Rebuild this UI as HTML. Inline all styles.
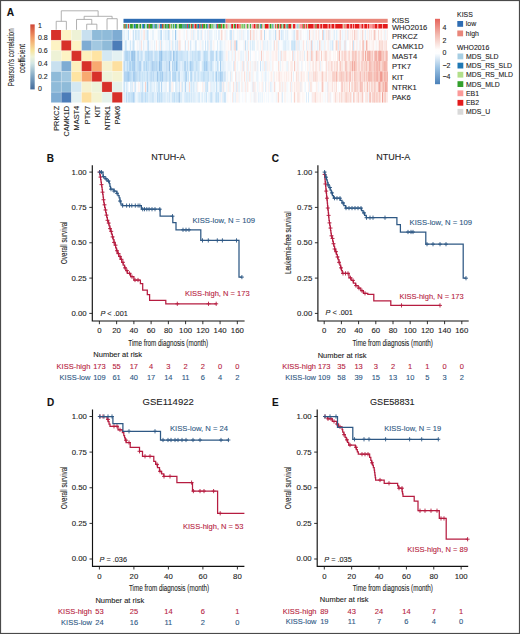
<!DOCTYPE html><html><head><meta charset="utf-8"><style>html,body{margin:0;padding:0;background:#fff}svg{display:block}text{font-family:"Liberation Sans",sans-serif;stroke-width:0.1px}</style></head><body>
<svg width="520" height="634" viewBox="0 0 520 634">
<rect x="0" y="0" width="520" height="634" fill="#fff"/>
<text x="6.80" y="15.80" font-size="10.2" fill="#111" stroke="#111" font-weight="bold">A</text>
<defs><linearGradient id="g1" x1="0" y1="1" x2="0" y2="0"><stop offset="0" stop-color="#41699a"/><stop offset="0.2" stop-color="#7fa6c4"/><stop offset="0.4" stop-color="#d2e6e4"/><stop offset="0.5" stop-color="#eef3d8"/><stop offset="0.6" stop-color="#f6e49c"/><stop offset="0.8" stop-color="#f29a64"/><stop offset="1" stop-color="#cf4535"/></linearGradient><linearGradient id="g2" x1="0" y1="1" x2="0" y2="0"><stop offset="0" stop-color="#4a80b8"/><stop offset="0.25" stop-color="#9cc3e4"/><stop offset="0.47" stop-color="#fdfeff"/><stop offset="0.53" stop-color="#fffdfc"/><stop offset="0.75" stop-color="#f3bcb2"/><stop offset="1" stop-color="#e6625a"/></linearGradient></defs>
<rect x="30.3" y="24.4" width="4.4" height="65" fill="url(#g1)"/>
<text x="37.90" y="27.52" font-size="7.0" fill="#1c1c1c" stroke="#1c1c1c">1</text>
<text x="37.90" y="40.22" font-size="7.0" fill="#1c1c1c" stroke="#1c1c1c">0.8</text>
<text x="37.90" y="52.82" font-size="7.0" fill="#1c1c1c" stroke="#1c1c1c">0.6</text>
<text x="37.90" y="66.12" font-size="7.0" fill="#1c1c1c" stroke="#1c1c1c">0.4</text>
<text x="37.90" y="78.72" font-size="7.0" fill="#1c1c1c" stroke="#1c1c1c">0.2</text>
<text x="37.90" y="91.32" font-size="7.0" fill="#1c1c1c" stroke="#1c1c1c">0</text>
<text transform="translate(13.90,57.25) rotate(-90)" x="0" y="0" font-size="8.2" fill="#1c1c1c" stroke="#1c1c1c" text-anchor="middle" textLength="58" lengthAdjust="spacingAndGlyphs">Pearson's correlation</text>
<text transform="translate(25.30,58.50) rotate(-90)" x="0" y="0" font-size="8.2" fill="#1c1c1c" stroke="#1c1c1c" text-anchor="middle" textLength="29" lengthAdjust="spacingAndGlyphs">coefficient</text>
<rect x="51.10" y="30.00" width="10.17" height="10.36" fill="#d7302a"/>
<rect x="61.27" y="30.00" width="10.17" height="10.36" fill="#fdf3c4"/>
<rect x="71.44" y="30.00" width="10.17" height="10.36" fill="#eef2d6"/>
<rect x="81.61" y="30.00" width="10.17" height="10.36" fill="#c8e0ef"/>
<rect x="91.78" y="30.00" width="10.17" height="10.36" fill="#8fbbd9"/>
<rect x="101.95" y="30.00" width="10.17" height="10.36" fill="#8fbbd9"/>
<rect x="112.12" y="30.00" width="10.17" height="10.36" fill="#7eacd3"/>
<rect x="51.10" y="40.36" width="10.17" height="10.36" fill="#fdf3c4"/>
<rect x="61.27" y="40.36" width="10.17" height="10.36" fill="#d7302a"/>
<rect x="71.44" y="40.36" width="10.17" height="10.36" fill="#fdf3c4"/>
<rect x="81.61" y="40.36" width="10.17" height="10.36" fill="#7eacd3"/>
<rect x="91.78" y="40.36" width="10.17" height="10.36" fill="#a2c8e1"/>
<rect x="101.95" y="40.36" width="10.17" height="10.36" fill="#8fbbd9"/>
<rect x="112.12" y="40.36" width="10.17" height="10.36" fill="#4c7cb8"/>
<rect x="51.10" y="50.72" width="10.17" height="10.36" fill="#eef2d6"/>
<rect x="61.27" y="50.72" width="10.17" height="10.36" fill="#fdf3c4"/>
<rect x="71.44" y="50.72" width="10.17" height="10.36" fill="#d7302a"/>
<rect x="81.61" y="50.72" width="10.17" height="10.36" fill="#fdf0bc"/>
<rect x="91.78" y="50.72" width="10.17" height="10.36" fill="#fee4a2"/>
<rect x="101.95" y="50.72" width="10.17" height="10.36" fill="#d4e8f2"/>
<rect x="112.12" y="50.72" width="10.17" height="10.36" fill="#e4f1f2"/>
<rect x="51.10" y="61.08" width="10.17" height="10.36" fill="#c8e0ef"/>
<rect x="61.27" y="61.08" width="10.17" height="10.36" fill="#7eacd3"/>
<rect x="71.44" y="61.08" width="10.17" height="10.36" fill="#fdf0bc"/>
<rect x="81.61" y="61.08" width="10.17" height="10.36" fill="#d7302a"/>
<rect x="91.78" y="61.08" width="10.17" height="10.36" fill="#f8a970"/>
<rect x="101.95" y="61.08" width="10.17" height="10.36" fill="#f6f2cf"/>
<rect x="112.12" y="61.08" width="10.17" height="10.36" fill="#fde0a0"/>
<rect x="51.10" y="71.44" width="10.17" height="10.36" fill="#8fbbd9"/>
<rect x="61.27" y="71.44" width="10.17" height="10.36" fill="#a2c8e1"/>
<rect x="71.44" y="71.44" width="10.17" height="10.36" fill="#fee4a2"/>
<rect x="81.61" y="71.44" width="10.17" height="10.36" fill="#f8a970"/>
<rect x="91.78" y="71.44" width="10.17" height="10.36" fill="#d7302a"/>
<rect x="101.95" y="71.44" width="10.17" height="10.36" fill="#eef3da"/>
<rect x="112.12" y="71.44" width="10.17" height="10.36" fill="#f4f3d2"/>
<rect x="51.10" y="81.80" width="10.17" height="10.36" fill="#8fbbd9"/>
<rect x="61.27" y="81.80" width="10.17" height="10.36" fill="#8fbbd9"/>
<rect x="71.44" y="81.80" width="10.17" height="10.36" fill="#d4e8f2"/>
<rect x="81.61" y="81.80" width="10.17" height="10.36" fill="#f6f2cf"/>
<rect x="91.78" y="81.80" width="10.17" height="10.36" fill="#eef3da"/>
<rect x="101.95" y="81.80" width="10.17" height="10.36" fill="#d7302a"/>
<rect x="112.12" y="81.80" width="10.17" height="10.36" fill="#e6f1ea"/>
<rect x="51.10" y="92.16" width="10.17" height="10.36" fill="#7eacd3"/>
<rect x="61.27" y="92.16" width="10.17" height="10.36" fill="#4c7cb8"/>
<rect x="71.44" y="92.16" width="10.17" height="10.36" fill="#e4f1f2"/>
<rect x="81.61" y="92.16" width="10.17" height="10.36" fill="#fde0a0"/>
<rect x="91.78" y="92.16" width="10.17" height="10.36" fill="#f4f3d2"/>
<rect x="101.95" y="92.16" width="10.17" height="10.36" fill="#e6f1ea"/>
<rect x="112.12" y="92.16" width="10.17" height="10.36" fill="#d7302a"/>
<path d="M61.27 30.0V102.52M51.1 40.36H122.29M71.44 30.0V102.52M51.1 50.72H122.29M81.61 30.0V102.52M51.1 61.08H122.29M91.78 30.0V102.52M51.1 71.44H122.29M101.95 30.0V102.52M51.1 81.80H122.29M112.12 30.0V102.52M51.1 92.16H122.29" stroke="#ffffff" stroke-opacity="0.35" stroke-width="0.6" fill="none"/>
<path d="M56.19 29.80V21.30H66.36V29.80M86.69 29.80V24.20H96.87V29.80M76.53 29.80V19.40H91.78V24.20M107.03 29.80V18.70H117.21V29.80M84.15 19.40V16.30H112.12V18.70M61.27 21.30V10.80H98.14V16.30" stroke="#a3a3a3" stroke-width="0.85" fill="none"/>
<text transform="translate(59.09,105.8) rotate(-90)" x="0" y="0" font-size="7.4" fill="#1c1c1c" stroke="#1c1c1c" text-anchor="end">PRKCZ</text>
<text transform="translate(69.26,105.8) rotate(-90)" x="0" y="0" font-size="7.4" fill="#1c1c1c" stroke="#1c1c1c" text-anchor="end">CAMK1D</text>
<text transform="translate(79.43,105.8) rotate(-90)" x="0" y="0" font-size="7.4" fill="#1c1c1c" stroke="#1c1c1c" text-anchor="end">MAST4</text>
<text transform="translate(89.59,105.8) rotate(-90)" x="0" y="0" font-size="7.4" fill="#1c1c1c" stroke="#1c1c1c" text-anchor="end">PTK7</text>
<text transform="translate(99.77,105.8) rotate(-90)" x="0" y="0" font-size="7.4" fill="#1c1c1c" stroke="#1c1c1c" text-anchor="end">KIT</text>
<text transform="translate(109.94,105.8) rotate(-90)" x="0" y="0" font-size="7.4" fill="#1c1c1c" stroke="#1c1c1c" text-anchor="end">NTRK1</text>
<text transform="translate(120.11,105.8) rotate(-90)" x="0" y="0" font-size="7.4" fill="#1c1c1c" stroke="#1c1c1c" text-anchor="end">PAK6</text>
<rect x="123.5" y="18.8" width="102.12" height="4" fill="#2f6db3"/>
<rect x="225.62" y="18.8" width="162.08" height="4" fill="#e9867a"/>
<defs><filter id="bx" x="-1%" y="-20%" width="102%" height="140%"><feGaussianBlur stdDeviation="0.55 0.15"/></filter></defs><g filter="url(#bx)">
<rect x="123.50" y="24" width="0.96" height="4.5" fill="#33a02c"/>
<rect x="124.44" y="24" width="0.96" height="4.5" fill="#e31a1c"/>
<rect x="125.37" y="24" width="0.96" height="4.5" fill="#33a02c"/>
<rect x="126.31" y="24" width="0.96" height="4.5" fill="#1f78b4"/>
<rect x="127.25" y="24" width="0.96" height="4.5" fill="#b2df8a"/>
<rect x="128.18" y="24" width="0.96" height="4.5" fill="#e31a1c"/>
<rect x="129.12" y="24" width="0.96" height="4.5" fill="#a6cee3"/>
<rect x="130.06" y="24" width="2.83" height="4.5" fill="#33a02c"/>
<rect x="132.87" y="24" width="0.96" height="4.5" fill="#b2df8a"/>
<rect x="133.81" y="24" width="1.89" height="4.5" fill="#1f78b4"/>
<rect x="135.68" y="24" width="2.83" height="4.5" fill="#33a02c"/>
<rect x="138.49" y="24" width="0.96" height="4.5" fill="#d9d9d9"/>
<rect x="139.43" y="24" width="1.89" height="4.5" fill="#33a02c"/>
<rect x="141.30" y="24" width="0.96" height="4.5" fill="#d9d9d9"/>
<rect x="142.24" y="24" width="1.89" height="4.5" fill="#1f78b4"/>
<rect x="144.11" y="24" width="0.96" height="4.5" fill="#33a02c"/>
<rect x="145.05" y="24" width="1.89" height="4.5" fill="#a6cee3"/>
<rect x="146.92" y="24" width="1.89" height="4.5" fill="#33a02c"/>
<rect x="148.80" y="24" width="0.96" height="4.5" fill="#e31a1c"/>
<rect x="149.73" y="24" width="2.83" height="4.5" fill="#33a02c"/>
<rect x="152.54" y="24" width="0.96" height="4.5" fill="#1f78b4"/>
<rect x="153.48" y="24" width="0.96" height="4.5" fill="#a6cee3"/>
<rect x="154.42" y="24" width="0.96" height="4.5" fill="#1f78b4"/>
<rect x="155.35" y="24" width="0.96" height="4.5" fill="#33a02c"/>
<rect x="156.29" y="24" width="0.96" height="4.5" fill="#1f78b4"/>
<rect x="157.23" y="24" width="0.96" height="4.5" fill="#b2df8a"/>
<rect x="158.16" y="24" width="0.96" height="4.5" fill="#a6cee3"/>
<rect x="159.10" y="24" width="0.96" height="4.5" fill="#fb9a99"/>
<rect x="160.04" y="24" width="1.89" height="4.5" fill="#1f78b4"/>
<rect x="161.91" y="24" width="0.96" height="4.5" fill="#e31a1c"/>
<rect x="162.85" y="24" width="0.96" height="4.5" fill="#33a02c"/>
<rect x="163.79" y="24" width="0.96" height="4.5" fill="#fb9a99"/>
<rect x="164.72" y="24" width="1.89" height="4.5" fill="#33a02c"/>
<rect x="166.60" y="24" width="0.96" height="4.5" fill="#1f78b4"/>
<rect x="167.53" y="24" width="1.89" height="4.5" fill="#33a02c"/>
<rect x="169.41" y="24" width="0.96" height="4.5" fill="#e31a1c"/>
<rect x="170.34" y="24" width="0.96" height="4.5" fill="#b2df8a"/>
<rect x="171.28" y="24" width="0.96" height="4.5" fill="#33a02c"/>
<rect x="172.22" y="24" width="0.96" height="4.5" fill="#a6cee3"/>
<rect x="173.15" y="24" width="0.96" height="4.5" fill="#33a02c"/>
<rect x="174.09" y="24" width="0.96" height="4.5" fill="#b2df8a"/>
<rect x="175.03" y="24" width="0.96" height="4.5" fill="#1f78b4"/>
<rect x="175.97" y="24" width="0.96" height="4.5" fill="#33a02c"/>
<rect x="176.90" y="24" width="0.96" height="4.5" fill="#b2df8a"/>
<rect x="177.84" y="24" width="0.96" height="4.5" fill="#d9d9d9"/>
<rect x="178.78" y="24" width="3.77" height="4.5" fill="#33a02c"/>
<rect x="182.52" y="24" width="0.96" height="4.5" fill="#1f78b4"/>
<rect x="183.46" y="24" width="0.96" height="4.5" fill="#33a02c"/>
<rect x="184.40" y="24" width="0.96" height="4.5" fill="#1f78b4"/>
<rect x="185.33" y="24" width="0.96" height="4.5" fill="#33a02c"/>
<rect x="186.27" y="24" width="0.96" height="4.5" fill="#1f78b4"/>
<rect x="187.21" y="24" width="0.96" height="4.5" fill="#e31a1c"/>
<rect x="188.14" y="24" width="0.96" height="4.5" fill="#1f78b4"/>
<rect x="189.08" y="24" width="0.96" height="4.5" fill="#33a02c"/>
<rect x="190.02" y="24" width="0.96" height="4.5" fill="#b2df8a"/>
<rect x="190.96" y="24" width="0.96" height="4.5" fill="#e31a1c"/>
<rect x="191.89" y="24" width="0.96" height="4.5" fill="#33a02c"/>
<rect x="192.83" y="24" width="0.96" height="4.5" fill="#1f78b4"/>
<rect x="193.77" y="24" width="0.96" height="4.5" fill="#fb9a99"/>
<rect x="194.70" y="24" width="1.89" height="4.5" fill="#e31a1c"/>
<rect x="196.58" y="24" width="0.96" height="4.5" fill="#33a02c"/>
<rect x="197.51" y="24" width="1.89" height="4.5" fill="#1f78b4"/>
<rect x="199.39" y="24" width="0.96" height="4.5" fill="#e31a1c"/>
<rect x="200.32" y="24" width="0.96" height="4.5" fill="#33a02c"/>
<rect x="201.26" y="24" width="0.96" height="4.5" fill="#1f78b4"/>
<rect x="202.20" y="24" width="0.96" height="4.5" fill="#e31a1c"/>
<rect x="203.13" y="24" width="1.89" height="4.5" fill="#33a02c"/>
<rect x="205.01" y="24" width="0.96" height="4.5" fill="#b2df8a"/>
<rect x="205.95" y="24" width="0.96" height="4.5" fill="#33a02c"/>
<rect x="206.88" y="24" width="0.96" height="4.5" fill="#1f78b4"/>
<rect x="207.82" y="24" width="0.96" height="4.5" fill="#a6cee3"/>
<rect x="208.76" y="24" width="0.96" height="4.5" fill="#e31a1c"/>
<rect x="209.69" y="24" width="1.89" height="4.5" fill="#33a02c"/>
<rect x="211.57" y="24" width="0.96" height="4.5" fill="#b2df8a"/>
<rect x="212.50" y="24" width="0.96" height="4.5" fill="#33a02c"/>
<rect x="213.44" y="24" width="0.96" height="4.5" fill="#a6cee3"/>
<rect x="214.38" y="24" width="0.96" height="4.5" fill="#b2df8a"/>
<rect x="215.31" y="24" width="0.96" height="4.5" fill="#a6cee3"/>
<rect x="216.25" y="24" width="0.96" height="4.5" fill="#1f78b4"/>
<rect x="217.19" y="24" width="0.96" height="4.5" fill="#e31a1c"/>
<rect x="218.12" y="24" width="2.83" height="4.5" fill="#33a02c"/>
<rect x="220.94" y="24" width="0.96" height="4.5" fill="#e31a1c"/>
<rect x="221.87" y="24" width="0.96" height="4.5" fill="#b2df8a"/>
<rect x="222.81" y="24" width="1.89" height="4.5" fill="#33a02c"/>
<rect x="224.68" y="24" width="0.96" height="4.5" fill="#b2df8a"/>
<rect x="225.62" y="24" width="0.96" height="4.5" fill="#fb9a99"/>
<rect x="226.56" y="24" width="0.96" height="4.5" fill="#e31a1c"/>
<rect x="227.49" y="24" width="0.96" height="4.5" fill="#d9d9d9"/>
<rect x="228.43" y="24" width="0.96" height="4.5" fill="#b2df8a"/>
<rect x="229.37" y="24" width="0.96" height="4.5" fill="#d9d9d9"/>
<rect x="230.30" y="24" width="0.96" height="4.5" fill="#a6cee3"/>
<rect x="231.24" y="24" width="1.89" height="4.5" fill="#e31a1c"/>
<rect x="233.11" y="24" width="0.96" height="4.5" fill="#b2df8a"/>
<rect x="234.05" y="24" width="0.96" height="4.5" fill="#33a02c"/>
<rect x="234.99" y="24" width="0.96" height="4.5" fill="#e31a1c"/>
<rect x="235.93" y="24" width="0.96" height="4.5" fill="#a6cee3"/>
<rect x="236.86" y="24" width="1.89" height="4.5" fill="#e31a1c"/>
<rect x="238.74" y="24" width="0.96" height="4.5" fill="#fb9a99"/>
<rect x="239.67" y="24" width="0.96" height="4.5" fill="#e31a1c"/>
<rect x="240.61" y="24" width="1.89" height="4.5" fill="#b2df8a"/>
<rect x="242.48" y="24" width="0.96" height="4.5" fill="#33a02c"/>
<rect x="243.42" y="24" width="0.96" height="4.5" fill="#b2df8a"/>
<rect x="244.36" y="24" width="0.96" height="4.5" fill="#33a02c"/>
<rect x="245.29" y="24" width="0.96" height="4.5" fill="#d9d9d9"/>
<rect x="246.23" y="24" width="0.96" height="4.5" fill="#fb9a99"/>
<rect x="247.17" y="24" width="0.96" height="4.5" fill="#33a02c"/>
<rect x="248.10" y="24" width="0.96" height="4.5" fill="#b2df8a"/>
<rect x="249.04" y="24" width="0.96" height="4.5" fill="#d9d9d9"/>
<rect x="249.98" y="24" width="0.96" height="4.5" fill="#33a02c"/>
<rect x="250.92" y="24" width="0.96" height="4.5" fill="#d9d9d9"/>
<rect x="251.85" y="24" width="1.89" height="4.5" fill="#fb9a99"/>
<rect x="253.73" y="24" width="1.89" height="4.5" fill="#e31a1c"/>
<rect x="255.60" y="24" width="0.96" height="4.5" fill="#fb9a99"/>
<rect x="256.54" y="24" width="0.96" height="4.5" fill="#33a02c"/>
<rect x="257.47" y="24" width="0.96" height="4.5" fill="#e31a1c"/>
<rect x="258.41" y="24" width="0.96" height="4.5" fill="#33a02c"/>
<rect x="259.35" y="24" width="0.96" height="4.5" fill="#d9d9d9"/>
<rect x="260.28" y="24" width="0.96" height="4.5" fill="#1f78b4"/>
<rect x="261.22" y="24" width="0.96" height="4.5" fill="#33a02c"/>
<rect x="262.16" y="24" width="0.96" height="4.5" fill="#fb9a99"/>
<rect x="263.10" y="24" width="0.96" height="4.5" fill="#d9d9d9"/>
<rect x="264.03" y="24" width="0.96" height="4.5" fill="#b2df8a"/>
<rect x="264.97" y="24" width="3.77" height="4.5" fill="#e31a1c"/>
<rect x="268.72" y="24" width="0.96" height="4.5" fill="#d9d9d9"/>
<rect x="269.65" y="24" width="1.89" height="4.5" fill="#33a02c"/>
<rect x="271.53" y="24" width="0.96" height="4.5" fill="#b2df8a"/>
<rect x="272.46" y="24" width="0.96" height="4.5" fill="#1f78b4"/>
<rect x="273.40" y="24" width="0.96" height="4.5" fill="#b2df8a"/>
<rect x="274.34" y="24" width="0.96" height="4.5" fill="#d9d9d9"/>
<rect x="275.27" y="24" width="0.96" height="4.5" fill="#e31a1c"/>
<rect x="276.21" y="24" width="0.96" height="4.5" fill="#b2df8a"/>
<rect x="277.15" y="24" width="0.96" height="4.5" fill="#e31a1c"/>
<rect x="278.09" y="24" width="0.96" height="4.5" fill="#33a02c"/>
<rect x="279.02" y="24" width="0.96" height="4.5" fill="#fb9a99"/>
<rect x="279.96" y="24" width="0.96" height="4.5" fill="#e31a1c"/>
<rect x="280.90" y="24" width="0.96" height="4.5" fill="#33a02c"/>
<rect x="281.83" y="24" width="0.96" height="4.5" fill="#d9d9d9"/>
<rect x="282.77" y="24" width="0.96" height="4.5" fill="#33a02c"/>
<rect x="283.71" y="24" width="1.89" height="4.5" fill="#e31a1c"/>
<rect x="285.58" y="24" width="0.96" height="4.5" fill="#b2df8a"/>
<rect x="286.52" y="24" width="0.96" height="4.5" fill="#1f78b4"/>
<rect x="287.45" y="24" width="0.96" height="4.5" fill="#33a02c"/>
<rect x="288.39" y="24" width="2.83" height="4.5" fill="#e31a1c"/>
<rect x="291.20" y="24" width="0.96" height="4.5" fill="#b2df8a"/>
<rect x="292.14" y="24" width="0.96" height="4.5" fill="#d9d9d9"/>
<rect x="293.08" y="24" width="1.89" height="4.5" fill="#e31a1c"/>
<rect x="294.95" y="24" width="0.96" height="4.5" fill="#fb9a99"/>
<rect x="295.89" y="24" width="0.96" height="4.5" fill="#d9d9d9"/>
<rect x="296.82" y="24" width="1.89" height="4.5" fill="#a6cee3"/>
<rect x="298.70" y="24" width="0.96" height="4.5" fill="#b2df8a"/>
<rect x="299.63" y="24" width="2.83" height="4.5" fill="#fb9a99"/>
<rect x="302.44" y="24" width="0.96" height="4.5" fill="#e31a1c"/>
<rect x="303.38" y="24" width="0.96" height="4.5" fill="#33a02c"/>
<rect x="304.32" y="24" width="0.96" height="4.5" fill="#e31a1c"/>
<rect x="305.25" y="24" width="0.96" height="4.5" fill="#fb9a99"/>
<rect x="306.19" y="24" width="0.96" height="4.5" fill="#e31a1c"/>
<rect x="307.13" y="24" width="0.96" height="4.5" fill="#b2df8a"/>
<rect x="308.07" y="24" width="5.64" height="4.5" fill="#e31a1c"/>
<rect x="313.69" y="24" width="0.96" height="4.5" fill="#fb9a99"/>
<rect x="314.62" y="24" width="0.96" height="4.5" fill="#e31a1c"/>
<rect x="315.56" y="24" width="0.96" height="4.5" fill="#33a02c"/>
<rect x="316.50" y="24" width="2.83" height="4.5" fill="#e31a1c"/>
<rect x="319.31" y="24" width="0.96" height="4.5" fill="#fb9a99"/>
<rect x="320.24" y="24" width="1.89" height="4.5" fill="#e31a1c"/>
<rect x="322.12" y="24" width="0.96" height="4.5" fill="#fb9a99"/>
<rect x="323.06" y="24" width="4.70" height="4.5" fill="#e31a1c"/>
<rect x="327.74" y="24" width="0.96" height="4.5" fill="#fb9a99"/>
<rect x="328.68" y="24" width="1.89" height="4.5" fill="#e31a1c"/>
<rect x="330.55" y="24" width="0.96" height="4.5" fill="#fb9a99"/>
<rect x="331.49" y="24" width="2.83" height="4.5" fill="#e31a1c"/>
<rect x="334.30" y="24" width="0.96" height="4.5" fill="#fb9a99"/>
<rect x="335.23" y="24" width="7.52" height="4.5" fill="#e31a1c"/>
<rect x="342.73" y="24" width="0.96" height="4.5" fill="#fb9a99"/>
<rect x="343.67" y="24" width="0.96" height="4.5" fill="#b2df8a"/>
<rect x="344.60" y="24" width="0.96" height="4.5" fill="#e31a1c"/>
<rect x="345.54" y="24" width="0.96" height="4.5" fill="#fb9a99"/>
<rect x="346.48" y="24" width="2.83" height="4.5" fill="#e31a1c"/>
<rect x="349.29" y="24" width="0.96" height="4.5" fill="#fb9a99"/>
<rect x="350.22" y="24" width="1.89" height="4.5" fill="#e31a1c"/>
<rect x="352.10" y="24" width="0.96" height="4.5" fill="#fb9a99"/>
<rect x="353.04" y="24" width="0.96" height="4.5" fill="#e31a1c"/>
<rect x="353.97" y="24" width="0.96" height="4.5" fill="#fb9a99"/>
<rect x="354.91" y="24" width="4.70" height="4.5" fill="#e31a1c"/>
<rect x="359.59" y="24" width="1.89" height="4.5" fill="#fb9a99"/>
<rect x="361.47" y="24" width="1.89" height="4.5" fill="#e31a1c"/>
<rect x="363.34" y="24" width="0.96" height="4.5" fill="#fb9a99"/>
<rect x="364.28" y="24" width="2.83" height="4.5" fill="#e31a1c"/>
<rect x="367.09" y="24" width="0.96" height="4.5" fill="#fb9a99"/>
<rect x="368.03" y="24" width="0.96" height="4.5" fill="#e31a1c"/>
<rect x="368.96" y="24" width="3.77" height="4.5" fill="#fb9a99"/>
<rect x="372.71" y="24" width="0.96" height="4.5" fill="#e31a1c"/>
<rect x="373.65" y="24" width="0.96" height="4.5" fill="#fb9a99"/>
<rect x="374.58" y="24" width="2.83" height="4.5" fill="#e31a1c"/>
<rect x="377.39" y="24" width="0.96" height="4.5" fill="#fb9a99"/>
<rect x="378.33" y="24" width="3.77" height="4.5" fill="#e31a1c"/>
<rect x="382.08" y="24" width="0.96" height="4.5" fill="#fb9a99"/>
<rect x="383.02" y="24" width="4.70" height="4.5" fill="#e31a1c"/>
</g>
<g class="hr" transform="translate(0,30.00)"><rect x="123.50" width="0.97" height="10.4" fill="#d6eaf9"/><rect x="124.44" width="0.97" height="10.4" fill="#dfeffb"/><rect x="125.37" width="0.97" height="10.4" fill="#f7fbfe"/><rect x="126.31" width="0.97" height="10.4" fill="#eaf4fc"/><rect x="127.25" width="0.97" height="10.4" fill="#eaf4fc"/><rect x="128.18" width="0.97" height="10.4" fill="#badbf4"/><rect x="129.12" width="0.97" height="10.4" fill="#fdfeff"/><rect x="130.06" width="0.97" height="10.4" fill="#fef8f7"/><rect x="131.00" width="0.97" height="10.4" fill="#fffefe"/><rect x="131.93" width="0.97" height="10.4" fill="#f8fbfe"/><rect x="132.87" width="0.97" height="10.4" fill="#b6d8f3"/><rect x="133.81" width="0.97" height="10.4" fill="#fcfeff"/><rect x="134.74" width="0.97" height="10.4" fill="#d6eaf9"/><rect x="135.68" width="0.97" height="10.4" fill="#a9d0f0"/><rect x="136.62" width="0.97" height="10.4" fill="#f8fcfe"/><rect x="137.55" width="0.97" height="10.4" fill="#c6e2f7"/><rect x="138.49" width="0.97" height="10.4" fill="#cae4f7"/><rect x="139.43" width="0.97" height="10.4" fill="#d8ebfa"/><rect x="140.36" width="0.97" height="10.4" fill="#fef5f3"/><rect x="141.30" width="0.97" height="10.4" fill="#ddeefa"/><rect x="142.24" width="0.97" height="10.4" fill="#eef6fd"/><rect x="143.17" width="0.97" height="10.4" fill="#fceae6"/><rect x="144.11" width="0.97" height="10.4" fill="#fbe4df"/><rect x="145.05" width="0.97" height="10.4" fill="#ebf5fc"/><rect x="145.99" width="0.97" height="10.4" fill="#e3f1fb"/><rect x="146.92" width="0.97" height="10.4" fill="#c2e0f6"/><rect x="147.86" width="0.97" height="10.4" fill="#d2e8f9"/><rect x="148.80" width="0.97" height="10.4" fill="#fffffe"/><rect x="149.73" width="0.97" height="10.4" fill="#f7fbfe"/><rect x="150.67" width="0.97" height="10.4" fill="#edf6fd"/><rect x="151.61" width="0.97" height="10.4" fill="#fffefd"/><rect x="152.54" width="0.97" height="10.4" fill="#cce5f8"/><rect x="153.48" width="0.97" height="10.4" fill="#e9f3fc"/><rect x="154.42" width="0.97" height="10.4" fill="#fefbfb"/><rect x="155.35" width="0.97" height="10.4" fill="#f6fbfe"/><rect x="156.29" width="0.97" height="10.4" fill="#fefbfa"/><rect x="157.23" width="0.97" height="10.4" fill="#f3f9fd"/><rect x="158.16" width="0.97" height="10.4" fill="#e4f1fb"/><rect x="159.10" width="0.97" height="10.4" fill="#e9f4fc"/><rect x="160.04" width="0.97" height="10.4" fill="#cee6f8"/><rect x="160.98" width="0.97" height="10.4" fill="#b5d8f3"/><rect x="161.91" width="0.97" height="10.4" fill="#fffefe"/><rect x="162.85" width="0.97" height="10.4" fill="#e5f1fb"/><rect x="163.79" width="0.97" height="10.4" fill="#f7fbfe"/><rect x="164.72" width="0.97" height="10.4" fill="#c9e3f7"/><rect x="165.66" width="0.97" height="10.4" fill="#e1effb"/><rect x="166.60" width="0.97" height="10.4" fill="#d8ebf9"/><rect x="167.53" width="0.97" height="10.4" fill="#d6eaf9"/><rect x="168.47" width="0.97" height="10.4" fill="#a9d0f0"/><rect x="169.41" width="0.97" height="10.4" fill="#dcedfa"/><rect x="170.34" width="0.97" height="10.4" fill="#fef8f7"/><rect x="171.28" width="0.97" height="10.4" fill="#fefaf9"/><rect x="172.22" width="0.97" height="10.4" fill="#dbedfa"/><rect x="173.15" width="0.97" height="10.4" fill="#ebf5fc"/><rect x="174.09" width="0.97" height="10.4" fill="#f8fcfe"/><rect x="175.03" width="0.97" height="10.4" fill="#9cc8ed"/><rect x="175.97" width="0.97" height="10.4" fill="#e1f0fb"/><rect x="176.90" width="0.97" height="10.4" fill="#f3f9fd"/><rect x="177.84" width="0.97" height="10.4" fill="#fef7f6"/><rect x="178.78" width="0.97" height="10.4" fill="#fdeeeb"/><rect x="179.71" width="0.97" height="10.4" fill="#fdeeeb"/><rect x="180.65" width="0.97" height="10.4" fill="#fffefe"/><rect x="181.59" width="0.97" height="10.4" fill="#f7fbfe"/><rect x="182.52" width="0.97" height="10.4" fill="#fef9f8"/><rect x="183.46" width="0.97" height="10.4" fill="#eef6fd"/><rect x="184.40" width="0.97" height="10.4" fill="#ecf5fc"/><rect x="185.33" width="0.97" height="10.4" fill="#fffefe"/><rect x="186.27" width="0.97" height="10.4" fill="#fceae6"/><rect x="187.21" width="0.97" height="10.4" fill="#ebf4fc"/><rect x="188.14" width="0.97" height="10.4" fill="#f7fbfe"/><rect x="189.08" width="0.97" height="10.4" fill="#fafcfe"/><rect x="190.02" width="0.97" height="10.4" fill="#fef5f4"/><rect x="190.96" width="0.97" height="10.4" fill="#e8f3fc"/><rect x="191.89" width="0.97" height="10.4" fill="#fdefec"/><rect x="192.83" width="0.97" height="10.4" fill="#d7ebf9"/><rect x="193.77" width="0.97" height="10.4" fill="#e9f3fc"/><rect x="194.70" width="0.97" height="10.4" fill="#ebf5fc"/><rect x="195.64" width="0.97" height="10.4" fill="#fefaf9"/><rect x="196.58" width="0.97" height="10.4" fill="#fef8f6"/><rect x="197.51" width="0.97" height="10.4" fill="#c5e2f7"/><rect x="198.45" width="0.97" height="10.4" fill="#d9ebfa"/><rect x="199.39" width="0.97" height="10.4" fill="#f7fbfe"/><rect x="200.32" width="0.97" height="10.4" fill="#e3f0fb"/><rect x="201.26" width="0.97" height="10.4" fill="#d5e9f9"/><rect x="202.20" width="0.97" height="10.4" fill="#fdf1ef"/><rect x="203.13" width="0.97" height="10.4" fill="#fcfdff"/><rect x="204.07" width="0.97" height="10.4" fill="#f0f7fd"/><rect x="205.01" width="0.97" height="10.4" fill="#e7f2fc"/><rect x="205.95" width="0.97" height="10.4" fill="#fbfdff"/><rect x="206.88" width="0.97" height="10.4" fill="#e0effb"/><rect x="207.82" width="0.97" height="10.4" fill="#fdeeeb"/><rect x="208.76" width="0.97" height="10.4" fill="#deeefa"/><rect x="209.69" width="0.97" height="10.4" fill="#d8ebfa"/><rect x="210.63" width="0.97" height="10.4" fill="#e9f4fc"/><rect x="211.57" width="0.97" height="10.4" fill="#dbedfa"/><rect x="212.50" width="0.97" height="10.4" fill="#fcfdff"/><rect x="213.44" width="0.97" height="10.4" fill="#fbfdfe"/><rect x="214.38" width="0.97" height="10.4" fill="#e9f4fc"/><rect x="215.31" width="0.97" height="10.4" fill="#f3f9fd"/><rect x="216.25" width="0.97" height="10.4" fill="#e2f0fb"/><rect x="217.19" width="0.97" height="10.4" fill="#ffffff"/><rect x="218.12" width="0.97" height="10.4" fill="#e0effb"/><rect x="219.06" width="0.97" height="10.4" fill="#e4f1fb"/><rect x="220.00" width="0.97" height="10.4" fill="#fef8f7"/><rect x="220.94" width="0.97" height="10.4" fill="#f9d5ce"/><rect x="221.87" width="0.97" height="10.4" fill="#fbe5e1"/><rect x="222.81" width="0.97" height="10.4" fill="#fafcfe"/><rect x="223.75" width="0.97" height="10.4" fill="#fdfeff"/><rect x="224.68" width="0.97" height="10.4" fill="#fbe1dc"/><rect x="225.62" width="0.97" height="10.4" fill="#f0f7fd"/><rect x="226.56" width="0.97" height="10.4" fill="#e0effb"/><rect x="227.49" width="0.97" height="10.4" fill="#f8fcfe"/><rect x="228.43" width="0.97" height="10.4" fill="#ffffff"/><rect x="229.37" width="0.97" height="10.4" fill="#deeefa"/><rect x="230.30" width="0.97" height="10.4" fill="#bcddf5"/><rect x="231.24" width="0.97" height="10.4" fill="#c2e0f6"/><rect x="232.18" width="0.97" height="10.4" fill="#fdf1ef"/><rect x="233.11" width="0.97" height="10.4" fill="#e1f0fb"/><rect x="234.05" width="0.97" height="10.4" fill="#f4f9fe"/><rect x="234.99" width="0.97" height="10.4" fill="#fefbfb"/><rect x="235.93" width="0.97" height="10.4" fill="#fbfdfe"/><rect x="236.86" width="0.97" height="10.4" fill="#e8f3fc"/><rect x="237.80" width="0.97" height="10.4" fill="#fef9f8"/><rect x="238.74" width="0.97" height="10.4" fill="#e2f0fb"/><rect x="239.67" width="0.97" height="10.4" fill="#ebf4fc"/><rect x="240.61" width="0.97" height="10.4" fill="#e3f1fb"/><rect x="241.55" width="0.97" height="10.4" fill="#fce9e5"/><rect x="242.48" width="0.97" height="10.4" fill="#eef6fd"/><rect x="243.42" width="0.97" height="10.4" fill="#dcedfa"/><rect x="244.36" width="0.97" height="10.4" fill="#f3f9fd"/><rect x="245.29" width="0.97" height="10.4" fill="#f4f9fe"/><rect x="246.23" width="0.97" height="10.4" fill="#fcfdff"/><rect x="247.17" width="0.97" height="10.4" fill="#d5e9f9"/><rect x="248.10" width="0.97" height="10.4" fill="#e0effb"/><rect x="249.04" width="0.97" height="10.4" fill="#f7fbfe"/><rect x="249.98" width="0.97" height="10.4" fill="#f6c5bb"/><rect x="250.92" width="0.97" height="10.4" fill="#fdf0ee"/><rect x="251.85" width="0.97" height="10.4" fill="#edf5fc"/><rect x="252.79" width="0.97" height="10.4" fill="#fbe3de"/><rect x="253.73" width="0.97" height="10.4" fill="#f8d1c9"/><rect x="254.66" width="0.97" height="10.4" fill="#fcfeff"/><rect x="255.60" width="0.97" height="10.4" fill="#eaf4fc"/><rect x="256.54" width="0.97" height="10.4" fill="#fbe6e2"/><rect x="257.47" width="0.97" height="10.4" fill="#f9fcfe"/><rect x="258.41" width="0.97" height="10.4" fill="#fef8f6"/><rect x="259.35" width="0.97" height="10.4" fill="#f2f8fd"/><rect x="260.28" width="0.97" height="10.4" fill="#faddd7"/><rect x="261.22" width="0.97" height="10.4" fill="#f8d1c9"/><rect x="262.16" width="0.97" height="10.4" fill="#fef5f3"/><rect x="263.10" width="0.97" height="10.4" fill="#fefbfb"/><rect x="264.03" width="0.97" height="10.4" fill="#b9dbf4"/><rect x="264.97" width="0.97" height="10.4" fill="#fef8f7"/><rect x="265.91" width="0.97" height="10.4" fill="#f3f9fd"/><rect x="266.84" width="0.97" height="10.4" fill="#fffefd"/><rect x="267.78" width="0.97" height="10.4" fill="#fef9f8"/><rect x="268.72" width="0.97" height="10.4" fill="#eef6fd"/><rect x="269.65" width="0.97" height="10.4" fill="#c1dff6"/><rect x="270.59" width="0.97" height="10.4" fill="#fafcfe"/><rect x="271.53" width="0.97" height="10.4" fill="#e6f2fc"/><rect x="272.46" width="0.97" height="10.4" fill="#f7fbfe"/><rect x="273.40" width="0.97" height="10.4" fill="#dfeefb"/><rect x="274.34" width="0.97" height="10.4" fill="#f1f8fd"/><rect x="275.27" width="0.97" height="10.4" fill="#afd4f2"/><rect x="276.21" width="0.97" height="10.4" fill="#fcece8"/><rect x="277.15" width="0.97" height="10.4" fill="#fef8f6"/><rect x="278.09" width="0.97" height="10.4" fill="#fcebe8"/><rect x="279.02" width="0.97" height="10.4" fill="#f6c3b9"/><rect x="279.96" width="0.97" height="10.4" fill="#f6fafe"/><rect x="280.90" width="0.97" height="10.4" fill="#cbe4f8"/><rect x="281.83" width="0.97" height="10.4" fill="#e2f0fb"/><rect x="282.77" width="0.97" height="10.4" fill="#d4e9f9"/><rect x="283.71" width="0.97" height="10.4" fill="#f2f8fd"/><rect x="284.64" width="0.97" height="10.4" fill="#fcfeff"/><rect x="285.58" width="0.97" height="10.4" fill="#c8e3f7"/><rect x="286.52" width="0.97" height="10.4" fill="#fefaf9"/><rect x="287.45" width="0.97" height="10.4" fill="#c9e4f7"/><rect x="288.39" width="0.97" height="10.4" fill="#fefbfa"/><rect x="289.33" width="0.97" height="10.4" fill="#fafcfe"/><rect x="290.26" width="0.97" height="10.4" fill="#fbfdfe"/><rect x="291.20" width="0.97" height="10.4" fill="#f4f9fe"/><rect x="292.14" width="0.97" height="10.4" fill="#eef6fd"/><rect x="293.08" width="0.97" height="10.4" fill="#e1effb"/><rect x="294.01" width="0.97" height="10.4" fill="#d3e9f9"/><rect x="294.95" width="0.97" height="10.4" fill="#f5fafe"/><rect x="295.89" width="0.97" height="10.4" fill="#faddd7"/><rect x="296.82" width="0.97" height="10.4" fill="#f7cbc3"/><rect x="297.76" width="0.97" height="10.4" fill="#f9d5ce"/><rect x="298.70" width="0.97" height="10.4" fill="#fef8f7"/><rect x="299.63" width="0.97" height="10.4" fill="#e5f2fb"/><rect x="300.57" width="0.97" height="10.4" fill="#fbe0da"/><rect x="301.51" width="0.97" height="10.4" fill="#f5fafe"/><rect x="302.44" width="0.97" height="10.4" fill="#fffefe"/><rect x="303.38" width="0.97" height="10.4" fill="#f2f8fd"/><rect x="304.32" width="0.97" height="10.4" fill="#fdfeff"/><rect x="305.25" width="0.97" height="10.4" fill="#f8fbfe"/><rect x="306.19" width="0.97" height="10.4" fill="#f8fbfe"/><rect x="307.13" width="0.97" height="10.4" fill="#e7f2fc"/><rect x="308.07" width="0.97" height="10.4" fill="#f0f7fd"/><rect x="309.00" width="0.97" height="10.4" fill="#f7c8bf"/><rect x="309.94" width="0.97" height="10.4" fill="#f2f8fd"/><rect x="310.88" width="0.97" height="10.4" fill="#fef7f5"/><rect x="311.81" width="0.97" height="10.4" fill="#fdf2ef"/><rect x="312.75" width="0.97" height="10.4" fill="#fce9e6"/><rect x="313.69" width="0.97" height="10.4" fill="#e4f1fb"/><rect x="314.62" width="0.97" height="10.4" fill="#fdfeff"/><rect x="315.56" width="0.97" height="10.4" fill="#fbe5e0"/><rect x="316.50" width="0.97" height="10.4" fill="#fce8e4"/><rect x="317.43" width="0.97" height="10.4" fill="#feffff"/><rect x="318.37" width="0.97" height="10.4" fill="#faded8"/><rect x="319.31" width="0.97" height="10.4" fill="#eaf4fc"/><rect x="320.24" width="0.97" height="10.4" fill="#fcfdff"/><rect x="321.18" width="0.97" height="10.4" fill="#fbfdfe"/><rect x="322.12" width="0.97" height="10.4" fill="#f8ccc3"/><rect x="323.06" width="0.97" height="10.4" fill="#c6e2f7"/><rect x="323.99" width="0.97" height="10.4" fill="#e9f4fc"/><rect x="324.93" width="0.97" height="10.4" fill="#f4f9fe"/><rect x="325.87" width="0.97" height="10.4" fill="#fadfd9"/><rect x="326.80" width="0.97" height="10.4" fill="#fffdfd"/><rect x="327.74" width="0.97" height="10.4" fill="#f8cfc7"/><rect x="328.68" width="0.97" height="10.4" fill="#d3e8f9"/><rect x="329.61" width="0.97" height="10.4" fill="#faded8"/><rect x="330.55" width="0.97" height="10.4" fill="#f7fbfe"/><rect x="331.49" width="0.97" height="10.4" fill="#f3f9fd"/><rect x="332.42" width="0.97" height="10.4" fill="#fdf4f2"/><rect x="333.36" width="0.97" height="10.4" fill="#e8f3fc"/><rect x="334.30" width="0.97" height="10.4" fill="#d9ecfa"/><rect x="335.23" width="0.97" height="10.4" fill="#fefbfa"/><rect x="336.17" width="0.97" height="10.4" fill="#ddeefa"/><rect x="337.11" width="0.97" height="10.4" fill="#f1f8fd"/><rect x="338.05" width="0.97" height="10.4" fill="#fef9f8"/><rect x="338.98" width="0.97" height="10.4" fill="#fdf0ee"/><rect x="339.92" width="0.97" height="10.4" fill="#f7cac1"/><rect x="340.86" width="0.97" height="10.4" fill="#fefbfa"/><rect x="341.79" width="0.97" height="10.4" fill="#e1effb"/><rect x="342.73" width="0.97" height="10.4" fill="#eef6fd"/><rect x="343.67" width="0.97" height="10.4" fill="#f2f8fd"/><rect x="344.60" width="0.97" height="10.4" fill="#ebf4fc"/><rect x="345.54" width="0.97" height="10.4" fill="#fadfda"/><rect x="346.48" width="0.97" height="10.4" fill="#fef7f5"/><rect x="347.41" width="0.97" height="10.4" fill="#d5eaf9"/><rect x="348.35" width="0.97" height="10.4" fill="#fbe6e2"/><rect x="349.29" width="0.97" height="10.4" fill="#fef5f4"/><rect x="350.22" width="0.97" height="10.4" fill="#fcedea"/><rect x="351.16" width="0.97" height="10.4" fill="#fdf4f2"/><rect x="352.10" width="0.97" height="10.4" fill="#fbe1dc"/><rect x="353.04" width="0.97" height="10.4" fill="#fef7f6"/><rect x="353.97" width="0.97" height="10.4" fill="#f7c9c1"/><rect x="354.91" width="0.97" height="10.4" fill="#fbe6e2"/><rect x="355.85" width="0.97" height="10.4" fill="#fbe4e0"/><rect x="356.78" width="0.97" height="10.4" fill="#fbe6e2"/><rect x="357.72" width="0.97" height="10.4" fill="#e4f1fb"/><rect x="358.66" width="0.97" height="10.4" fill="#fef9f8"/><rect x="359.59" width="0.97" height="10.4" fill="#fef7f5"/><rect x="360.53" width="0.97" height="10.4" fill="#fcede9"/><rect x="361.47" width="0.97" height="10.4" fill="#eff7fd"/><rect x="362.40" width="0.97" height="10.4" fill="#f6bfb5"/><rect x="363.34" width="0.97" height="10.4" fill="#fdf4f2"/><rect x="364.28" width="0.97" height="10.4" fill="#f3f9fd"/><rect x="365.21" width="0.97" height="10.4" fill="#dbedfa"/><rect x="366.15" width="0.97" height="10.4" fill="#fef7f6"/><rect x="367.09" width="0.97" height="10.4" fill="#fdf0ed"/><rect x="368.03" width="0.97" height="10.4" fill="#f2f8fd"/><rect x="368.96" width="0.97" height="10.4" fill="#fce8e4"/><rect x="369.90" width="0.97" height="10.4" fill="#fefaf9"/><rect x="370.84" width="0.97" height="10.4" fill="#fadcd6"/><rect x="371.77" width="0.97" height="10.4" fill="#ffffff"/><rect x="372.71" width="0.97" height="10.4" fill="#fcedea"/><rect x="373.65" width="0.97" height="10.4" fill="#f9d5ce"/><rect x="374.58" width="0.97" height="10.4" fill="#f19e93"/><rect x="375.52" width="0.97" height="10.4" fill="#f8fcfe"/><rect x="376.46" width="0.97" height="10.4" fill="#fdf3f1"/><rect x="377.39" width="0.97" height="10.4" fill="#f9fcfe"/><rect x="378.33" width="0.97" height="10.4" fill="#f8cfc7"/><rect x="379.27" width="0.97" height="10.4" fill="#fbfdfe"/><rect x="380.20" width="0.97" height="10.4" fill="#fdf3f1"/><rect x="381.14" width="0.97" height="10.4" fill="#fceae6"/><rect x="382.08" width="0.97" height="10.4" fill="#fefafa"/><rect x="383.02" width="0.97" height="10.4" fill="#f5fafe"/><rect x="383.95" width="0.97" height="10.4" fill="#fdeeea"/><rect x="384.89" width="0.97" height="10.4" fill="#e6f2fb"/><rect x="385.83" width="0.97" height="10.4" fill="#f7fbfe"/><rect x="386.76" width="0.97" height="10.4" fill="#fcebe8"/></g>
<g class="hr" transform="translate(0,40.36)"><rect x="123.50" width="0.97" height="10.4" fill="#ecf5fc"/><rect x="124.44" width="0.97" height="10.4" fill="#e1f0fb"/><rect x="125.37" width="0.97" height="10.4" fill="#b3d6f3"/><rect x="126.31" width="0.97" height="10.4" fill="#d1e8f9"/><rect x="127.25" width="0.97" height="10.4" fill="#f9fcfe"/><rect x="128.18" width="0.97" height="10.4" fill="#f4f9fd"/><rect x="129.12" width="0.97" height="10.4" fill="#eef6fd"/><rect x="130.06" width="0.97" height="10.4" fill="#d1e8f9"/><rect x="131.00" width="0.97" height="10.4" fill="#f7fbfe"/><rect x="131.93" width="0.97" height="10.4" fill="#e4f1fb"/><rect x="132.87" width="0.97" height="10.4" fill="#c2e0f6"/><rect x="133.81" width="0.97" height="10.4" fill="#cee6f8"/><rect x="134.74" width="0.97" height="10.4" fill="#ffffff"/><rect x="135.68" width="0.97" height="10.4" fill="#f8fcfe"/><rect x="136.62" width="0.97" height="10.4" fill="#fdf3f1"/><rect x="137.55" width="0.97" height="10.4" fill="#e3f0fb"/><rect x="138.49" width="0.97" height="10.4" fill="#fefaf9"/><rect x="139.43" width="0.97" height="10.4" fill="#d9ecfa"/><rect x="140.36" width="0.97" height="10.4" fill="#e6f2fc"/><rect x="141.30" width="0.97" height="10.4" fill="#fad9d3"/><rect x="142.24" width="0.97" height="10.4" fill="#fbfdfe"/><rect x="143.17" width="0.97" height="10.4" fill="#dcedfa"/><rect x="144.11" width="0.97" height="10.4" fill="#f2f8fd"/><rect x="145.05" width="0.97" height="10.4" fill="#f5fafe"/><rect x="145.99" width="0.97" height="10.4" fill="#fef7f6"/><rect x="146.92" width="0.97" height="10.4" fill="#d8ebfa"/><rect x="147.86" width="0.97" height="10.4" fill="#b1d6f2"/><rect x="148.80" width="0.97" height="10.4" fill="#eef6fd"/><rect x="149.73" width="0.97" height="10.4" fill="#eef6fd"/><rect x="150.67" width="0.97" height="10.4" fill="#edf6fd"/><rect x="151.61" width="0.97" height="10.4" fill="#fef6f4"/><rect x="152.54" width="0.97" height="10.4" fill="#eaf4fc"/><rect x="153.48" width="0.97" height="10.4" fill="#feffff"/><rect x="154.42" width="0.97" height="10.4" fill="#d3e9f9"/><rect x="155.35" width="0.97" height="10.4" fill="#fdfeff"/><rect x="156.29" width="0.97" height="10.4" fill="#fbe2dd"/><rect x="157.23" width="0.97" height="10.4" fill="#fcfeff"/><rect x="158.16" width="0.97" height="10.4" fill="#f2f8fd"/><rect x="159.10" width="0.97" height="10.4" fill="#e4f1fb"/><rect x="160.04" width="0.97" height="10.4" fill="#fce9e5"/><rect x="160.98" width="0.97" height="10.4" fill="#cbe5f8"/><rect x="161.91" width="0.97" height="10.4" fill="#eff7fd"/><rect x="162.85" width="0.97" height="10.4" fill="#f2f8fd"/><rect x="163.79" width="0.97" height="10.4" fill="#fffcfc"/><rect x="164.72" width="0.97" height="10.4" fill="#ecf5fc"/><rect x="165.66" width="0.97" height="10.4" fill="#f1f8fd"/><rect x="166.60" width="0.97" height="10.4" fill="#e1effb"/><rect x="167.53" width="0.97" height="10.4" fill="#f0f7fd"/><rect x="168.47" width="0.97" height="10.4" fill="#e9f4fc"/><rect x="169.41" width="0.97" height="10.4" fill="#c5e2f7"/><rect x="170.34" width="0.97" height="10.4" fill="#eff7fd"/><rect x="171.28" width="0.97" height="10.4" fill="#fdeeeb"/><rect x="172.22" width="0.97" height="10.4" fill="#d0e7f8"/><rect x="173.15" width="0.97" height="10.4" fill="#e5f2fb"/><rect x="174.09" width="0.97" height="10.4" fill="#f6fafe"/><rect x="175.03" width="0.97" height="10.4" fill="#d3e8f9"/><rect x="175.97" width="0.97" height="10.4" fill="#e9f4fc"/><rect x="176.90" width="0.97" height="10.4" fill="#c7e3f7"/><rect x="177.84" width="0.97" height="10.4" fill="#fcede9"/><rect x="178.78" width="0.97" height="10.4" fill="#faded9"/><rect x="179.71" width="0.97" height="10.4" fill="#f9d7d0"/><rect x="180.65" width="0.97" height="10.4" fill="#f3f9fd"/><rect x="181.59" width="0.97" height="10.4" fill="#fffcfc"/><rect x="182.52" width="0.97" height="10.4" fill="#f5fafe"/><rect x="183.46" width="0.97" height="10.4" fill="#fefeff"/><rect x="184.40" width="0.97" height="10.4" fill="#fcece9"/><rect x="185.33" width="0.97" height="10.4" fill="#c5e2f7"/><rect x="186.27" width="0.97" height="10.4" fill="#ffffff"/><rect x="187.21" width="0.97" height="10.4" fill="#edf6fd"/><rect x="188.14" width="0.97" height="10.4" fill="#fbe4df"/><rect x="189.08" width="0.97" height="10.4" fill="#fafcfe"/><rect x="190.02" width="0.97" height="10.4" fill="#d5eaf9"/><rect x="190.96" width="0.97" height="10.4" fill="#eff7fd"/><rect x="191.89" width="0.97" height="10.4" fill="#fdfeff"/><rect x="192.83" width="0.97" height="10.4" fill="#f2f8fd"/><rect x="193.77" width="0.97" height="10.4" fill="#f9fcfe"/><rect x="194.70" width="0.97" height="10.4" fill="#e3f1fb"/><rect x="195.64" width="0.97" height="10.4" fill="#b4d7f3"/><rect x="196.58" width="0.97" height="10.4" fill="#fefbfa"/><rect x="197.51" width="0.97" height="10.4" fill="#fffefe"/><rect x="198.45" width="0.97" height="10.4" fill="#f4f9fe"/><rect x="199.39" width="0.97" height="10.4" fill="#f0f7fd"/><rect x="200.32" width="0.97" height="10.4" fill="#fdf2f0"/><rect x="201.26" width="0.97" height="10.4" fill="#f1f8fd"/><rect x="202.20" width="0.97" height="10.4" fill="#e2f0fb"/><rect x="203.13" width="0.97" height="10.4" fill="#ebf5fc"/><rect x="204.07" width="0.97" height="10.4" fill="#fffdfd"/><rect x="205.01" width="0.97" height="10.4" fill="#cde5f8"/><rect x="205.95" width="0.97" height="10.4" fill="#fffffe"/><rect x="206.88" width="0.97" height="10.4" fill="#d4e9f9"/><rect x="207.82" width="0.97" height="10.4" fill="#d9ecfa"/><rect x="208.76" width="0.97" height="10.4" fill="#fcebe7"/><rect x="209.69" width="0.97" height="10.4" fill="#ecf5fc"/><rect x="210.63" width="0.97" height="10.4" fill="#bfdef6"/><rect x="211.57" width="0.97" height="10.4" fill="#e5f1fb"/><rect x="212.50" width="0.97" height="10.4" fill="#fffcfb"/><rect x="213.44" width="0.97" height="10.4" fill="#fcede9"/><rect x="214.38" width="0.97" height="10.4" fill="#f5fafe"/><rect x="215.31" width="0.97" height="10.4" fill="#fcfdff"/><rect x="216.25" width="0.97" height="10.4" fill="#fcfeff"/><rect x="217.19" width="0.97" height="10.4" fill="#d7eaf9"/><rect x="218.12" width="0.97" height="10.4" fill="#f9fcfe"/><rect x="219.06" width="0.97" height="10.4" fill="#eef6fd"/><rect x="220.00" width="0.97" height="10.4" fill="#daecfa"/><rect x="220.94" width="0.97" height="10.4" fill="#e5f2fb"/><rect x="221.87" width="0.97" height="10.4" fill="#eaf4fc"/><rect x="222.81" width="0.97" height="10.4" fill="#f9fcfe"/><rect x="223.75" width="0.97" height="10.4" fill="#eaf4fc"/><rect x="224.68" width="0.97" height="10.4" fill="#eef6fd"/><rect x="225.62" width="0.97" height="10.4" fill="#fdf4f2"/><rect x="226.56" width="0.97" height="10.4" fill="#fafcfe"/><rect x="227.49" width="0.97" height="10.4" fill="#fef8f6"/><rect x="228.43" width="0.97" height="10.4" fill="#fdf1ef"/><rect x="229.37" width="0.97" height="10.4" fill="#fefeff"/><rect x="230.30" width="0.97" height="10.4" fill="#fadbd5"/><rect x="231.24" width="0.97" height="10.4" fill="#cee6f8"/><rect x="232.18" width="0.97" height="10.4" fill="#fdf3f1"/><rect x="233.11" width="0.97" height="10.4" fill="#e7f3fc"/><rect x="234.05" width="0.97" height="10.4" fill="#fadcd5"/><rect x="234.99" width="0.97" height="10.4" fill="#fadad4"/><rect x="235.93" width="0.97" height="10.4" fill="#a5ceef"/><rect x="236.86" width="0.97" height="10.4" fill="#cfe7f8"/><rect x="237.80" width="0.97" height="10.4" fill="#fefbfa"/><rect x="238.74" width="0.97" height="10.4" fill="#fef6f5"/><rect x="239.67" width="0.97" height="10.4" fill="#fffdfc"/><rect x="240.61" width="0.97" height="10.4" fill="#f6fafe"/><rect x="241.55" width="0.97" height="10.4" fill="#feffff"/><rect x="242.48" width="0.97" height="10.4" fill="#fafcfe"/><rect x="243.42" width="0.97" height="10.4" fill="#e9f3fc"/><rect x="244.36" width="0.97" height="10.4" fill="#fcedea"/><rect x="245.29" width="0.97" height="10.4" fill="#b0d5f2"/><rect x="246.23" width="0.97" height="10.4" fill="#f5fafe"/><rect x="247.17" width="0.97" height="10.4" fill="#dfeffb"/><rect x="248.10" width="0.97" height="10.4" fill="#fdf0ed"/><rect x="249.04" width="0.97" height="10.4" fill="#f5fafe"/><rect x="249.98" width="0.97" height="10.4" fill="#d6eaf9"/><rect x="250.92" width="0.97" height="10.4" fill="#f9fcfe"/><rect x="251.85" width="0.97" height="10.4" fill="#cfe7f8"/><rect x="252.79" width="0.97" height="10.4" fill="#ecf5fc"/><rect x="253.73" width="0.97" height="10.4" fill="#c3e1f6"/><rect x="254.66" width="0.97" height="10.4" fill="#fcfeff"/><rect x="255.60" width="0.97" height="10.4" fill="#fafdfe"/><rect x="256.54" width="0.97" height="10.4" fill="#fdf1ee"/><rect x="257.47" width="0.97" height="10.4" fill="#e3f0fb"/><rect x="258.41" width="0.97" height="10.4" fill="#fdf3f1"/><rect x="259.35" width="0.97" height="10.4" fill="#fafcfe"/><rect x="260.28" width="0.97" height="10.4" fill="#e7f3fc"/><rect x="261.22" width="0.97" height="10.4" fill="#fef5f4"/><rect x="262.16" width="0.97" height="10.4" fill="#fdeeeb"/><rect x="263.10" width="0.97" height="10.4" fill="#e3f0fb"/><rect x="264.03" width="0.97" height="10.4" fill="#e9f4fc"/><rect x="264.97" width="0.97" height="10.4" fill="#ecf5fc"/><rect x="265.91" width="0.97" height="10.4" fill="#f5fafe"/><rect x="266.84" width="0.97" height="10.4" fill="#d6eaf9"/><rect x="267.78" width="0.97" height="10.4" fill="#fef6f4"/><rect x="268.72" width="0.97" height="10.4" fill="#e7f3fc"/><rect x="269.65" width="0.97" height="10.4" fill="#f9fcfe"/><rect x="270.59" width="0.97" height="10.4" fill="#d3e9f9"/><rect x="271.53" width="0.97" height="10.4" fill="#fdfeff"/><rect x="272.46" width="0.97" height="10.4" fill="#fefaf9"/><rect x="273.40" width="0.97" height="10.4" fill="#deeefa"/><rect x="274.34" width="0.97" height="10.4" fill="#f9d4cd"/><rect x="275.27" width="0.97" height="10.4" fill="#fafcfe"/><rect x="276.21" width="0.97" height="10.4" fill="#fbe3de"/><rect x="277.15" width="0.97" height="10.4" fill="#fcebe7"/><rect x="278.09" width="0.97" height="10.4" fill="#e0effb"/><rect x="279.02" width="0.97" height="10.4" fill="#f6fafe"/><rect x="279.96" width="0.97" height="10.4" fill="#fbfdfe"/><rect x="280.90" width="0.97" height="10.4" fill="#fafcfe"/><rect x="281.83" width="0.97" height="10.4" fill="#f5fafe"/><rect x="282.77" width="0.97" height="10.4" fill="#e9f4fc"/><rect x="283.71" width="0.97" height="10.4" fill="#c7e3f7"/><rect x="284.64" width="0.97" height="10.4" fill="#eff7fd"/><rect x="285.58" width="0.97" height="10.4" fill="#badbf5"/><rect x="286.52" width="0.97" height="10.4" fill="#fffefe"/><rect x="287.45" width="0.97" height="10.4" fill="#dbedfa"/><rect x="288.39" width="0.97" height="10.4" fill="#e4f1fb"/><rect x="289.33" width="0.97" height="10.4" fill="#f2f8fd"/><rect x="290.26" width="0.97" height="10.4" fill="#fef9f8"/><rect x="291.20" width="0.97" height="10.4" fill="#c8e3f7"/><rect x="292.14" width="0.97" height="10.4" fill="#c6e2f7"/><rect x="293.08" width="0.97" height="10.4" fill="#cde6f8"/><rect x="294.01" width="0.97" height="10.4" fill="#c3e0f6"/><rect x="294.95" width="0.97" height="10.4" fill="#d6eaf9"/><rect x="295.89" width="0.97" height="10.4" fill="#fce9e5"/><rect x="296.82" width="0.97" height="10.4" fill="#dcedfa"/><rect x="297.76" width="0.97" height="10.4" fill="#fcedea"/><rect x="298.70" width="0.97" height="10.4" fill="#c7e2f7"/><rect x="299.63" width="0.97" height="10.4" fill="#fafcfe"/><rect x="300.57" width="0.97" height="10.4" fill="#ecf5fc"/><rect x="301.51" width="0.97" height="10.4" fill="#f1f8fd"/><rect x="302.44" width="0.97" height="10.4" fill="#fdf3f0"/><rect x="303.38" width="0.97" height="10.4" fill="#fadbd5"/><rect x="304.32" width="0.97" height="10.4" fill="#fbfdfe"/><rect x="305.25" width="0.97" height="10.4" fill="#fffcfb"/><rect x="306.19" width="0.97" height="10.4" fill="#dcedfa"/><rect x="307.13" width="0.97" height="10.4" fill="#fdf1ee"/><rect x="308.07" width="0.97" height="10.4" fill="#eff7fd"/><rect x="309.00" width="0.97" height="10.4" fill="#fef5f3"/><rect x="309.94" width="0.97" height="10.4" fill="#eef6fd"/><rect x="310.88" width="0.97" height="10.4" fill="#f6c4bb"/><rect x="311.81" width="0.97" height="10.4" fill="#c2e0f6"/><rect x="312.75" width="0.97" height="10.4" fill="#f7fbfe"/><rect x="313.69" width="0.97" height="10.4" fill="#fcebe7"/><rect x="314.62" width="0.97" height="10.4" fill="#f6fafe"/><rect x="315.56" width="0.97" height="10.4" fill="#eaf4fc"/><rect x="316.50" width="0.97" height="10.4" fill="#fefaf9"/><rect x="317.43" width="0.97" height="10.4" fill="#d1e7f8"/><rect x="318.37" width="0.97" height="10.4" fill="#f7fbfe"/><rect x="319.31" width="0.97" height="10.4" fill="#f6c3ba"/><rect x="320.24" width="0.97" height="10.4" fill="#fcebe7"/><rect x="321.18" width="0.97" height="10.4" fill="#e8f3fc"/><rect x="322.12" width="0.97" height="10.4" fill="#eff7fd"/><rect x="323.06" width="0.97" height="10.4" fill="#eff7fd"/><rect x="323.99" width="0.97" height="10.4" fill="#fdeeea"/><rect x="324.93" width="0.97" height="10.4" fill="#e9f4fc"/><rect x="325.87" width="0.97" height="10.4" fill="#f9fcfe"/><rect x="326.80" width="0.97" height="10.4" fill="#fef9f8"/><rect x="327.74" width="0.97" height="10.4" fill="#fbe3de"/><rect x="328.68" width="0.97" height="10.4" fill="#f1f8fd"/><rect x="329.61" width="0.97" height="10.4" fill="#ecf5fc"/><rect x="330.55" width="0.97" height="10.4" fill="#d0e7f8"/><rect x="331.49" width="0.97" height="10.4" fill="#eff7fd"/><rect x="332.42" width="0.97" height="10.4" fill="#b7d9f4"/><rect x="333.36" width="0.97" height="10.4" fill="#fdeeeb"/><rect x="334.30" width="0.97" height="10.4" fill="#fdfeff"/><rect x="335.23" width="0.97" height="10.4" fill="#fce8e4"/><rect x="336.17" width="0.97" height="10.4" fill="#f7c9c0"/><rect x="337.11" width="0.97" height="10.4" fill="#fbe1dc"/><rect x="338.05" width="0.97" height="10.4" fill="#d9ebfa"/><rect x="338.98" width="0.97" height="10.4" fill="#fbe5e1"/><rect x="339.92" width="0.97" height="10.4" fill="#fadad3"/><rect x="340.86" width="0.97" height="10.4" fill="#f2f8fd"/><rect x="341.79" width="0.97" height="10.4" fill="#edf6fd"/><rect x="342.73" width="0.97" height="10.4" fill="#fdfeff"/><rect x="343.67" width="0.97" height="10.4" fill="#ddedfa"/><rect x="344.60" width="0.97" height="10.4" fill="#f8cec6"/><rect x="345.54" width="0.97" height="10.4" fill="#d0e7f8"/><rect x="346.48" width="0.97" height="10.4" fill="#f9fcfe"/><rect x="347.41" width="0.97" height="10.4" fill="#fffdfd"/><rect x="348.35" width="0.97" height="10.4" fill="#feffff"/><rect x="349.29" width="0.97" height="10.4" fill="#fdf1ee"/><rect x="350.22" width="0.97" height="10.4" fill="#fdf1ef"/><rect x="351.16" width="0.97" height="10.4" fill="#fffefe"/><rect x="352.10" width="0.97" height="10.4" fill="#f9d5ce"/><rect x="353.04" width="0.97" height="10.4" fill="#c9e3f7"/><rect x="353.97" width="0.97" height="10.4" fill="#fdefec"/><rect x="354.91" width="0.97" height="10.4" fill="#f9fcfe"/><rect x="355.85" width="0.97" height="10.4" fill="#fcedea"/><rect x="356.78" width="0.97" height="10.4" fill="#fcedea"/><rect x="357.72" width="0.97" height="10.4" fill="#f1f8fd"/><rect x="358.66" width="0.97" height="10.4" fill="#f6fbfe"/><rect x="359.59" width="0.97" height="10.4" fill="#faddd7"/><rect x="360.53" width="0.97" height="10.4" fill="#fcebe7"/><rect x="361.47" width="0.97" height="10.4" fill="#ffffff"/><rect x="362.40" width="0.97" height="10.4" fill="#f4b4aa"/><rect x="363.34" width="0.97" height="10.4" fill="#f4b7ac"/><rect x="364.28" width="0.97" height="10.4" fill="#ebf4fc"/><rect x="365.21" width="0.97" height="10.4" fill="#fdefec"/><rect x="366.15" width="0.97" height="10.4" fill="#f2a99e"/><rect x="367.09" width="0.97" height="10.4" fill="#fadad3"/><rect x="368.03" width="0.97" height="10.4" fill="#fef5f3"/><rect x="368.96" width="0.97" height="10.4" fill="#fdf1ee"/><rect x="369.90" width="0.97" height="10.4" fill="#fef8f7"/><rect x="370.84" width="0.97" height="10.4" fill="#fdf2ef"/><rect x="371.77" width="0.97" height="10.4" fill="#fffcfb"/><rect x="372.71" width="0.97" height="10.4" fill="#f9d9d2"/><rect x="373.65" width="0.97" height="10.4" fill="#fefbfa"/><rect x="374.58" width="0.97" height="10.4" fill="#fef6f5"/><rect x="375.52" width="0.97" height="10.4" fill="#f2f9fd"/><rect x="376.46" width="0.97" height="10.4" fill="#fce9e5"/><rect x="377.39" width="0.97" height="10.4" fill="#f7fbfe"/><rect x="378.33" width="0.97" height="10.4" fill="#fcebe7"/><rect x="379.27" width="0.97" height="10.4" fill="#f7c8bf"/><rect x="380.20" width="0.97" height="10.4" fill="#faded8"/><rect x="381.14" width="0.97" height="10.4" fill="#fadbd5"/><rect x="382.08" width="0.97" height="10.4" fill="#f9d7d1"/><rect x="383.02" width="0.97" height="10.4" fill="#fdefec"/><rect x="383.95" width="0.97" height="10.4" fill="#fbe5e0"/><rect x="384.89" width="0.97" height="10.4" fill="#fcebe7"/><rect x="385.83" width="0.97" height="10.4" fill="#f7cbc3"/><rect x="386.76" width="0.97" height="10.4" fill="#fffcfc"/></g>
<g class="hr" transform="translate(0,50.72)"><rect x="123.50" width="0.97" height="10.4" fill="#cee6f8"/><rect x="124.44" width="0.97" height="10.4" fill="#b1d5f2"/><rect x="125.37" width="0.97" height="10.4" fill="#a1cbee"/><rect x="126.31" width="0.97" height="10.4" fill="#9cc8ed"/><rect x="127.25" width="0.97" height="10.4" fill="#a0caee"/><rect x="128.18" width="0.97" height="10.4" fill="#b4d7f3"/><rect x="129.12" width="0.97" height="10.4" fill="#aed3f1"/><rect x="130.06" width="0.97" height="10.4" fill="#cde5f8"/><rect x="131.00" width="0.97" height="10.4" fill="#a2cbee"/><rect x="131.93" width="0.97" height="10.4" fill="#8fbee7"/><rect x="132.87" width="0.97" height="10.4" fill="#9ec9ee"/><rect x="133.81" width="0.97" height="10.4" fill="#82b4e0"/><rect x="134.74" width="0.97" height="10.4" fill="#a2ccef"/><rect x="135.68" width="0.97" height="10.4" fill="#d7ebf9"/><rect x="136.62" width="0.97" height="10.4" fill="#cbe4f8"/><rect x="137.55" width="0.97" height="10.4" fill="#a1cbee"/><rect x="138.49" width="0.97" height="10.4" fill="#acd2f1"/><rect x="139.43" width="0.97" height="10.4" fill="#daecfa"/><rect x="140.36" width="0.97" height="10.4" fill="#c0dff6"/><rect x="141.30" width="0.97" height="10.4" fill="#b5d8f3"/><rect x="142.24" width="0.97" height="10.4" fill="#cbe4f8"/><rect x="143.17" width="0.97" height="10.4" fill="#e6f2fc"/><rect x="144.11" width="0.97" height="10.4" fill="#deeefa"/><rect x="145.05" width="0.97" height="10.4" fill="#c1dff6"/><rect x="145.99" width="0.97" height="10.4" fill="#c0dff6"/><rect x="146.92" width="0.97" height="10.4" fill="#c1dff6"/><rect x="147.86" width="0.97" height="10.4" fill="#a6ceef"/><rect x="148.80" width="0.97" height="10.4" fill="#b2d6f2"/><rect x="149.73" width="0.97" height="10.4" fill="#c0dff6"/><rect x="150.67" width="0.97" height="10.4" fill="#a6cef0"/><rect x="151.61" width="0.97" height="10.4" fill="#b6d9f4"/><rect x="152.54" width="0.97" height="10.4" fill="#b3d6f3"/><rect x="153.48" width="0.97" height="10.4" fill="#e7f2fc"/><rect x="154.42" width="0.97" height="10.4" fill="#b1d5f2"/><rect x="155.35" width="0.97" height="10.4" fill="#b6d8f3"/><rect x="156.29" width="0.97" height="10.4" fill="#b7d9f4"/><rect x="157.23" width="0.97" height="10.4" fill="#c4e1f7"/><rect x="158.16" width="0.97" height="10.4" fill="#d2e8f9"/><rect x="159.10" width="0.97" height="10.4" fill="#a3ccef"/><rect x="160.04" width="0.97" height="10.4" fill="#a9d0f0"/><rect x="160.98" width="0.97" height="10.4" fill="#91bfe8"/><rect x="161.91" width="0.97" height="10.4" fill="#b2d6f3"/><rect x="162.85" width="0.97" height="10.4" fill="#c2e0f6"/><rect x="163.79" width="0.97" height="10.4" fill="#c5e1f7"/><rect x="164.72" width="0.97" height="10.4" fill="#b7d9f4"/><rect x="165.66" width="0.97" height="10.4" fill="#b4d7f3"/><rect x="166.60" width="0.97" height="10.4" fill="#bbdbf5"/><rect x="167.53" width="0.97" height="10.4" fill="#cbe4f8"/><rect x="168.47" width="0.97" height="10.4" fill="#b3d7f3"/><rect x="169.41" width="0.97" height="10.4" fill="#b2d6f2"/><rect x="170.34" width="0.97" height="10.4" fill="#9dc8ed"/><rect x="171.28" width="0.97" height="10.4" fill="#bbdcf5"/><rect x="172.22" width="0.97" height="10.4" fill="#ddeefa"/><rect x="173.15" width="0.97" height="10.4" fill="#8fbee7"/><rect x="174.09" width="0.97" height="10.4" fill="#b1d5f2"/><rect x="175.03" width="0.97" height="10.4" fill="#c9e3f7"/><rect x="175.97" width="0.97" height="10.4" fill="#aed3f2"/><rect x="176.90" width="0.97" height="10.4" fill="#a6cef0"/><rect x="177.84" width="0.97" height="10.4" fill="#cce5f8"/><rect x="178.78" width="0.97" height="10.4" fill="#badbf5"/><rect x="179.71" width="0.97" height="10.4" fill="#cae4f8"/><rect x="180.65" width="0.97" height="10.4" fill="#a9d0f0"/><rect x="181.59" width="0.97" height="10.4" fill="#c3e0f6"/><rect x="182.52" width="0.97" height="10.4" fill="#b7d9f4"/><rect x="183.46" width="0.97" height="10.4" fill="#cae4f7"/><rect x="184.40" width="0.97" height="10.4" fill="#c7e2f7"/><rect x="185.33" width="0.97" height="10.4" fill="#cbe5f8"/><rect x="186.27" width="0.97" height="10.4" fill="#cae4f8"/><rect x="187.21" width="0.97" height="10.4" fill="#bbdcf5"/><rect x="188.14" width="0.97" height="10.4" fill="#e2f0fb"/><rect x="189.08" width="0.97" height="10.4" fill="#e3f0fb"/><rect x="190.02" width="0.97" height="10.4" fill="#d3e8f9"/><rect x="190.96" width="0.97" height="10.4" fill="#d9ebfa"/><rect x="191.89" width="0.97" height="10.4" fill="#bfdef6"/><rect x="192.83" width="0.97" height="10.4" fill="#c5e1f7"/><rect x="193.77" width="0.97" height="10.4" fill="#d4e9f9"/><rect x="194.70" width="0.97" height="10.4" fill="#abd2f1"/><rect x="195.64" width="0.97" height="10.4" fill="#cde5f8"/><rect x="196.58" width="0.97" height="10.4" fill="#b9dbf4"/><rect x="197.51" width="0.97" height="10.4" fill="#bfdff6"/><rect x="198.45" width="0.97" height="10.4" fill="#a4cdef"/><rect x="199.39" width="0.97" height="10.4" fill="#b4d7f3"/><rect x="200.32" width="0.97" height="10.4" fill="#cbe4f8"/><rect x="201.26" width="0.97" height="10.4" fill="#e7f2fc"/><rect x="202.20" width="0.97" height="10.4" fill="#dfeefb"/><rect x="203.13" width="0.97" height="10.4" fill="#c7e2f7"/><rect x="204.07" width="0.97" height="10.4" fill="#b5d8f3"/><rect x="205.01" width="0.97" height="10.4" fill="#bbdcf5"/><rect x="205.95" width="0.97" height="10.4" fill="#c0dff6"/><rect x="206.88" width="0.97" height="10.4" fill="#b7d9f4"/><rect x="207.82" width="0.97" height="10.4" fill="#dbecfa"/><rect x="208.76" width="0.97" height="10.4" fill="#edf6fd"/><rect x="209.69" width="0.97" height="10.4" fill="#c7e2f7"/><rect x="210.63" width="0.97" height="10.4" fill="#99c6ec"/><rect x="211.57" width="0.97" height="10.4" fill="#b4d7f3"/><rect x="212.50" width="0.97" height="10.4" fill="#a4cdef"/><rect x="213.44" width="0.97" height="10.4" fill="#b7d9f4"/><rect x="214.38" width="0.97" height="10.4" fill="#f1f8fd"/><rect x="215.31" width="0.97" height="10.4" fill="#cfe7f8"/><rect x="216.25" width="0.97" height="10.4" fill="#a2ccef"/><rect x="217.19" width="0.97" height="10.4" fill="#cce5f8"/><rect x="218.12" width="0.97" height="10.4" fill="#e1effb"/><rect x="219.06" width="0.97" height="10.4" fill="#c2e0f6"/><rect x="220.00" width="0.97" height="10.4" fill="#b2d6f2"/><rect x="220.94" width="0.97" height="10.4" fill="#c5e1f7"/><rect x="221.87" width="0.97" height="10.4" fill="#c6e2f7"/><rect x="222.81" width="0.97" height="10.4" fill="#dfeffb"/><rect x="223.75" width="0.97" height="10.4" fill="#e8f3fc"/><rect x="224.68" width="0.97" height="10.4" fill="#e9f3fc"/><rect x="225.62" width="0.97" height="10.4" fill="#fdf2f0"/><rect x="226.56" width="0.97" height="10.4" fill="#fce8e4"/><rect x="227.49" width="0.97" height="10.4" fill="#fef9f8"/><rect x="228.43" width="0.97" height="10.4" fill="#d8ebfa"/><rect x="229.37" width="0.97" height="10.4" fill="#f4fafe"/><rect x="230.30" width="0.97" height="10.4" fill="#f6fafe"/><rect x="231.24" width="0.97" height="10.4" fill="#e8f3fc"/><rect x="232.18" width="0.97" height="10.4" fill="#fdefec"/><rect x="233.11" width="0.97" height="10.4" fill="#f1f8fd"/><rect x="234.05" width="0.97" height="10.4" fill="#e9f4fc"/><rect x="234.99" width="0.97" height="10.4" fill="#fbe3de"/><rect x="235.93" width="0.97" height="10.4" fill="#fafcfe"/><rect x="236.86" width="0.97" height="10.4" fill="#f8fcfe"/><rect x="237.80" width="0.97" height="10.4" fill="#fdf2f0"/><rect x="238.74" width="0.97" height="10.4" fill="#fdeeeb"/><rect x="239.67" width="0.97" height="10.4" fill="#fefeff"/><rect x="240.61" width="0.97" height="10.4" fill="#d0e7f8"/><rect x="241.55" width="0.97" height="10.4" fill="#eff7fd"/><rect x="242.48" width="0.97" height="10.4" fill="#e9f4fc"/><rect x="243.42" width="0.97" height="10.4" fill="#e1f0fb"/><rect x="244.36" width="0.97" height="10.4" fill="#fefafa"/><rect x="245.29" width="0.97" height="10.4" fill="#fcebe7"/><rect x="246.23" width="0.97" height="10.4" fill="#e4f1fb"/><rect x="247.17" width="0.97" height="10.4" fill="#eff7fd"/><rect x="248.10" width="0.97" height="10.4" fill="#f9d9d2"/><rect x="249.04" width="0.97" height="10.4" fill="#fcfdff"/><rect x="249.98" width="0.97" height="10.4" fill="#e1f0fb"/><rect x="250.92" width="0.97" height="10.4" fill="#fefeff"/><rect x="251.85" width="0.97" height="10.4" fill="#fcfdff"/><rect x="252.79" width="0.97" height="10.4" fill="#fffefe"/><rect x="253.73" width="0.97" height="10.4" fill="#fef5f3"/><rect x="254.66" width="0.97" height="10.4" fill="#fefeff"/><rect x="255.60" width="0.97" height="10.4" fill="#e6f2fc"/><rect x="256.54" width="0.97" height="10.4" fill="#fffdfd"/><rect x="257.47" width="0.97" height="10.4" fill="#ffffff"/><rect x="258.41" width="0.97" height="10.4" fill="#eef6fd"/><rect x="259.35" width="0.97" height="10.4" fill="#fdf4f3"/><rect x="260.28" width="0.97" height="10.4" fill="#f3f9fd"/><rect x="261.22" width="0.97" height="10.4" fill="#f6c1b7"/><rect x="262.16" width="0.97" height="10.4" fill="#f2f9fd"/><rect x="263.10" width="0.97" height="10.4" fill="#fdeeeb"/><rect x="264.03" width="0.97" height="10.4" fill="#f9fcfe"/><rect x="264.97" width="0.97" height="10.4" fill="#f9fcfe"/><rect x="265.91" width="0.97" height="10.4" fill="#fdf3f1"/><rect x="266.84" width="0.97" height="10.4" fill="#fdf3f0"/><rect x="267.78" width="0.97" height="10.4" fill="#fdeeea"/><rect x="268.72" width="0.97" height="10.4" fill="#fefbfa"/><rect x="269.65" width="0.97" height="10.4" fill="#edf6fd"/><rect x="270.59" width="0.97" height="10.4" fill="#edf5fc"/><rect x="271.53" width="0.97" height="10.4" fill="#fef5f3"/><rect x="272.46" width="0.97" height="10.4" fill="#fcedea"/><rect x="273.40" width="0.97" height="10.4" fill="#fdeeeb"/><rect x="274.34" width="0.97" height="10.4" fill="#fef6f4"/><rect x="275.27" width="0.97" height="10.4" fill="#fdeeeb"/><rect x="276.21" width="0.97" height="10.4" fill="#fce8e3"/><rect x="277.15" width="0.97" height="10.4" fill="#fdf4f2"/><rect x="278.09" width="0.97" height="10.4" fill="#e2f0fb"/><rect x="279.02" width="0.97" height="10.4" fill="#f7fbfe"/><rect x="279.96" width="0.97" height="10.4" fill="#e2f0fb"/><rect x="280.90" width="0.97" height="10.4" fill="#fadad4"/><rect x="281.83" width="0.97" height="10.4" fill="#f2f8fd"/><rect x="282.77" width="0.97" height="10.4" fill="#fce9e5"/><rect x="283.71" width="0.97" height="10.4" fill="#fcece8"/><rect x="284.64" width="0.97" height="10.4" fill="#fadad4"/><rect x="285.58" width="0.97" height="10.4" fill="#fbe3de"/><rect x="286.52" width="0.97" height="10.4" fill="#fefbfb"/><rect x="287.45" width="0.97" height="10.4" fill="#fafcfe"/><rect x="288.39" width="0.97" height="10.4" fill="#fef8f6"/><rect x="289.33" width="0.97" height="10.4" fill="#fef5f3"/><rect x="290.26" width="0.97" height="10.4" fill="#fefbfa"/><rect x="291.20" width="0.97" height="10.4" fill="#fffefe"/><rect x="292.14" width="0.97" height="10.4" fill="#f9d8d2"/><rect x="293.08" width="0.97" height="10.4" fill="#dbecfa"/><rect x="294.01" width="0.97" height="10.4" fill="#fcedea"/><rect x="294.95" width="0.97" height="10.4" fill="#f0f7fd"/><rect x="295.89" width="0.97" height="10.4" fill="#fffefe"/><rect x="296.82" width="0.97" height="10.4" fill="#fbe6e2"/><rect x="297.76" width="0.97" height="10.4" fill="#fdeeeb"/><rect x="298.70" width="0.97" height="10.4" fill="#fdf0ee"/><rect x="299.63" width="0.97" height="10.4" fill="#e5f2fb"/><rect x="300.57" width="0.97" height="10.4" fill="#fbe4df"/><rect x="301.51" width="0.97" height="10.4" fill="#f8fcfe"/><rect x="302.44" width="0.97" height="10.4" fill="#fbe4e0"/><rect x="303.38" width="0.97" height="10.4" fill="#fdf4f2"/><rect x="304.32" width="0.97" height="10.4" fill="#d5eaf9"/><rect x="305.25" width="0.97" height="10.4" fill="#fefbfa"/><rect x="306.19" width="0.97" height="10.4" fill="#fdf2ef"/><rect x="307.13" width="0.97" height="10.4" fill="#f8cec5"/><rect x="308.07" width="0.97" height="10.4" fill="#fdf1ee"/><rect x="309.00" width="0.97" height="10.4" fill="#fdf3f0"/><rect x="309.94" width="0.97" height="10.4" fill="#e9f3fc"/><rect x="310.88" width="0.97" height="10.4" fill="#f6c3b9"/><rect x="311.81" width="0.97" height="10.4" fill="#f7cbc3"/><rect x="312.75" width="0.97" height="10.4" fill="#fcebe7"/><rect x="313.69" width="0.97" height="10.4" fill="#fdf1ee"/><rect x="314.62" width="0.97" height="10.4" fill="#f5fafe"/><rect x="315.56" width="0.97" height="10.4" fill="#fadad3"/><rect x="316.50" width="0.97" height="10.4" fill="#f1a398"/><rect x="317.43" width="0.97" height="10.4" fill="#fbe4e0"/><rect x="318.37" width="0.97" height="10.4" fill="#fadcd7"/><rect x="319.31" width="0.97" height="10.4" fill="#fbe6e2"/><rect x="320.24" width="0.97" height="10.4" fill="#fafcfe"/><rect x="321.18" width="0.97" height="10.4" fill="#f7c7bd"/><rect x="322.12" width="0.97" height="10.4" fill="#fef9f8"/><rect x="323.06" width="0.97" height="10.4" fill="#fdf2ef"/><rect x="323.99" width="0.97" height="10.4" fill="#fcebe7"/><rect x="324.93" width="0.97" height="10.4" fill="#f9d7d0"/><rect x="325.87" width="0.97" height="10.4" fill="#f8d2ca"/><rect x="326.80" width="0.97" height="10.4" fill="#fdf1ee"/><rect x="327.74" width="0.97" height="10.4" fill="#fdefec"/><rect x="328.68" width="0.97" height="10.4" fill="#fbfdff"/><rect x="329.61" width="0.97" height="10.4" fill="#fadad3"/><rect x="330.55" width="0.97" height="10.4" fill="#fef7f5"/><rect x="331.49" width="0.97" height="10.4" fill="#fffcfb"/><rect x="332.42" width="0.97" height="10.4" fill="#fbfdfe"/><rect x="333.36" width="0.97" height="10.4" fill="#fdf0ee"/><rect x="334.30" width="0.97" height="10.4" fill="#fef8f7"/><rect x="335.23" width="0.97" height="10.4" fill="#fdf2f0"/><rect x="336.17" width="0.97" height="10.4" fill="#ffffff"/><rect x="337.11" width="0.97" height="10.4" fill="#fbe0db"/><rect x="338.05" width="0.97" height="10.4" fill="#fbe3de"/><rect x="338.98" width="0.97" height="10.4" fill="#f4b3a9"/><rect x="339.92" width="0.97" height="10.4" fill="#fef8f6"/><rect x="340.86" width="0.97" height="10.4" fill="#fce8e4"/><rect x="341.79" width="0.97" height="10.4" fill="#f7c7bd"/><rect x="342.73" width="0.97" height="10.4" fill="#fbe6e1"/><rect x="343.67" width="0.97" height="10.4" fill="#fadfda"/><rect x="344.60" width="0.97" height="10.4" fill="#f4b2a8"/><rect x="345.54" width="0.97" height="10.4" fill="#f9d3cc"/><rect x="346.48" width="0.97" height="10.4" fill="#fadfda"/><rect x="347.41" width="0.97" height="10.4" fill="#fdf0ed"/><rect x="348.35" width="0.97" height="10.4" fill="#f9d3cb"/><rect x="349.29" width="0.97" height="10.4" fill="#f8cdc4"/><rect x="350.22" width="0.97" height="10.4" fill="#fdf2ef"/><rect x="351.16" width="0.97" height="10.4" fill="#fcebe7"/><rect x="352.10" width="0.97" height="10.4" fill="#f7c5bc"/><rect x="353.04" width="0.97" height="10.4" fill="#f7cbc3"/><rect x="353.97" width="0.97" height="10.4" fill="#f9d8d1"/><rect x="354.91" width="0.97" height="10.4" fill="#f6c1b7"/><rect x="355.85" width="0.97" height="10.4" fill="#f5beb4"/><rect x="356.78" width="0.97" height="10.4" fill="#fdf1ef"/><rect x="357.72" width="0.97" height="10.4" fill="#f9d7d1"/><rect x="358.66" width="0.97" height="10.4" fill="#f7c9c0"/><rect x="359.59" width="0.97" height="10.4" fill="#f9d7d1"/><rect x="360.53" width="0.97" height="10.4" fill="#fef7f6"/><rect x="361.47" width="0.97" height="10.4" fill="#f7ccc3"/><rect x="362.40" width="0.97" height="10.4" fill="#f4b6ac"/><rect x="363.34" width="0.97" height="10.4" fill="#f3aea3"/><rect x="364.28" width="0.97" height="10.4" fill="#fdf1ee"/><rect x="365.21" width="0.97" height="10.4" fill="#ef958a"/><rect x="366.15" width="0.97" height="10.4" fill="#fbe0da"/><rect x="367.09" width="0.97" height="10.4" fill="#f3afa4"/><rect x="368.03" width="0.97" height="10.4" fill="#f4b6ac"/><rect x="368.96" width="0.97" height="10.4" fill="#f2a99e"/><rect x="369.90" width="0.97" height="10.4" fill="#f5bab0"/><rect x="370.84" width="0.97" height="10.4" fill="#f9d8d1"/><rect x="371.77" width="0.97" height="10.4" fill="#f4b2a8"/><rect x="372.71" width="0.97" height="10.4" fill="#f8cec6"/><rect x="373.65" width="0.97" height="10.4" fill="#fef5f4"/><rect x="374.58" width="0.97" height="10.4" fill="#ec7d72"/><rect x="375.52" width="0.97" height="10.4" fill="#f3ada3"/><rect x="376.46" width="0.97" height="10.4" fill="#ee8e83"/><rect x="377.39" width="0.97" height="10.4" fill="#f9d4cc"/><rect x="378.33" width="0.97" height="10.4" fill="#ef9388"/><rect x="379.27" width="0.97" height="10.4" fill="#ef9085"/><rect x="380.20" width="0.97" height="10.4" fill="#ef9287"/><rect x="381.14" width="0.97" height="10.4" fill="#f4b6ac"/><rect x="382.08" width="0.97" height="10.4" fill="#f7c7be"/><rect x="383.02" width="0.97" height="10.4" fill="#f6c1b7"/><rect x="383.95" width="0.97" height="10.4" fill="#fadbd5"/><rect x="384.89" width="0.97" height="10.4" fill="#f8d1c9"/><rect x="385.83" width="0.97" height="10.4" fill="#f2a89d"/><rect x="386.76" width="0.97" height="10.4" fill="#f5beb4"/></g>
<g class="hr" transform="translate(0,61.08)"><rect x="123.50" width="0.97" height="10.4" fill="#abd1f1"/><rect x="124.44" width="0.97" height="10.4" fill="#a9d0f0"/><rect x="125.37" width="0.97" height="10.4" fill="#d4e9f9"/><rect x="126.31" width="0.97" height="10.4" fill="#bfdff6"/><rect x="127.25" width="0.97" height="10.4" fill="#aad1f0"/><rect x="128.18" width="0.97" height="10.4" fill="#c6e2f7"/><rect x="129.12" width="0.97" height="10.4" fill="#a9d0f0"/><rect x="130.06" width="0.97" height="10.4" fill="#aad1f1"/><rect x="131.00" width="0.97" height="10.4" fill="#c3e0f6"/><rect x="131.93" width="0.97" height="10.4" fill="#a3ccef"/><rect x="132.87" width="0.97" height="10.4" fill="#a4cdef"/><rect x="133.81" width="0.97" height="10.4" fill="#8ebde7"/><rect x="134.74" width="0.97" height="10.4" fill="#a2cbee"/><rect x="135.68" width="0.97" height="10.4" fill="#deeefa"/><rect x="136.62" width="0.97" height="10.4" fill="#aad1f0"/><rect x="137.55" width="0.97" height="10.4" fill="#bfdff6"/><rect x="138.49" width="0.97" height="10.4" fill="#a5cdef"/><rect x="139.43" width="0.97" height="10.4" fill="#9ac6ed"/><rect x="140.36" width="0.97" height="10.4" fill="#9ac6ec"/><rect x="141.30" width="0.97" height="10.4" fill="#cee6f8"/><rect x="142.24" width="0.97" height="10.4" fill="#e0effb"/><rect x="143.17" width="0.97" height="10.4" fill="#bfdef6"/><rect x="144.11" width="0.97" height="10.4" fill="#b3d6f3"/><rect x="145.05" width="0.97" height="10.4" fill="#c8e3f7"/><rect x="145.99" width="0.97" height="10.4" fill="#add3f1"/><rect x="146.92" width="0.97" height="10.4" fill="#c1dff6"/><rect x="147.86" width="0.97" height="10.4" fill="#b6d8f3"/><rect x="148.80" width="0.97" height="10.4" fill="#cae4f7"/><rect x="149.73" width="0.97" height="10.4" fill="#c7e3f7"/><rect x="150.67" width="0.97" height="10.4" fill="#aad1f1"/><rect x="151.61" width="0.97" height="10.4" fill="#abd1f1"/><rect x="152.54" width="0.97" height="10.4" fill="#85b6e2"/><rect x="153.48" width="0.97" height="10.4" fill="#add3f1"/><rect x="154.42" width="0.97" height="10.4" fill="#a1cbee"/><rect x="155.35" width="0.97" height="10.4" fill="#b1d5f2"/><rect x="156.29" width="0.97" height="10.4" fill="#a1cbee"/><rect x="157.23" width="0.97" height="10.4" fill="#b9daf4"/><rect x="158.16" width="0.97" height="10.4" fill="#c3e1f6"/><rect x="159.10" width="0.97" height="10.4" fill="#89b9e4"/><rect x="160.04" width="0.97" height="10.4" fill="#a5ceef"/><rect x="160.98" width="0.97" height="10.4" fill="#9dc8ed"/><rect x="161.91" width="0.97" height="10.4" fill="#d0e7f8"/><rect x="162.85" width="0.97" height="10.4" fill="#d5e9f9"/><rect x="163.79" width="0.97" height="10.4" fill="#d0e7f8"/><rect x="164.72" width="0.97" height="10.4" fill="#c2e0f6"/><rect x="165.66" width="0.97" height="10.4" fill="#d5e9f9"/><rect x="166.60" width="0.97" height="10.4" fill="#94c2ea"/><rect x="167.53" width="0.97" height="10.4" fill="#daecfa"/><rect x="168.47" width="0.97" height="10.4" fill="#aed3f1"/><rect x="169.41" width="0.97" height="10.4" fill="#72a7d8"/><rect x="170.34" width="0.97" height="10.4" fill="#f0f7fd"/><rect x="171.28" width="0.97" height="10.4" fill="#eaf4fc"/><rect x="172.22" width="0.97" height="10.4" fill="#a4cdef"/><rect x="173.15" width="0.97" height="10.4" fill="#bfdff6"/><rect x="174.09" width="0.97" height="10.4" fill="#afd4f2"/><rect x="175.03" width="0.97" height="10.4" fill="#c3e1f6"/><rect x="175.97" width="0.97" height="10.4" fill="#91c0e8"/><rect x="176.90" width="0.97" height="10.4" fill="#a5ceef"/><rect x="177.84" width="0.97" height="10.4" fill="#d2e8f9"/><rect x="178.78" width="0.97" height="10.4" fill="#bcdcf5"/><rect x="179.71" width="0.97" height="10.4" fill="#dfeefb"/><rect x="180.65" width="0.97" height="10.4" fill="#cee6f8"/><rect x="181.59" width="0.97" height="10.4" fill="#ecf5fc"/><rect x="182.52" width="0.97" height="10.4" fill="#b6d8f3"/><rect x="183.46" width="0.97" height="10.4" fill="#d5eaf9"/><rect x="184.40" width="0.97" height="10.4" fill="#94c2ea"/><rect x="185.33" width="0.97" height="10.4" fill="#a0caee"/><rect x="186.27" width="0.97" height="10.4" fill="#cfe6f8"/><rect x="187.21" width="0.97" height="10.4" fill="#add3f1"/><rect x="188.14" width="0.97" height="10.4" fill="#d8ebf9"/><rect x="189.08" width="0.97" height="10.4" fill="#c8e3f7"/><rect x="190.02" width="0.97" height="10.4" fill="#a2ccef"/><rect x="190.96" width="0.97" height="10.4" fill="#b3d6f3"/><rect x="191.89" width="0.97" height="10.4" fill="#b3d6f3"/><rect x="192.83" width="0.97" height="10.4" fill="#bbdcf5"/><rect x="193.77" width="0.97" height="10.4" fill="#cfe7f8"/><rect x="194.70" width="0.97" height="10.4" fill="#d1e7f8"/><rect x="195.64" width="0.97" height="10.4" fill="#badbf4"/><rect x="196.58" width="0.97" height="10.4" fill="#add3f1"/><rect x="197.51" width="0.97" height="10.4" fill="#c8e3f7"/><rect x="198.45" width="0.97" height="10.4" fill="#c3e1f6"/><rect x="199.39" width="0.97" height="10.4" fill="#d6eaf9"/><rect x="200.32" width="0.97" height="10.4" fill="#f6fafe"/><rect x="201.26" width="0.97" height="10.4" fill="#e3f0fb"/><rect x="202.20" width="0.97" height="10.4" fill="#c8e3f7"/><rect x="203.13" width="0.97" height="10.4" fill="#c2e0f6"/><rect x="204.07" width="0.97" height="10.4" fill="#a2ccef"/><rect x="205.01" width="0.97" height="10.4" fill="#b5d8f3"/><rect x="205.95" width="0.97" height="10.4" fill="#9dc8ed"/><rect x="206.88" width="0.97" height="10.4" fill="#b0d4f2"/><rect x="207.82" width="0.97" height="10.4" fill="#c4e1f7"/><rect x="208.76" width="0.97" height="10.4" fill="#d9ebfa"/><rect x="209.69" width="0.97" height="10.4" fill="#bcdcf5"/><rect x="210.63" width="0.97" height="10.4" fill="#b2d6f2"/><rect x="211.57" width="0.97" height="10.4" fill="#a8d0f0"/><rect x="212.50" width="0.97" height="10.4" fill="#dfeefb"/><rect x="213.44" width="0.97" height="10.4" fill="#d4e9f9"/><rect x="214.38" width="0.97" height="10.4" fill="#f6fbfe"/><rect x="215.31" width="0.97" height="10.4" fill="#d7eaf9"/><rect x="216.25" width="0.97" height="10.4" fill="#dcedfa"/><rect x="217.19" width="0.97" height="10.4" fill="#b7d9f4"/><rect x="218.12" width="0.97" height="10.4" fill="#d3e9f9"/><rect x="219.06" width="0.97" height="10.4" fill="#f4fafe"/><rect x="220.00" width="0.97" height="10.4" fill="#a2cbee"/><rect x="220.94" width="0.97" height="10.4" fill="#deeefa"/><rect x="221.87" width="0.97" height="10.4" fill="#ddedfa"/><rect x="222.81" width="0.97" height="10.4" fill="#d8ebf9"/><rect x="223.75" width="0.97" height="10.4" fill="#deeefa"/><rect x="224.68" width="0.97" height="10.4" fill="#e7f2fc"/><rect x="225.62" width="0.97" height="10.4" fill="#e6f2fc"/><rect x="226.56" width="0.97" height="10.4" fill="#fffcfc"/><rect x="227.49" width="0.97" height="10.4" fill="#e5f1fb"/><rect x="228.43" width="0.97" height="10.4" fill="#e7f2fc"/><rect x="229.37" width="0.97" height="10.4" fill="#e8f3fc"/><rect x="230.30" width="0.97" height="10.4" fill="#ebf4fc"/><rect x="231.24" width="0.97" height="10.4" fill="#eff7fd"/><rect x="232.18" width="0.97" height="10.4" fill="#fef9f9"/><rect x="233.11" width="0.97" height="10.4" fill="#d8ebfa"/><rect x="234.05" width="0.97" height="10.4" fill="#fbe0db"/><rect x="234.99" width="0.97" height="10.4" fill="#fcebe7"/><rect x="235.93" width="0.97" height="10.4" fill="#f9fcfe"/><rect x="236.86" width="0.97" height="10.4" fill="#eaf4fc"/><rect x="237.80" width="0.97" height="10.4" fill="#f6fbfe"/><rect x="238.74" width="0.97" height="10.4" fill="#fefaf9"/><rect x="239.67" width="0.97" height="10.4" fill="#fcfeff"/><rect x="240.61" width="0.97" height="10.4" fill="#ddeefa"/><rect x="241.55" width="0.97" height="10.4" fill="#fef7f6"/><rect x="242.48" width="0.97" height="10.4" fill="#f9d6cf"/><rect x="243.42" width="0.97" height="10.4" fill="#cae4f7"/><rect x="244.36" width="0.97" height="10.4" fill="#fdeeeb"/><rect x="245.29" width="0.97" height="10.4" fill="#fffcfc"/><rect x="246.23" width="0.97" height="10.4" fill="#e8f3fc"/><rect x="247.17" width="0.97" height="10.4" fill="#fbe3de"/><rect x="248.10" width="0.97" height="10.4" fill="#e5f2fb"/><rect x="249.04" width="0.97" height="10.4" fill="#fef9f8"/><rect x="249.98" width="0.97" height="10.4" fill="#fcede9"/><rect x="250.92" width="0.97" height="10.4" fill="#f3f9fd"/><rect x="251.85" width="0.97" height="10.4" fill="#e9f4fc"/><rect x="252.79" width="0.97" height="10.4" fill="#fdf2ef"/><rect x="253.73" width="0.97" height="10.4" fill="#eff7fd"/><rect x="254.66" width="0.97" height="10.4" fill="#fadcd6"/><rect x="255.60" width="0.97" height="10.4" fill="#e3f1fb"/><rect x="256.54" width="0.97" height="10.4" fill="#fdf3f1"/><rect x="257.47" width="0.97" height="10.4" fill="#d4e9f9"/><rect x="258.41" width="0.97" height="10.4" fill="#fefaf9"/><rect x="259.35" width="0.97" height="10.4" fill="#ffffff"/><rect x="260.28" width="0.97" height="10.4" fill="#b9daf4"/><rect x="261.22" width="0.97" height="10.4" fill="#fffcfb"/><rect x="262.16" width="0.97" height="10.4" fill="#e9f3fc"/><rect x="263.10" width="0.97" height="10.4" fill="#ebf5fc"/><rect x="264.03" width="0.97" height="10.4" fill="#fce9e5"/><rect x="264.97" width="0.97" height="10.4" fill="#e3f0fb"/><rect x="265.91" width="0.97" height="10.4" fill="#e7f3fc"/><rect x="266.84" width="0.97" height="10.4" fill="#fceae7"/><rect x="267.78" width="0.97" height="10.4" fill="#f9fcfe"/><rect x="268.72" width="0.97" height="10.4" fill="#fbe6e2"/><rect x="269.65" width="0.97" height="10.4" fill="#fcfeff"/><rect x="270.59" width="0.97" height="10.4" fill="#e3f1fb"/><rect x="271.53" width="0.97" height="10.4" fill="#fcfeff"/><rect x="272.46" width="0.97" height="10.4" fill="#fbe3de"/><rect x="273.40" width="0.97" height="10.4" fill="#fef8f7"/><rect x="274.34" width="0.97" height="10.4" fill="#ffffff"/><rect x="275.27" width="0.97" height="10.4" fill="#fbfdff"/><rect x="276.21" width="0.97" height="10.4" fill="#f6fbfe"/><rect x="277.15" width="0.97" height="10.4" fill="#fafdfe"/><rect x="278.09" width="0.97" height="10.4" fill="#fadcd6"/><rect x="279.02" width="0.97" height="10.4" fill="#fdf3f1"/><rect x="279.96" width="0.97" height="10.4" fill="#e5f2fb"/><rect x="280.90" width="0.97" height="10.4" fill="#fbfdfe"/><rect x="281.83" width="0.97" height="10.4" fill="#fdf1ee"/><rect x="282.77" width="0.97" height="10.4" fill="#fef5f4"/><rect x="283.71" width="0.97" height="10.4" fill="#fefbfa"/><rect x="284.64" width="0.97" height="10.4" fill="#f5fafe"/><rect x="285.58" width="0.97" height="10.4" fill="#fef7f5"/><rect x="286.52" width="0.97" height="10.4" fill="#e3f0fb"/><rect x="287.45" width="0.97" height="10.4" fill="#e3f1fb"/><rect x="288.39" width="0.97" height="10.4" fill="#fcece8"/><rect x="289.33" width="0.97" height="10.4" fill="#fcfdff"/><rect x="290.26" width="0.97" height="10.4" fill="#fcece8"/><rect x="291.20" width="0.97" height="10.4" fill="#fce8e4"/><rect x="292.14" width="0.97" height="10.4" fill="#fcece9"/><rect x="293.08" width="0.97" height="10.4" fill="#fbfdfe"/><rect x="294.01" width="0.97" height="10.4" fill="#f7c7be"/><rect x="294.95" width="0.97" height="10.4" fill="#fdf2ef"/><rect x="295.89" width="0.97" height="10.4" fill="#f4f9fe"/><rect x="296.82" width="0.97" height="10.4" fill="#fce9e5"/><rect x="297.76" width="0.97" height="10.4" fill="#fce7e2"/><rect x="298.70" width="0.97" height="10.4" fill="#eef6fd"/><rect x="299.63" width="0.97" height="10.4" fill="#fefbfa"/><rect x="300.57" width="0.97" height="10.4" fill="#fffcfc"/><rect x="301.51" width="0.97" height="10.4" fill="#dcedfa"/><rect x="302.44" width="0.97" height="10.4" fill="#fdf4f2"/><rect x="303.38" width="0.97" height="10.4" fill="#fffdfd"/><rect x="304.32" width="0.97" height="10.4" fill="#ffffff"/><rect x="305.25" width="0.97" height="10.4" fill="#f1f8fd"/><rect x="306.19" width="0.97" height="10.4" fill="#fffdfd"/><rect x="307.13" width="0.97" height="10.4" fill="#fdefec"/><rect x="308.07" width="0.97" height="10.4" fill="#fef5f3"/><rect x="309.00" width="0.97" height="10.4" fill="#f0f7fd"/><rect x="309.94" width="0.97" height="10.4" fill="#fdf0ed"/><rect x="310.88" width="0.97" height="10.4" fill="#fef9f8"/><rect x="311.81" width="0.97" height="10.4" fill="#fdf4f3"/><rect x="312.75" width="0.97" height="10.4" fill="#f8d1c9"/><rect x="313.69" width="0.97" height="10.4" fill="#fefaf9"/><rect x="314.62" width="0.97" height="10.4" fill="#fef5f3"/><rect x="315.56" width="0.97" height="10.4" fill="#f9d5ce"/><rect x="316.50" width="0.97" height="10.4" fill="#fbe6e1"/><rect x="317.43" width="0.97" height="10.4" fill="#fef7f6"/><rect x="318.37" width="0.97" height="10.4" fill="#fdf0ee"/><rect x="319.31" width="0.97" height="10.4" fill="#fadbd5"/><rect x="320.24" width="0.97" height="10.4" fill="#e2f0fb"/><rect x="321.18" width="0.97" height="10.4" fill="#fdf3f1"/><rect x="322.12" width="0.97" height="10.4" fill="#fef5f3"/><rect x="323.06" width="0.97" height="10.4" fill="#fcfeff"/><rect x="323.99" width="0.97" height="10.4" fill="#feffff"/><rect x="324.93" width="0.97" height="10.4" fill="#fef8f7"/><rect x="325.87" width="0.97" height="10.4" fill="#f9d4cd"/><rect x="326.80" width="0.97" height="10.4" fill="#f6fafe"/><rect x="327.74" width="0.97" height="10.4" fill="#faddd7"/><rect x="328.68" width="0.97" height="10.4" fill="#fbe3de"/><rect x="329.61" width="0.97" height="10.4" fill="#fce9e5"/><rect x="330.55" width="0.97" height="10.4" fill="#fce7e2"/><rect x="331.49" width="0.97" height="10.4" fill="#f6bfb5"/><rect x="332.42" width="0.97" height="10.4" fill="#fbe5e0"/><rect x="333.36" width="0.97" height="10.4" fill="#fdf2f0"/><rect x="334.30" width="0.97" height="10.4" fill="#f9d5ce"/><rect x="335.23" width="0.97" height="10.4" fill="#fceae6"/><rect x="336.17" width="0.97" height="10.4" fill="#fadad4"/><rect x="337.11" width="0.97" height="10.4" fill="#f8d0c8"/><rect x="338.05" width="0.97" height="10.4" fill="#fef8f7"/><rect x="338.98" width="0.97" height="10.4" fill="#fbe2dd"/><rect x="339.92" width="0.97" height="10.4" fill="#f6c1b7"/><rect x="340.86" width="0.97" height="10.4" fill="#fbe4df"/><rect x="341.79" width="0.97" height="10.4" fill="#f9d4cd"/><rect x="342.73" width="0.97" height="10.4" fill="#fdf3f1"/><rect x="343.67" width="0.97" height="10.4" fill="#fce8e3"/><rect x="344.60" width="0.97" height="10.4" fill="#fbe1db"/><rect x="345.54" width="0.97" height="10.4" fill="#f09a8f"/><rect x="346.48" width="0.97" height="10.4" fill="#f8cdc5"/><rect x="347.41" width="0.97" height="10.4" fill="#fadfd9"/><rect x="348.35" width="0.97" height="10.4" fill="#fbe3de"/><rect x="349.29" width="0.97" height="10.4" fill="#f9d4cd"/><rect x="350.22" width="0.97" height="10.4" fill="#f7c6bd"/><rect x="351.16" width="0.97" height="10.4" fill="#f8d0c9"/><rect x="352.10" width="0.97" height="10.4" fill="#f1a196"/><rect x="353.04" width="0.97" height="10.4" fill="#f8d0c8"/><rect x="353.97" width="0.97" height="10.4" fill="#f2a79c"/><rect x="354.91" width="0.97" height="10.4" fill="#f7c6bc"/><rect x="355.85" width="0.97" height="10.4" fill="#f5bbb0"/><rect x="356.78" width="0.97" height="10.4" fill="#fce8e4"/><rect x="357.72" width="0.97" height="10.4" fill="#f8d0c8"/><rect x="358.66" width="0.97" height="10.4" fill="#f8d0c8"/><rect x="359.59" width="0.97" height="10.4" fill="#f8cdc4"/><rect x="360.53" width="0.97" height="10.4" fill="#fdf4f2"/><rect x="361.47" width="0.97" height="10.4" fill="#f3aea4"/><rect x="362.40" width="0.97" height="10.4" fill="#f7cbc2"/><rect x="363.34" width="0.97" height="10.4" fill="#f9d6cf"/><rect x="364.28" width="0.97" height="10.4" fill="#f7c6bc"/><rect x="365.21" width="0.97" height="10.4" fill="#f8cfc7"/><rect x="366.15" width="0.97" height="10.4" fill="#f5bab0"/><rect x="367.09" width="0.97" height="10.4" fill="#fadbd5"/><rect x="368.03" width="0.97" height="10.4" fill="#fbe1db"/><rect x="368.96" width="0.97" height="10.4" fill="#f4b4aa"/><rect x="369.90" width="0.97" height="10.4" fill="#f4b6ab"/><rect x="370.84" width="0.97" height="10.4" fill="#f6c2b9"/><rect x="371.77" width="0.97" height="10.4" fill="#f7c8bf"/><rect x="372.71" width="0.97" height="10.4" fill="#f7ccc3"/><rect x="373.65" width="0.97" height="10.4" fill="#f6bfb5"/><rect x="374.58" width="0.97" height="10.4" fill="#f09c91"/><rect x="375.52" width="0.97" height="10.4" fill="#f8cfc7"/><rect x="376.46" width="0.97" height="10.4" fill="#ef9085"/><rect x="377.39" width="0.97" height="10.4" fill="#f2a89d"/><rect x="378.33" width="0.97" height="10.4" fill="#f4b8ad"/><rect x="379.27" width="0.97" height="10.4" fill="#f09c91"/><rect x="380.20" width="0.97" height="10.4" fill="#f8cec6"/><rect x="381.14" width="0.97" height="10.4" fill="#f9d5ce"/><rect x="382.08" width="0.97" height="10.4" fill="#f6c3b9"/><rect x="383.02" width="0.97" height="10.4" fill="#f6c0b6"/><rect x="383.95" width="0.97" height="10.4" fill="#f3aca1"/><rect x="384.89" width="0.97" height="10.4" fill="#f3b1a6"/><rect x="385.83" width="0.97" height="10.4" fill="#f1a196"/><rect x="386.76" width="0.97" height="10.4" fill="#f8d0c8"/></g>
<g class="hr" transform="translate(0,71.44)"><rect x="123.50" width="0.97" height="10.4" fill="#bdddf5"/><rect x="124.44" width="0.97" height="10.4" fill="#90bee8"/><rect x="125.37" width="0.97" height="10.4" fill="#a3ccef"/><rect x="126.31" width="0.97" height="10.4" fill="#9ec9ed"/><rect x="127.25" width="0.97" height="10.4" fill="#95c3eb"/><rect x="128.18" width="0.97" height="10.4" fill="#91c0e8"/><rect x="129.12" width="0.97" height="10.4" fill="#a8cff0"/><rect x="130.06" width="0.97" height="10.4" fill="#b6d8f3"/><rect x="131.00" width="0.97" height="10.4" fill="#c0dff6"/><rect x="131.93" width="0.97" height="10.4" fill="#cce5f8"/><rect x="132.87" width="0.97" height="10.4" fill="#99c5ec"/><rect x="133.81" width="0.97" height="10.4" fill="#9fcaee"/><rect x="134.74" width="0.97" height="10.4" fill="#8ebde6"/><rect x="135.68" width="0.97" height="10.4" fill="#cce5f8"/><rect x="136.62" width="0.97" height="10.4" fill="#91bfe8"/><rect x="137.55" width="0.97" height="10.4" fill="#d6eaf9"/><rect x="138.49" width="0.97" height="10.4" fill="#b2d6f2"/><rect x="139.43" width="0.97" height="10.4" fill="#a6cef0"/><rect x="140.36" width="0.97" height="10.4" fill="#c0dff6"/><rect x="141.30" width="0.97" height="10.4" fill="#cae4f7"/><rect x="142.24" width="0.97" height="10.4" fill="#bdddf5"/><rect x="143.17" width="0.97" height="10.4" fill="#cde6f8"/><rect x="144.11" width="0.97" height="10.4" fill="#c8e3f7"/><rect x="145.05" width="0.97" height="10.4" fill="#d5eaf9"/><rect x="145.99" width="0.97" height="10.4" fill="#d1e7f8"/><rect x="146.92" width="0.97" height="10.4" fill="#b1d5f2"/><rect x="147.86" width="0.97" height="10.4" fill="#d0e7f8"/><rect x="148.80" width="0.97" height="10.4" fill="#cbe4f8"/><rect x="149.73" width="0.97" height="10.4" fill="#c1dff6"/><rect x="150.67" width="0.97" height="10.4" fill="#a7cff0"/><rect x="151.61" width="0.97" height="10.4" fill="#b1d5f2"/><rect x="152.54" width="0.97" height="10.4" fill="#c1e0f6"/><rect x="153.48" width="0.97" height="10.4" fill="#9ec9ed"/><rect x="154.42" width="0.97" height="10.4" fill="#d0e7f8"/><rect x="155.35" width="0.97" height="10.4" fill="#c0dff6"/><rect x="156.29" width="0.97" height="10.4" fill="#c0dff6"/><rect x="157.23" width="0.97" height="10.4" fill="#89b9e4"/><rect x="158.16" width="0.97" height="10.4" fill="#bcdcf5"/><rect x="159.10" width="0.97" height="10.4" fill="#bcddf5"/><rect x="160.04" width="0.97" height="10.4" fill="#abd1f1"/><rect x="160.98" width="0.97" height="10.4" fill="#b8daf4"/><rect x="161.91" width="0.97" height="10.4" fill="#92c0e9"/><rect x="162.85" width="0.97" height="10.4" fill="#c5e1f7"/><rect x="163.79" width="0.97" height="10.4" fill="#b6d8f3"/><rect x="164.72" width="0.97" height="10.4" fill="#dcedfa"/><rect x="165.66" width="0.97" height="10.4" fill="#93c1ea"/><rect x="166.60" width="0.97" height="10.4" fill="#c8e3f7"/><rect x="167.53" width="0.97" height="10.4" fill="#bdddf5"/><rect x="168.47" width="0.97" height="10.4" fill="#cfe7f8"/><rect x="169.41" width="0.97" height="10.4" fill="#a3ccef"/><rect x="170.34" width="0.97" height="10.4" fill="#b8daf4"/><rect x="171.28" width="0.97" height="10.4" fill="#f8fbfe"/><rect x="172.22" width="0.97" height="10.4" fill="#add2f1"/><rect x="173.15" width="0.97" height="10.4" fill="#b0d5f2"/><rect x="174.09" width="0.97" height="10.4" fill="#b2d6f2"/><rect x="175.03" width="0.97" height="10.4" fill="#afd4f2"/><rect x="175.97" width="0.97" height="10.4" fill="#cee6f8"/><rect x="176.90" width="0.97" height="10.4" fill="#daecfa"/><rect x="177.84" width="0.97" height="10.4" fill="#c0dff6"/><rect x="178.78" width="0.97" height="10.4" fill="#94c2ea"/><rect x="179.71" width="0.97" height="10.4" fill="#e2f0fb"/><rect x="180.65" width="0.97" height="10.4" fill="#e4f1fb"/><rect x="181.59" width="0.97" height="10.4" fill="#d5e9f9"/><rect x="182.52" width="0.97" height="10.4" fill="#deeefa"/><rect x="183.46" width="0.97" height="10.4" fill="#c4e1f7"/><rect x="184.40" width="0.97" height="10.4" fill="#bfdef6"/><rect x="185.33" width="0.97" height="10.4" fill="#a1cbee"/><rect x="186.27" width="0.97" height="10.4" fill="#99c6ec"/><rect x="187.21" width="0.97" height="10.4" fill="#d7ebf9"/><rect x="188.14" width="0.97" height="10.4" fill="#c4e1f7"/><rect x="189.08" width="0.97" height="10.4" fill="#f4fafe"/><rect x="190.02" width="0.97" height="10.4" fill="#bfdef6"/><rect x="190.96" width="0.97" height="10.4" fill="#b0d5f2"/><rect x="191.89" width="0.97" height="10.4" fill="#d0e7f8"/><rect x="192.83" width="0.97" height="10.4" fill="#e9f4fc"/><rect x="193.77" width="0.97" height="10.4" fill="#cde6f8"/><rect x="194.70" width="0.97" height="10.4" fill="#afd4f2"/><rect x="195.64" width="0.97" height="10.4" fill="#d0e7f8"/><rect x="196.58" width="0.97" height="10.4" fill="#deeefa"/><rect x="197.51" width="0.97" height="10.4" fill="#bdddf5"/><rect x="198.45" width="0.97" height="10.4" fill="#b9dbf4"/><rect x="199.39" width="0.97" height="10.4" fill="#d9ecfa"/><rect x="200.32" width="0.97" height="10.4" fill="#cee6f8"/><rect x="201.26" width="0.97" height="10.4" fill="#c2e0f6"/><rect x="202.20" width="0.97" height="10.4" fill="#c5e2f7"/><rect x="203.13" width="0.97" height="10.4" fill="#b9daf4"/><rect x="204.07" width="0.97" height="10.4" fill="#c0dff6"/><rect x="205.01" width="0.97" height="10.4" fill="#cde6f8"/><rect x="205.95" width="0.97" height="10.4" fill="#cee6f8"/><rect x="206.88" width="0.97" height="10.4" fill="#cae4f7"/><rect x="207.82" width="0.97" height="10.4" fill="#b0d4f2"/><rect x="208.76" width="0.97" height="10.4" fill="#d6eaf9"/><rect x="209.69" width="0.97" height="10.4" fill="#d8ebfa"/><rect x="210.63" width="0.97" height="10.4" fill="#c3e1f7"/><rect x="211.57" width="0.97" height="10.4" fill="#d9ecfa"/><rect x="212.50" width="0.97" height="10.4" fill="#b8daf4"/><rect x="213.44" width="0.97" height="10.4" fill="#bcdcf5"/><rect x="214.38" width="0.97" height="10.4" fill="#ecf5fc"/><rect x="215.31" width="0.97" height="10.4" fill="#b6d8f3"/><rect x="216.25" width="0.97" height="10.4" fill="#94c2ea"/><rect x="217.19" width="0.97" height="10.4" fill="#d3e9f9"/><rect x="218.12" width="0.97" height="10.4" fill="#bbdcf5"/><rect x="219.06" width="0.97" height="10.4" fill="#c3e0f6"/><rect x="220.00" width="0.97" height="10.4" fill="#a2cbee"/><rect x="220.94" width="0.97" height="10.4" fill="#b0d4f2"/><rect x="221.87" width="0.97" height="10.4" fill="#a7cff0"/><rect x="222.81" width="0.97" height="10.4" fill="#cce5f8"/><rect x="223.75" width="0.97" height="10.4" fill="#daecfa"/><rect x="224.68" width="0.97" height="10.4" fill="#a4cdef"/><rect x="225.62" width="0.97" height="10.4" fill="#fefaf9"/><rect x="226.56" width="0.97" height="10.4" fill="#e7f2fc"/><rect x="227.49" width="0.97" height="10.4" fill="#e4f1fb"/><rect x="228.43" width="0.97" height="10.4" fill="#fefbfa"/><rect x="229.37" width="0.97" height="10.4" fill="#f5fafe"/><rect x="230.30" width="0.97" height="10.4" fill="#d1e7f8"/><rect x="231.24" width="0.97" height="10.4" fill="#fcede9"/><rect x="232.18" width="0.97" height="10.4" fill="#eff7fd"/><rect x="233.11" width="0.97" height="10.4" fill="#fdfeff"/><rect x="234.05" width="0.97" height="10.4" fill="#ffffff"/><rect x="234.99" width="0.97" height="10.4" fill="#fbe4df"/><rect x="235.93" width="0.97" height="10.4" fill="#e5f2fb"/><rect x="236.86" width="0.97" height="10.4" fill="#fef7f6"/><rect x="237.80" width="0.97" height="10.4" fill="#edf6fd"/><rect x="238.74" width="0.97" height="10.4" fill="#fcedea"/><rect x="239.67" width="0.97" height="10.4" fill="#e9f4fc"/><rect x="240.61" width="0.97" height="10.4" fill="#fafdfe"/><rect x="241.55" width="0.97" height="10.4" fill="#fadfda"/><rect x="242.48" width="0.97" height="10.4" fill="#f8fbfe"/><rect x="243.42" width="0.97" height="10.4" fill="#f6fafe"/><rect x="244.36" width="0.97" height="10.4" fill="#f9d3cb"/><rect x="245.29" width="0.97" height="10.4" fill="#fefaf9"/><rect x="246.23" width="0.97" height="10.4" fill="#ddeefa"/><rect x="247.17" width="0.97" height="10.4" fill="#fcede9"/><rect x="248.10" width="0.97" height="10.4" fill="#e9f4fc"/><rect x="249.04" width="0.97" height="10.4" fill="#fbe5e1"/><rect x="249.98" width="0.97" height="10.4" fill="#fdefec"/><rect x="250.92" width="0.97" height="10.4" fill="#eff7fd"/><rect x="251.85" width="0.97" height="10.4" fill="#e8f3fc"/><rect x="252.79" width="0.97" height="10.4" fill="#fdeeeb"/><rect x="253.73" width="0.97" height="10.4" fill="#fbfdfe"/><rect x="254.66" width="0.97" height="10.4" fill="#f5fafe"/><rect x="255.60" width="0.97" height="10.4" fill="#fffcfb"/><rect x="256.54" width="0.97" height="10.4" fill="#d5eaf9"/><rect x="257.47" width="0.97" height="10.4" fill="#e9f4fc"/><rect x="258.41" width="0.97" height="10.4" fill="#f3f9fd"/><rect x="259.35" width="0.97" height="10.4" fill="#ffffff"/><rect x="260.28" width="0.97" height="10.4" fill="#fbfdfe"/><rect x="261.22" width="0.97" height="10.4" fill="#eef6fd"/><rect x="262.16" width="0.97" height="10.4" fill="#fdf3f1"/><rect x="263.10" width="0.97" height="10.4" fill="#f3f9fd"/><rect x="264.03" width="0.97" height="10.4" fill="#eff7fd"/><rect x="264.97" width="0.97" height="10.4" fill="#e2f0fb"/><rect x="265.91" width="0.97" height="10.4" fill="#e8f3fc"/><rect x="266.84" width="0.97" height="10.4" fill="#fffcfb"/><rect x="267.78" width="0.97" height="10.4" fill="#e8f3fc"/><rect x="268.72" width="0.97" height="10.4" fill="#ffffff"/><rect x="269.65" width="0.97" height="10.4" fill="#fdf2ef"/><rect x="270.59" width="0.97" height="10.4" fill="#fdf4f2"/><rect x="271.53" width="0.97" height="10.4" fill="#fbe1dc"/><rect x="272.46" width="0.97" height="10.4" fill="#fffdfc"/><rect x="273.40" width="0.97" height="10.4" fill="#e2f0fb"/><rect x="274.34" width="0.97" height="10.4" fill="#fceae6"/><rect x="275.27" width="0.97" height="10.4" fill="#fefbfa"/><rect x="276.21" width="0.97" height="10.4" fill="#fdeeeb"/><rect x="277.15" width="0.97" height="10.4" fill="#fef6f4"/><rect x="278.09" width="0.97" height="10.4" fill="#fce9e5"/><rect x="279.02" width="0.97" height="10.4" fill="#fbe1dc"/><rect x="279.96" width="0.97" height="10.4" fill="#fdf3f1"/><rect x="280.90" width="0.97" height="10.4" fill="#fdeeeb"/><rect x="281.83" width="0.97" height="10.4" fill="#fdf4f2"/><rect x="282.77" width="0.97" height="10.4" fill="#fefaf9"/><rect x="283.71" width="0.97" height="10.4" fill="#fdf1ef"/><rect x="284.64" width="0.97" height="10.4" fill="#fce8e4"/><rect x="285.58" width="0.97" height="10.4" fill="#fffefd"/><rect x="286.52" width="0.97" height="10.4" fill="#f9d7d0"/><rect x="287.45" width="0.97" height="10.4" fill="#fdfeff"/><rect x="288.39" width="0.97" height="10.4" fill="#fbe6e1"/><rect x="289.33" width="0.97" height="10.4" fill="#fef8f7"/><rect x="290.26" width="0.97" height="10.4" fill="#fdf4f3"/><rect x="291.20" width="0.97" height="10.4" fill="#f9d5ce"/><rect x="292.14" width="0.97" height="10.4" fill="#fefbfb"/><rect x="293.08" width="0.97" height="10.4" fill="#e5f2fb"/><rect x="294.01" width="0.97" height="10.4" fill="#fffdfd"/><rect x="294.95" width="0.97" height="10.4" fill="#fdfeff"/><rect x="295.89" width="0.97" height="10.4" fill="#f9d7d0"/><rect x="296.82" width="0.97" height="10.4" fill="#fdf0ed"/><rect x="297.76" width="0.97" height="10.4" fill="#f9d9d2"/><rect x="298.70" width="0.97" height="10.4" fill="#eff7fd"/><rect x="299.63" width="0.97" height="10.4" fill="#fdf3f1"/><rect x="300.57" width="0.97" height="10.4" fill="#fceae7"/><rect x="301.51" width="0.97" height="10.4" fill="#f9d6cf"/><rect x="302.44" width="0.97" height="10.4" fill="#fefbfa"/><rect x="303.38" width="0.97" height="10.4" fill="#fceae7"/><rect x="304.32" width="0.97" height="10.4" fill="#fdefec"/><rect x="305.25" width="0.97" height="10.4" fill="#fffefd"/><rect x="306.19" width="0.97" height="10.4" fill="#fdf4f2"/><rect x="307.13" width="0.97" height="10.4" fill="#fdf0ed"/><rect x="308.07" width="0.97" height="10.4" fill="#deeefa"/><rect x="309.00" width="0.97" height="10.4" fill="#fceae6"/><rect x="309.94" width="0.97" height="10.4" fill="#fdefec"/><rect x="310.88" width="0.97" height="10.4" fill="#fce7e3"/><rect x="311.81" width="0.97" height="10.4" fill="#f8fbfe"/><rect x="312.75" width="0.97" height="10.4" fill="#f7cac2"/><rect x="313.69" width="0.97" height="10.4" fill="#fbe6e1"/><rect x="314.62" width="0.97" height="10.4" fill="#f9d4cc"/><rect x="315.56" width="0.97" height="10.4" fill="#f7cbc3"/><rect x="316.50" width="0.97" height="10.4" fill="#fbe5e0"/><rect x="317.43" width="0.97" height="10.4" fill="#fae0da"/><rect x="318.37" width="0.97" height="10.4" fill="#fef6f5"/><rect x="319.31" width="0.97" height="10.4" fill="#fdefec"/><rect x="320.24" width="0.97" height="10.4" fill="#fdf1ee"/><rect x="321.18" width="0.97" height="10.4" fill="#fbe0db"/><rect x="322.12" width="0.97" height="10.4" fill="#f7c7bd"/><rect x="323.06" width="0.97" height="10.4" fill="#fce8e4"/><rect x="323.99" width="0.97" height="10.4" fill="#fdf0ed"/><rect x="324.93" width="0.97" height="10.4" fill="#fceae7"/><rect x="325.87" width="0.97" height="10.4" fill="#f8d0c8"/><rect x="326.80" width="0.97" height="10.4" fill="#f9fcfe"/><rect x="327.74" width="0.97" height="10.4" fill="#fce7e2"/><rect x="328.68" width="0.97" height="10.4" fill="#fce9e5"/><rect x="329.61" width="0.97" height="10.4" fill="#fbe3de"/><rect x="330.55" width="0.97" height="10.4" fill="#fce8e4"/><rect x="331.49" width="0.97" height="10.4" fill="#fcebe8"/><rect x="332.42" width="0.97" height="10.4" fill="#f5beb3"/><rect x="333.36" width="0.97" height="10.4" fill="#f7c7be"/><rect x="334.30" width="0.97" height="10.4" fill="#f7c6bd"/><rect x="335.23" width="0.97" height="10.4" fill="#f9d5ce"/><rect x="336.17" width="0.97" height="10.4" fill="#f3ada2"/><rect x="337.11" width="0.97" height="10.4" fill="#f9d9d2"/><rect x="338.05" width="0.97" height="10.4" fill="#fce8e4"/><rect x="338.98" width="0.97" height="10.4" fill="#f9d4cc"/><rect x="339.92" width="0.97" height="10.4" fill="#f8d0c8"/><rect x="340.86" width="0.97" height="10.4" fill="#f4b7ad"/><rect x="341.79" width="0.97" height="10.4" fill="#f9d5ce"/><rect x="342.73" width="0.97" height="10.4" fill="#f3afa4"/><rect x="343.67" width="0.97" height="10.4" fill="#fbe6e1"/><rect x="344.60" width="0.97" height="10.4" fill="#f6c3b9"/><rect x="345.54" width="0.97" height="10.4" fill="#fadcd6"/><rect x="346.48" width="0.97" height="10.4" fill="#f0998e"/><rect x="347.41" width="0.97" height="10.4" fill="#f9d7d0"/><rect x="348.35" width="0.97" height="10.4" fill="#f9d5ce"/><rect x="349.29" width="0.97" height="10.4" fill="#f5baaf"/><rect x="350.22" width="0.97" height="10.4" fill="#f4b6ab"/><rect x="351.16" width="0.97" height="10.4" fill="#fce8e4"/><rect x="352.10" width="0.97" height="10.4" fill="#f8d2cb"/><rect x="353.04" width="0.97" height="10.4" fill="#fdeeeb"/><rect x="353.97" width="0.97" height="10.4" fill="#f6c1b7"/><rect x="354.91" width="0.97" height="10.4" fill="#f7cac2"/><rect x="355.85" width="0.97" height="10.4" fill="#f8ccc3"/><rect x="356.78" width="0.97" height="10.4" fill="#f9d6cf"/><rect x="357.72" width="0.97" height="10.4" fill="#f8d2cb"/><rect x="358.66" width="0.97" height="10.4" fill="#fadbd5"/><rect x="359.59" width="0.97" height="10.4" fill="#f5b9ae"/><rect x="360.53" width="0.97" height="10.4" fill="#f2a49a"/><rect x="361.47" width="0.97" height="10.4" fill="#fce7e3"/><rect x="362.40" width="0.97" height="10.4" fill="#f6c2b8"/><rect x="363.34" width="0.97" height="10.4" fill="#f8d2cb"/><rect x="364.28" width="0.97" height="10.4" fill="#f4b2a7"/><rect x="365.21" width="0.97" height="10.4" fill="#fadbd5"/><rect x="366.15" width="0.97" height="10.4" fill="#f6c3b9"/><rect x="367.09" width="0.97" height="10.4" fill="#f9d3cb"/><rect x="368.03" width="0.97" height="10.4" fill="#f5bab0"/><rect x="368.96" width="0.97" height="10.4" fill="#f4b5aa"/><rect x="369.90" width="0.97" height="10.4" fill="#f5b9af"/><rect x="370.84" width="0.97" height="10.4" fill="#f3afa4"/><rect x="371.77" width="0.97" height="10.4" fill="#f5bdb3"/><rect x="372.71" width="0.97" height="10.4" fill="#f9d8d1"/><rect x="373.65" width="0.97" height="10.4" fill="#f3ada2"/><rect x="374.58" width="0.97" height="10.4" fill="#f3ada2"/><rect x="375.52" width="0.97" height="10.4" fill="#f4b8ad"/><rect x="376.46" width="0.97" height="10.4" fill="#f0988d"/><rect x="377.39" width="0.97" height="10.4" fill="#f09c91"/><rect x="378.33" width="0.97" height="10.4" fill="#f6c2b8"/><rect x="379.27" width="0.97" height="10.4" fill="#f5bbb1"/><rect x="380.20" width="0.97" height="10.4" fill="#ee897e"/><rect x="381.14" width="0.97" height="10.4" fill="#ee8d82"/><rect x="382.08" width="0.97" height="10.4" fill="#f4b3a9"/><rect x="383.02" width="0.97" height="10.4" fill="#f8cec5"/><rect x="383.95" width="0.97" height="10.4" fill="#f3afa5"/><rect x="384.89" width="0.97" height="10.4" fill="#f3ada2"/><rect x="385.83" width="0.97" height="10.4" fill="#f6c3b9"/><rect x="386.76" width="0.97" height="10.4" fill="#f19d92"/></g>
<g class="hr" transform="translate(0,81.80)"><rect x="123.50" width="0.97" height="10.4" fill="#bdddf5"/><rect x="124.44" width="0.97" height="10.4" fill="#bcddf5"/><rect x="125.37" width="0.97" height="10.4" fill="#f8fbfe"/><rect x="126.31" width="0.97" height="10.4" fill="#c4e1f7"/><rect x="127.25" width="0.97" height="10.4" fill="#ddedfa"/><rect x="128.18" width="0.97" height="10.4" fill="#f0f7fd"/><rect x="129.12" width="0.97" height="10.4" fill="#fefeff"/><rect x="130.06" width="0.97" height="10.4" fill="#daecfa"/><rect x="131.00" width="0.97" height="10.4" fill="#e3f0fb"/><rect x="131.93" width="0.97" height="10.4" fill="#d6eaf9"/><rect x="132.87" width="0.97" height="10.4" fill="#fef5f3"/><rect x="133.81" width="0.97" height="10.4" fill="#eff7fd"/><rect x="134.74" width="0.97" height="10.4" fill="#b1d5f2"/><rect x="135.68" width="0.97" height="10.4" fill="#edf6fd"/><rect x="136.62" width="0.97" height="10.4" fill="#fbfdfe"/><rect x="137.55" width="0.97" height="10.4" fill="#f5fafe"/><rect x="138.49" width="0.97" height="10.4" fill="#fceae7"/><rect x="139.43" width="0.97" height="10.4" fill="#fef9f8"/><rect x="140.36" width="0.97" height="10.4" fill="#d5eaf9"/><rect x="141.30" width="0.97" height="10.4" fill="#dfeefb"/><rect x="142.24" width="0.97" height="10.4" fill="#bcdcf5"/><rect x="143.17" width="0.97" height="10.4" fill="#eaf4fc"/><rect x="144.11" width="0.97" height="10.4" fill="#f2f8fd"/><rect x="145.05" width="0.97" height="10.4" fill="#f9d3cc"/><rect x="145.99" width="0.97" height="10.4" fill="#e6f2fc"/><rect x="146.92" width="0.97" height="10.4" fill="#9ec9ed"/><rect x="147.86" width="0.97" height="10.4" fill="#cce5f8"/><rect x="148.80" width="0.97" height="10.4" fill="#f2f8fd"/><rect x="149.73" width="0.97" height="10.4" fill="#c4e1f7"/><rect x="150.67" width="0.97" height="10.4" fill="#cce5f8"/><rect x="151.61" width="0.97" height="10.4" fill="#d7ebf9"/><rect x="152.54" width="0.97" height="10.4" fill="#e5f2fb"/><rect x="153.48" width="0.97" height="10.4" fill="#e0effb"/><rect x="154.42" width="0.97" height="10.4" fill="#d3e8f9"/><rect x="155.35" width="0.97" height="10.4" fill="#f6fafe"/><rect x="156.29" width="0.97" height="10.4" fill="#d4e9f9"/><rect x="157.23" width="0.97" height="10.4" fill="#d5eaf9"/><rect x="158.16" width="0.97" height="10.4" fill="#bfdef6"/><rect x="159.10" width="0.97" height="10.4" fill="#c2e0f6"/><rect x="160.04" width="0.97" height="10.4" fill="#f4f9fd"/><rect x="160.98" width="0.97" height="10.4" fill="#aed3f1"/><rect x="161.91" width="0.97" height="10.4" fill="#eaf4fc"/><rect x="162.85" width="0.97" height="10.4" fill="#f2f8fd"/><rect x="163.79" width="0.97" height="10.4" fill="#e0effb"/><rect x="164.72" width="0.97" height="10.4" fill="#f7fbfe"/><rect x="165.66" width="0.97" height="10.4" fill="#c4e1f7"/><rect x="166.60" width="0.97" height="10.4" fill="#fffcfb"/><rect x="167.53" width="0.97" height="10.4" fill="#fefbfb"/><rect x="168.47" width="0.97" height="10.4" fill="#ecf5fc"/><rect x="169.41" width="0.97" height="10.4" fill="#a9d0f0"/><rect x="170.34" width="0.97" height="10.4" fill="#cde5f8"/><rect x="171.28" width="0.97" height="10.4" fill="#fdf2ef"/><rect x="172.22" width="0.97" height="10.4" fill="#fdefec"/><rect x="173.15" width="0.97" height="10.4" fill="#edf6fc"/><rect x="174.09" width="0.97" height="10.4" fill="#ffffff"/><rect x="175.03" width="0.97" height="10.4" fill="#d9ecfa"/><rect x="175.97" width="0.97" height="10.4" fill="#d9ebfa"/><rect x="176.90" width="0.97" height="10.4" fill="#dfeffb"/><rect x="177.84" width="0.97" height="10.4" fill="#fbfdfe"/><rect x="178.78" width="0.97" height="10.4" fill="#b3d7f3"/><rect x="179.71" width="0.97" height="10.4" fill="#fef8f7"/><rect x="180.65" width="0.97" height="10.4" fill="#fcece8"/><rect x="181.59" width="0.97" height="10.4" fill="#cae4f7"/><rect x="182.52" width="0.97" height="10.4" fill="#c6e2f7"/><rect x="183.46" width="0.97" height="10.4" fill="#feffff"/><rect x="184.40" width="0.97" height="10.4" fill="#d5e9f9"/><rect x="185.33" width="0.97" height="10.4" fill="#9ac6ed"/><rect x="186.27" width="0.97" height="10.4" fill="#f3f9fd"/><rect x="187.21" width="0.97" height="10.4" fill="#ecf5fc"/><rect x="188.14" width="0.97" height="10.4" fill="#e7f3fc"/><rect x="189.08" width="0.97" height="10.4" fill="#fadbd4"/><rect x="190.02" width="0.97" height="10.4" fill="#e5f2fb"/><rect x="190.96" width="0.97" height="10.4" fill="#cde6f8"/><rect x="191.89" width="0.97" height="10.4" fill="#e8f3fc"/><rect x="192.83" width="0.97" height="10.4" fill="#cee6f8"/><rect x="193.77" width="0.97" height="10.4" fill="#d2e8f9"/><rect x="194.70" width="0.97" height="10.4" fill="#f4f9fd"/><rect x="195.64" width="0.97" height="10.4" fill="#ddedfa"/><rect x="196.58" width="0.97" height="10.4" fill="#dbecfa"/><rect x="197.51" width="0.97" height="10.4" fill="#fcede9"/><rect x="198.45" width="0.97" height="10.4" fill="#fffefe"/><rect x="199.39" width="0.97" height="10.4" fill="#fdfeff"/><rect x="200.32" width="0.97" height="10.4" fill="#fafcfe"/><rect x="201.26" width="0.97" height="10.4" fill="#fffcfb"/><rect x="202.20" width="0.97" height="10.4" fill="#fcedea"/><rect x="203.13" width="0.97" height="10.4" fill="#eaf4fc"/><rect x="204.07" width="0.97" height="10.4" fill="#fdf3f1"/><rect x="205.01" width="0.97" height="10.4" fill="#d3e8f9"/><rect x="205.95" width="0.97" height="10.4" fill="#d4e9f9"/><rect x="206.88" width="0.97" height="10.4" fill="#b7d9f4"/><rect x="207.82" width="0.97" height="10.4" fill="#e7f3fc"/><rect x="208.76" width="0.97" height="10.4" fill="#fcfdff"/><rect x="209.69" width="0.97" height="10.4" fill="#fdf2ef"/><rect x="210.63" width="0.97" height="10.4" fill="#cae4f8"/><rect x="211.57" width="0.97" height="10.4" fill="#e8f3fc"/><rect x="212.50" width="0.97" height="10.4" fill="#dcedfa"/><rect x="213.44" width="0.97" height="10.4" fill="#dcedfa"/><rect x="214.38" width="0.97" height="10.4" fill="#dcedfa"/><rect x="215.31" width="0.97" height="10.4" fill="#edf6fd"/><rect x="216.25" width="0.97" height="10.4" fill="#b1d5f2"/><rect x="217.19" width="0.97" height="10.4" fill="#e5f2fb"/><rect x="218.12" width="0.97" height="10.4" fill="#ebf4fc"/><rect x="219.06" width="0.97" height="10.4" fill="#d8ebf9"/><rect x="220.00" width="0.97" height="10.4" fill="#c5e2f7"/><rect x="220.94" width="0.97" height="10.4" fill="#c5e2f7"/><rect x="221.87" width="0.97" height="10.4" fill="#fdeeeb"/><rect x="222.81" width="0.97" height="10.4" fill="#cee6f8"/><rect x="223.75" width="0.97" height="10.4" fill="#fbe6e2"/><rect x="224.68" width="0.97" height="10.4" fill="#fffdfd"/><rect x="225.62" width="0.97" height="10.4" fill="#eff7fd"/><rect x="226.56" width="0.97" height="10.4" fill="#e7f3fc"/><rect x="227.49" width="0.97" height="10.4" fill="#fdf3f0"/><rect x="228.43" width="0.97" height="10.4" fill="#fce8e4"/><rect x="229.37" width="0.97" height="10.4" fill="#e5f2fb"/><rect x="230.30" width="0.97" height="10.4" fill="#ebf4fc"/><rect x="231.24" width="0.97" height="10.4" fill="#fefbfa"/><rect x="232.18" width="0.97" height="10.4" fill="#fef9f8"/><rect x="233.11" width="0.97" height="10.4" fill="#fbe1dc"/><rect x="234.05" width="0.97" height="10.4" fill="#f0f7fd"/><rect x="234.99" width="0.97" height="10.4" fill="#fdf4f2"/><rect x="235.93" width="0.97" height="10.4" fill="#d4e9f9"/><rect x="236.86" width="0.97" height="10.4" fill="#fbe3de"/><rect x="237.80" width="0.97" height="10.4" fill="#edf6fd"/><rect x="238.74" width="0.97" height="10.4" fill="#d0e7f8"/><rect x="239.67" width="0.97" height="10.4" fill="#f5fafe"/><rect x="240.61" width="0.97" height="10.4" fill="#feffff"/><rect x="241.55" width="0.97" height="10.4" fill="#fadfd9"/><rect x="242.48" width="0.97" height="10.4" fill="#ebf5fc"/><rect x="243.42" width="0.97" height="10.4" fill="#f3f9fd"/><rect x="244.36" width="0.97" height="10.4" fill="#fdf3f1"/><rect x="245.29" width="0.97" height="10.4" fill="#fbe4df"/><rect x="246.23" width="0.97" height="10.4" fill="#ecf5fc"/><rect x="247.17" width="0.97" height="10.4" fill="#fce7e3"/><rect x="248.10" width="0.97" height="10.4" fill="#fef6f4"/><rect x="249.04" width="0.97" height="10.4" fill="#feffff"/><rect x="249.98" width="0.97" height="10.4" fill="#fafcfe"/><rect x="250.92" width="0.97" height="10.4" fill="#f9fcfe"/><rect x="251.85" width="0.97" height="10.4" fill="#e2f0fb"/><rect x="252.79" width="0.97" height="10.4" fill="#fadad4"/><rect x="253.73" width="0.97" height="10.4" fill="#e0effb"/><rect x="254.66" width="0.97" height="10.4" fill="#fbe2dd"/><rect x="255.60" width="0.97" height="10.4" fill="#fef5f4"/><rect x="256.54" width="0.97" height="10.4" fill="#fbfdfe"/><rect x="257.47" width="0.97" height="10.4" fill="#e2f0fb"/><rect x="258.41" width="0.97" height="10.4" fill="#f5fafe"/><rect x="259.35" width="0.97" height="10.4" fill="#fdf2f0"/><rect x="260.28" width="0.97" height="10.4" fill="#fffcfc"/><rect x="261.22" width="0.97" height="10.4" fill="#fef5f3"/><rect x="262.16" width="0.97" height="10.4" fill="#fcedea"/><rect x="263.10" width="0.97" height="10.4" fill="#ebf5fc"/><rect x="264.03" width="0.97" height="10.4" fill="#feffff"/><rect x="264.97" width="0.97" height="10.4" fill="#dcedfa"/><rect x="265.91" width="0.97" height="10.4" fill="#fdf3f1"/><rect x="266.84" width="0.97" height="10.4" fill="#fdfeff"/><rect x="267.78" width="0.97" height="10.4" fill="#f0f7fd"/><rect x="268.72" width="0.97" height="10.4" fill="#fcede9"/><rect x="269.65" width="0.97" height="10.4" fill="#fefaf9"/><rect x="270.59" width="0.97" height="10.4" fill="#badbf4"/><rect x="271.53" width="0.97" height="10.4" fill="#ffffff"/><rect x="272.46" width="0.97" height="10.4" fill="#eaf4fc"/><rect x="273.40" width="0.97" height="10.4" fill="#fef6f4"/><rect x="274.34" width="0.97" height="10.4" fill="#f8cec6"/><rect x="275.27" width="0.97" height="10.4" fill="#f1f8fd"/><rect x="276.21" width="0.97" height="10.4" fill="#fbfdfe"/><rect x="277.15" width="0.97" height="10.4" fill="#fffdfc"/><rect x="278.09" width="0.97" height="10.4" fill="#fefbfa"/><rect x="279.02" width="0.97" height="10.4" fill="#fce8e3"/><rect x="279.96" width="0.97" height="10.4" fill="#fcebe7"/><rect x="280.90" width="0.97" height="10.4" fill="#f1f8fd"/><rect x="281.83" width="0.97" height="10.4" fill="#fbe1dc"/><rect x="282.77" width="0.97" height="10.4" fill="#ebf5fc"/><rect x="283.71" width="0.97" height="10.4" fill="#fdf3f1"/><rect x="284.64" width="0.97" height="10.4" fill="#fce8e3"/><rect x="285.58" width="0.97" height="10.4" fill="#fceae7"/><rect x="286.52" width="0.97" height="10.4" fill="#f1f8fd"/><rect x="287.45" width="0.97" height="10.4" fill="#eff6fd"/><rect x="288.39" width="0.97" height="10.4" fill="#fafdfe"/><rect x="289.33" width="0.97" height="10.4" fill="#fefbfa"/><rect x="290.26" width="0.97" height="10.4" fill="#faded8"/><rect x="291.20" width="0.97" height="10.4" fill="#e6f2fc"/><rect x="292.14" width="0.97" height="10.4" fill="#fdf1ef"/><rect x="293.08" width="0.97" height="10.4" fill="#fef9f8"/><rect x="294.01" width="0.97" height="10.4" fill="#fceae6"/><rect x="294.95" width="0.97" height="10.4" fill="#fef7f6"/><rect x="295.89" width="0.97" height="10.4" fill="#fce8e4"/><rect x="296.82" width="0.97" height="10.4" fill="#fdefec"/><rect x="297.76" width="0.97" height="10.4" fill="#fbe0da"/><rect x="298.70" width="0.97" height="10.4" fill="#fef7f5"/><rect x="299.63" width="0.97" height="10.4" fill="#fadcd6"/><rect x="300.57" width="0.97" height="10.4" fill="#dfeefa"/><rect x="301.51" width="0.97" height="10.4" fill="#fbe6e2"/><rect x="302.44" width="0.97" height="10.4" fill="#fef8f6"/><rect x="303.38" width="0.97" height="10.4" fill="#feffff"/><rect x="304.32" width="0.97" height="10.4" fill="#f2f8fd"/><rect x="305.25" width="0.97" height="10.4" fill="#ebf5fc"/><rect x="306.19" width="0.97" height="10.4" fill="#fefeff"/><rect x="307.13" width="0.97" height="10.4" fill="#fffdfd"/><rect x="308.07" width="0.97" height="10.4" fill="#fdf1ee"/><rect x="309.00" width="0.97" height="10.4" fill="#e7f3fc"/><rect x="309.94" width="0.97" height="10.4" fill="#fbe5e0"/><rect x="310.88" width="0.97" height="10.4" fill="#fbe0db"/><rect x="311.81" width="0.97" height="10.4" fill="#fef8f7"/><rect x="312.75" width="0.97" height="10.4" fill="#fffcfc"/><rect x="313.69" width="0.97" height="10.4" fill="#ffffff"/><rect x="314.62" width="0.97" height="10.4" fill="#fafcfe"/><rect x="315.56" width="0.97" height="10.4" fill="#fef9f8"/><rect x="316.50" width="0.97" height="10.4" fill="#fbe2dd"/><rect x="317.43" width="0.97" height="10.4" fill="#fef9f8"/><rect x="318.37" width="0.97" height="10.4" fill="#eaf4fc"/><rect x="319.31" width="0.97" height="10.4" fill="#fefaf9"/><rect x="320.24" width="0.97" height="10.4" fill="#f7fbfe"/><rect x="321.18" width="0.97" height="10.4" fill="#fbe5e1"/><rect x="322.12" width="0.97" height="10.4" fill="#f6c0b6"/><rect x="323.06" width="0.97" height="10.4" fill="#fce7e3"/><rect x="323.99" width="0.97" height="10.4" fill="#fefbfa"/><rect x="324.93" width="0.97" height="10.4" fill="#f2f8fd"/><rect x="325.87" width="0.97" height="10.4" fill="#fefbfb"/><rect x="326.80" width="0.97" height="10.4" fill="#e1effb"/><rect x="327.74" width="0.97" height="10.4" fill="#f9d7d1"/><rect x="328.68" width="0.97" height="10.4" fill="#ffffff"/><rect x="329.61" width="0.97" height="10.4" fill="#fbe0db"/><rect x="330.55" width="0.97" height="10.4" fill="#fefbfa"/><rect x="331.49" width="0.97" height="10.4" fill="#fce8e4"/><rect x="332.42" width="0.97" height="10.4" fill="#f9d6cf"/><rect x="333.36" width="0.97" height="10.4" fill="#fefaf9"/><rect x="334.30" width="0.97" height="10.4" fill="#fbe3de"/><rect x="335.23" width="0.97" height="10.4" fill="#fdefec"/><rect x="336.17" width="0.97" height="10.4" fill="#f9d6cf"/><rect x="337.11" width="0.97" height="10.4" fill="#fffdfd"/><rect x="338.05" width="0.97" height="10.4" fill="#f8fbfe"/><rect x="338.98" width="0.97" height="10.4" fill="#feffff"/><rect x="339.92" width="0.97" height="10.4" fill="#fffdfd"/><rect x="340.86" width="0.97" height="10.4" fill="#fad9d3"/><rect x="341.79" width="0.97" height="10.4" fill="#f3aba0"/><rect x="342.73" width="0.97" height="10.4" fill="#fefbfa"/><rect x="343.67" width="0.97" height="10.4" fill="#f8cdc4"/><rect x="344.60" width="0.97" height="10.4" fill="#fadbd5"/><rect x="345.54" width="0.97" height="10.4" fill="#fcebe8"/><rect x="346.48" width="0.97" height="10.4" fill="#f9d6cf"/><rect x="347.41" width="0.97" height="10.4" fill="#fbe4df"/><rect x="348.35" width="0.97" height="10.4" fill="#fdf0ed"/><rect x="349.29" width="0.97" height="10.4" fill="#f4b3a9"/><rect x="350.22" width="0.97" height="10.4" fill="#fafdfe"/><rect x="351.16" width="0.97" height="10.4" fill="#f9d9d2"/><rect x="352.10" width="0.97" height="10.4" fill="#f9d4cc"/><rect x="353.04" width="0.97" height="10.4" fill="#fcede9"/><rect x="353.97" width="0.97" height="10.4" fill="#f8d1c9"/><rect x="354.91" width="0.97" height="10.4" fill="#f7c6bd"/><rect x="355.85" width="0.97" height="10.4" fill="#f8d2cb"/><rect x="356.78" width="0.97" height="10.4" fill="#f8cfc7"/><rect x="357.72" width="0.97" height="10.4" fill="#f8cdc5"/><rect x="358.66" width="0.97" height="10.4" fill="#fbfdfe"/><rect x="359.59" width="0.97" height="10.4" fill="#f4b6ac"/><rect x="360.53" width="0.97" height="10.4" fill="#f2a69c"/><rect x="361.47" width="0.97" height="10.4" fill="#f5bcb2"/><rect x="362.40" width="0.97" height="10.4" fill="#f5bcb2"/><rect x="363.34" width="0.97" height="10.4" fill="#fef7f5"/><rect x="364.28" width="0.97" height="10.4" fill="#f9d3cb"/><rect x="365.21" width="0.97" height="10.4" fill="#fcebe7"/><rect x="366.15" width="0.97" height="10.4" fill="#fbe1db"/><rect x="367.09" width="0.97" height="10.4" fill="#f5bcb1"/><rect x="368.03" width="0.97" height="10.4" fill="#fcedea"/><rect x="368.96" width="0.97" height="10.4" fill="#f8cfc7"/><rect x="369.90" width="0.97" height="10.4" fill="#fdf1ef"/><rect x="370.84" width="0.97" height="10.4" fill="#f8d0c8"/><rect x="371.77" width="0.97" height="10.4" fill="#f7ccc3"/><rect x="372.71" width="0.97" height="10.4" fill="#fadbd5"/><rect x="373.65" width="0.97" height="10.4" fill="#fbe0da"/><rect x="374.58" width="0.97" height="10.4" fill="#f1a095"/><rect x="375.52" width="0.97" height="10.4" fill="#fbe5e0"/><rect x="376.46" width="0.97" height="10.4" fill="#fadcd6"/><rect x="377.39" width="0.97" height="10.4" fill="#fbe0db"/><rect x="378.33" width="0.97" height="10.4" fill="#f2a89d"/><rect x="379.27" width="0.97" height="10.4" fill="#ef9489"/><rect x="380.20" width="0.97" height="10.4" fill="#f5bcb2"/><rect x="381.14" width="0.97" height="10.4" fill="#f9d5cd"/><rect x="382.08" width="0.97" height="10.4" fill="#f7c6bc"/><rect x="383.02" width="0.97" height="10.4" fill="#f4b6ac"/><rect x="383.95" width="0.97" height="10.4" fill="#f8cfc7"/><rect x="384.89" width="0.97" height="10.4" fill="#f09c91"/><rect x="385.83" width="0.97" height="10.4" fill="#f09b90"/><rect x="386.76" width="0.97" height="10.4" fill="#f4b7ad"/></g>
<g class="hr" transform="translate(0,92.16)"><rect x="123.50" width="0.97" height="10.4" fill="#d2e8f9"/><rect x="124.44" width="0.97" height="10.4" fill="#d1e8f9"/><rect x="125.37" width="0.97" height="10.4" fill="#e2f0fb"/><rect x="126.31" width="0.97" height="10.4" fill="#a4cdef"/><rect x="127.25" width="0.97" height="10.4" fill="#d9ebfa"/><rect x="128.18" width="0.97" height="10.4" fill="#bcdcf5"/><rect x="129.12" width="0.97" height="10.4" fill="#c1dff6"/><rect x="130.06" width="0.97" height="10.4" fill="#cae4f8"/><rect x="131.00" width="0.97" height="10.4" fill="#c2e0f6"/><rect x="131.93" width="0.97" height="10.4" fill="#c0dff6"/><rect x="132.87" width="0.97" height="10.4" fill="#9fcaee"/><rect x="133.81" width="0.97" height="10.4" fill="#b0d4f2"/><rect x="134.74" width="0.97" height="10.4" fill="#d4e9f9"/><rect x="135.68" width="0.97" height="10.4" fill="#f6fafe"/><rect x="136.62" width="0.97" height="10.4" fill="#dcedfa"/><rect x="137.55" width="0.97" height="10.4" fill="#e5f2fb"/><rect x="138.49" width="0.97" height="10.4" fill="#c4e1f7"/><rect x="139.43" width="0.97" height="10.4" fill="#c8e3f7"/><rect x="140.36" width="0.97" height="10.4" fill="#d0e7f8"/><rect x="141.30" width="0.97" height="10.4" fill="#b1d5f2"/><rect x="142.24" width="0.97" height="10.4" fill="#b4d7f3"/><rect x="143.17" width="0.97" height="10.4" fill="#cce5f8"/><rect x="144.11" width="0.97" height="10.4" fill="#d1e7f8"/><rect x="145.05" width="0.97" height="10.4" fill="#badbf5"/><rect x="145.99" width="0.97" height="10.4" fill="#d2e8f9"/><rect x="146.92" width="0.97" height="10.4" fill="#c1e0f6"/><rect x="147.86" width="0.97" height="10.4" fill="#d9ecfa"/><rect x="148.80" width="0.97" height="10.4" fill="#d9ebfa"/><rect x="149.73" width="0.97" height="10.4" fill="#cae4f8"/><rect x="150.67" width="0.97" height="10.4" fill="#cfe7f8"/><rect x="151.61" width="0.97" height="10.4" fill="#c6e2f7"/><rect x="152.54" width="0.97" height="10.4" fill="#b6d8f3"/><rect x="153.48" width="0.97" height="10.4" fill="#c5e2f7"/><rect x="154.42" width="0.97" height="10.4" fill="#e2f0fb"/><rect x="155.35" width="0.97" height="10.4" fill="#d7eaf9"/><rect x="156.29" width="0.97" height="10.4" fill="#e4f1fb"/><rect x="157.23" width="0.97" height="10.4" fill="#a9d0f0"/><rect x="158.16" width="0.97" height="10.4" fill="#c8e3f7"/><rect x="159.10" width="0.97" height="10.4" fill="#b9daf4"/><rect x="160.04" width="0.97" height="10.4" fill="#d0e7f8"/><rect x="160.98" width="0.97" height="10.4" fill="#c0dff6"/><rect x="161.91" width="0.97" height="10.4" fill="#cde6f8"/><rect x="162.85" width="0.97" height="10.4" fill="#d8ebfa"/><rect x="163.79" width="0.97" height="10.4" fill="#d8ebfa"/><rect x="164.72" width="0.97" height="10.4" fill="#c7e2f7"/><rect x="165.66" width="0.97" height="10.4" fill="#e6f2fc"/><rect x="166.60" width="0.97" height="10.4" fill="#deeefa"/><rect x="167.53" width="0.97" height="10.4" fill="#c8e3f7"/><rect x="168.47" width="0.97" height="10.4" fill="#e1effb"/><rect x="169.41" width="0.97" height="10.4" fill="#bbdcf5"/><rect x="170.34" width="0.97" height="10.4" fill="#e9f4fc"/><rect x="171.28" width="0.97" height="10.4" fill="#deeefa"/><rect x="172.22" width="0.97" height="10.4" fill="#c1e0f6"/><rect x="173.15" width="0.97" height="10.4" fill="#cae4f7"/><rect x="174.09" width="0.97" height="10.4" fill="#bbdcf5"/><rect x="175.03" width="0.97" height="10.4" fill="#d9ecfa"/><rect x="175.97" width="0.97" height="10.4" fill="#cce5f8"/><rect x="176.90" width="0.97" height="10.4" fill="#cbe4f8"/><rect x="177.84" width="0.97" height="10.4" fill="#d4e9f9"/><rect x="178.78" width="0.97" height="10.4" fill="#7baedc"/><rect x="179.71" width="0.97" height="10.4" fill="#dfeefa"/><rect x="180.65" width="0.97" height="10.4" fill="#bdddf5"/><rect x="181.59" width="0.97" height="10.4" fill="#dbedfa"/><rect x="182.52" width="0.97" height="10.4" fill="#edf5fc"/><rect x="183.46" width="0.97" height="10.4" fill="#e9f4fc"/><rect x="184.40" width="0.97" height="10.4" fill="#cce5f8"/><rect x="185.33" width="0.97" height="10.4" fill="#cde6f8"/><rect x="186.27" width="0.97" height="10.4" fill="#c8e3f7"/><rect x="187.21" width="0.97" height="10.4" fill="#cce5f8"/><rect x="188.14" width="0.97" height="10.4" fill="#d7ebf9"/><rect x="189.08" width="0.97" height="10.4" fill="#cde5f8"/><rect x="190.02" width="0.97" height="10.4" fill="#e4f1fb"/><rect x="190.96" width="0.97" height="10.4" fill="#cfe7f8"/><rect x="191.89" width="0.97" height="10.4" fill="#e4f1fb"/><rect x="192.83" width="0.97" height="10.4" fill="#d5e9f9"/><rect x="193.77" width="0.97" height="10.4" fill="#d7eaf9"/><rect x="194.70" width="0.97" height="10.4" fill="#d6eaf9"/><rect x="195.64" width="0.97" height="10.4" fill="#e2f0fb"/><rect x="196.58" width="0.97" height="10.4" fill="#e4f1fb"/><rect x="197.51" width="0.97" height="10.4" fill="#dcedfa"/><rect x="198.45" width="0.97" height="10.4" fill="#cde6f8"/><rect x="199.39" width="0.97" height="10.4" fill="#c9e3f7"/><rect x="200.32" width="0.97" height="10.4" fill="#f8fbfe"/><rect x="201.26" width="0.97" height="10.4" fill="#e2f0fb"/><rect x="202.20" width="0.97" height="10.4" fill="#d8ebfa"/><rect x="203.13" width="0.97" height="10.4" fill="#f2f8fd"/><rect x="204.07" width="0.97" height="10.4" fill="#dfeffb"/><rect x="205.01" width="0.97" height="10.4" fill="#e6f2fb"/><rect x="205.95" width="0.97" height="10.4" fill="#c2e0f6"/><rect x="206.88" width="0.97" height="10.4" fill="#f6fbfe"/><rect x="207.82" width="0.97" height="10.4" fill="#e7f3fc"/><rect x="208.76" width="0.97" height="10.4" fill="#e8f3fc"/><rect x="209.69" width="0.97" height="10.4" fill="#d5eaf9"/><rect x="210.63" width="0.97" height="10.4" fill="#afd4f2"/><rect x="211.57" width="0.97" height="10.4" fill="#beddf5"/><rect x="212.50" width="0.97" height="10.4" fill="#dcedfa"/><rect x="213.44" width="0.97" height="10.4" fill="#e6f2fc"/><rect x="214.38" width="0.97" height="10.4" fill="#e7f3fc"/><rect x="215.31" width="0.97" height="10.4" fill="#c6e2f7"/><rect x="216.25" width="0.97" height="10.4" fill="#b8daf4"/><rect x="217.19" width="0.97" height="10.4" fill="#cbe4f8"/><rect x="218.12" width="0.97" height="10.4" fill="#bfdef6"/><rect x="219.06" width="0.97" height="10.4" fill="#e9f4fc"/><rect x="220.00" width="0.97" height="10.4" fill="#e6f2fc"/><rect x="220.94" width="0.97" height="10.4" fill="#fdf4f3"/><rect x="221.87" width="0.97" height="10.4" fill="#e2f0fb"/><rect x="222.81" width="0.97" height="10.4" fill="#d9ecfa"/><rect x="223.75" width="0.97" height="10.4" fill="#d4e9f9"/><rect x="224.68" width="0.97" height="10.4" fill="#9ec9ee"/><rect x="225.62" width="0.97" height="10.4" fill="#ebf4fc"/><rect x="226.56" width="0.97" height="10.4" fill="#f9fcfe"/><rect x="227.49" width="0.97" height="10.4" fill="#fdf4f2"/><rect x="228.43" width="0.97" height="10.4" fill="#fffcfc"/><rect x="229.37" width="0.97" height="10.4" fill="#fffcfc"/><rect x="230.30" width="0.97" height="10.4" fill="#f4f9fe"/><rect x="231.24" width="0.97" height="10.4" fill="#fcfdff"/><rect x="232.18" width="0.97" height="10.4" fill="#fbe5e0"/><rect x="233.11" width="0.97" height="10.4" fill="#e4f1fb"/><rect x="234.05" width="0.97" height="10.4" fill="#f2f8fd"/><rect x="234.99" width="0.97" height="10.4" fill="#e6f2fc"/><rect x="235.93" width="0.97" height="10.4" fill="#fdf3f0"/><rect x="236.86" width="0.97" height="10.4" fill="#fdf2f0"/><rect x="237.80" width="0.97" height="10.4" fill="#fef5f4"/><rect x="238.74" width="0.97" height="10.4" fill="#e6f2fc"/><rect x="239.67" width="0.97" height="10.4" fill="#fafdfe"/><rect x="240.61" width="0.97" height="10.4" fill="#fcfeff"/><rect x="241.55" width="0.97" height="10.4" fill="#fdfeff"/><rect x="242.48" width="0.97" height="10.4" fill="#eef6fd"/><rect x="243.42" width="0.97" height="10.4" fill="#fdfeff"/><rect x="244.36" width="0.97" height="10.4" fill="#f8fbfe"/><rect x="245.29" width="0.97" height="10.4" fill="#fdf1ef"/><rect x="246.23" width="0.97" height="10.4" fill="#f1f8fd"/><rect x="247.17" width="0.97" height="10.4" fill="#feffff"/><rect x="248.10" width="0.97" height="10.4" fill="#fcfeff"/><rect x="249.04" width="0.97" height="10.4" fill="#fbfdff"/><rect x="249.98" width="0.97" height="10.4" fill="#fef7f6"/><rect x="250.92" width="0.97" height="10.4" fill="#f3f9fd"/><rect x="251.85" width="0.97" height="10.4" fill="#f8fcfe"/><rect x="252.79" width="0.97" height="10.4" fill="#fef9f8"/><rect x="253.73" width="0.97" height="10.4" fill="#ddedfa"/><rect x="254.66" width="0.97" height="10.4" fill="#fce8e3"/><rect x="255.60" width="0.97" height="10.4" fill="#e3f0fb"/><rect x="256.54" width="0.97" height="10.4" fill="#fef5f3"/><rect x="257.47" width="0.97" height="10.4" fill="#f8fbfe"/><rect x="258.41" width="0.97" height="10.4" fill="#d8ebfa"/><rect x="259.35" width="0.97" height="10.4" fill="#f1f8fd"/><rect x="260.28" width="0.97" height="10.4" fill="#e9f4fc"/><rect x="261.22" width="0.97" height="10.4" fill="#f4f9fd"/><rect x="262.16" width="0.97" height="10.4" fill="#e8f3fc"/><rect x="263.10" width="0.97" height="10.4" fill="#fefbfa"/><rect x="264.03" width="0.97" height="10.4" fill="#f4fafe"/><rect x="264.97" width="0.97" height="10.4" fill="#fffdfd"/><rect x="265.91" width="0.97" height="10.4" fill="#f4f9fe"/><rect x="266.84" width="0.97" height="10.4" fill="#ffffff"/><rect x="267.78" width="0.97" height="10.4" fill="#e9f4fc"/><rect x="268.72" width="0.97" height="10.4" fill="#fbfdfe"/><rect x="269.65" width="0.97" height="10.4" fill="#fffdfc"/><rect x="270.59" width="0.97" height="10.4" fill="#f6fafe"/><rect x="271.53" width="0.97" height="10.4" fill="#f5fafe"/><rect x="272.46" width="0.97" height="10.4" fill="#f0f7fd"/><rect x="273.40" width="0.97" height="10.4" fill="#f7fbfe"/><rect x="274.34" width="0.97" height="10.4" fill="#fef9f8"/><rect x="275.27" width="0.97" height="10.4" fill="#f5fafe"/><rect x="276.21" width="0.97" height="10.4" fill="#eaf4fc"/><rect x="277.15" width="0.97" height="10.4" fill="#fdefed"/><rect x="278.09" width="0.97" height="10.4" fill="#f9d3cb"/><rect x="279.02" width="0.97" height="10.4" fill="#fefaf9"/><rect x="279.96" width="0.97" height="10.4" fill="#fffdfd"/><rect x="280.90" width="0.97" height="10.4" fill="#fef5f3"/><rect x="281.83" width="0.97" height="10.4" fill="#cbe4f8"/><rect x="282.77" width="0.97" height="10.4" fill="#fdfeff"/><rect x="283.71" width="0.97" height="10.4" fill="#f7fbfe"/><rect x="284.64" width="0.97" height="10.4" fill="#fbe5e0"/><rect x="285.58" width="0.97" height="10.4" fill="#fffefd"/><rect x="286.52" width="0.97" height="10.4" fill="#f2f8fd"/><rect x="287.45" width="0.97" height="10.4" fill="#f6fafe"/><rect x="288.39" width="0.97" height="10.4" fill="#fefaf9"/><rect x="289.33" width="0.97" height="10.4" fill="#f8fbfe"/><rect x="290.26" width="0.97" height="10.4" fill="#fef6f5"/><rect x="291.20" width="0.97" height="10.4" fill="#e3f0fb"/><rect x="292.14" width="0.97" height="10.4" fill="#feffff"/><rect x="293.08" width="0.97" height="10.4" fill="#fef8f7"/><rect x="294.01" width="0.97" height="10.4" fill="#f8cfc7"/><rect x="294.95" width="0.97" height="10.4" fill="#fef5f3"/><rect x="295.89" width="0.97" height="10.4" fill="#fdfeff"/><rect x="296.82" width="0.97" height="10.4" fill="#fbe5e0"/><rect x="297.76" width="0.97" height="10.4" fill="#fadfd9"/><rect x="298.70" width="0.97" height="10.4" fill="#fbe5e1"/><rect x="299.63" width="0.97" height="10.4" fill="#fcede9"/><rect x="300.57" width="0.97" height="10.4" fill="#feffff"/><rect x="301.51" width="0.97" height="10.4" fill="#fefbfb"/><rect x="302.44" width="0.97" height="10.4" fill="#fdf2f0"/><rect x="303.38" width="0.97" height="10.4" fill="#fef8f6"/><rect x="304.32" width="0.97" height="10.4" fill="#fef9f7"/><rect x="305.25" width="0.97" height="10.4" fill="#fdfeff"/><rect x="306.19" width="0.97" height="10.4" fill="#d9ecfa"/><rect x="307.13" width="0.97" height="10.4" fill="#feffff"/><rect x="308.07" width="0.97" height="10.4" fill="#daecfa"/><rect x="309.00" width="0.97" height="10.4" fill="#fffdfc"/><rect x="309.94" width="0.97" height="10.4" fill="#fcfeff"/><rect x="310.88" width="0.97" height="10.4" fill="#f7fbfe"/><rect x="311.81" width="0.97" height="10.4" fill="#fceae7"/><rect x="312.75" width="0.97" height="10.4" fill="#fbe3de"/><rect x="313.69" width="0.97" height="10.4" fill="#fdf3f0"/><rect x="314.62" width="0.97" height="10.4" fill="#f8d2ca"/><rect x="315.56" width="0.97" height="10.4" fill="#f8cec6"/><rect x="316.50" width="0.97" height="10.4" fill="#fffcfc"/><rect x="317.43" width="0.97" height="10.4" fill="#fce7e2"/><rect x="318.37" width="0.97" height="10.4" fill="#fef5f3"/><rect x="319.31" width="0.97" height="10.4" fill="#fdf1ef"/><rect x="320.24" width="0.97" height="10.4" fill="#fce9e6"/><rect x="321.18" width="0.97" height="10.4" fill="#fef9f8"/><rect x="322.12" width="0.97" height="10.4" fill="#fef6f4"/><rect x="323.06" width="0.97" height="10.4" fill="#f8fbfe"/><rect x="323.99" width="0.97" height="10.4" fill="#f7fbfe"/><rect x="324.93" width="0.97" height="10.4" fill="#fdf4f2"/><rect x="325.87" width="0.97" height="10.4" fill="#fefeff"/><rect x="326.80" width="0.97" height="10.4" fill="#e8f3fc"/><rect x="327.74" width="0.97" height="10.4" fill="#fbe0da"/><rect x="328.68" width="0.97" height="10.4" fill="#fef6f5"/><rect x="329.61" width="0.97" height="10.4" fill="#fadfd9"/><rect x="330.55" width="0.97" height="10.4" fill="#e6f2fc"/><rect x="331.49" width="0.97" height="10.4" fill="#fffdfd"/><rect x="332.42" width="0.97" height="10.4" fill="#fdfeff"/><rect x="333.36" width="0.97" height="10.4" fill="#fdf2ef"/><rect x="334.30" width="0.97" height="10.4" fill="#fcedea"/><rect x="335.23" width="0.97" height="10.4" fill="#f8d2ca"/><rect x="336.17" width="0.97" height="10.4" fill="#fdeeeb"/><rect x="337.11" width="0.97" height="10.4" fill="#fdf0ed"/><rect x="338.05" width="0.97" height="10.4" fill="#fef6f5"/><rect x="338.98" width="0.97" height="10.4" fill="#faded9"/><rect x="339.92" width="0.97" height="10.4" fill="#fdf2ef"/><rect x="340.86" width="0.97" height="10.4" fill="#f8d2ca"/><rect x="341.79" width="0.97" height="10.4" fill="#fae0da"/><rect x="342.73" width="0.97" height="10.4" fill="#fcece9"/><rect x="343.67" width="0.97" height="10.4" fill="#fce7e2"/><rect x="344.60" width="0.97" height="10.4" fill="#fadcd6"/><rect x="345.54" width="0.97" height="10.4" fill="#f7c6bd"/><rect x="346.48" width="0.97" height="10.4" fill="#f6c3b9"/><rect x="347.41" width="0.97" height="10.4" fill="#faded9"/><rect x="348.35" width="0.97" height="10.4" fill="#f9d8d1"/><rect x="349.29" width="0.97" height="10.4" fill="#fbe2dd"/><rect x="350.22" width="0.97" height="10.4" fill="#f8cec5"/><rect x="351.16" width="0.97" height="10.4" fill="#fce8e4"/><rect x="352.10" width="0.97" height="10.4" fill="#f5fafe"/><rect x="353.04" width="0.97" height="10.4" fill="#f8cdc5"/><rect x="353.97" width="0.97" height="10.4" fill="#fadad4"/><rect x="354.91" width="0.97" height="10.4" fill="#fef7f6"/><rect x="355.85" width="0.97" height="10.4" fill="#fbe2dd"/><rect x="356.78" width="0.97" height="10.4" fill="#fdf1ef"/><rect x="357.72" width="0.97" height="10.4" fill="#f4b7ad"/><rect x="358.66" width="0.97" height="10.4" fill="#fadbd5"/><rect x="359.59" width="0.97" height="10.4" fill="#fffcfc"/><rect x="360.53" width="0.97" height="10.4" fill="#f9d6ce"/><rect x="361.47" width="0.97" height="10.4" fill="#fbe3de"/><rect x="362.40" width="0.97" height="10.4" fill="#f4b2a8"/><rect x="363.34" width="0.97" height="10.4" fill="#fef8f7"/><rect x="364.28" width="0.97" height="10.4" fill="#fafcfe"/><rect x="365.21" width="0.97" height="10.4" fill="#fbe3de"/><rect x="366.15" width="0.97" height="10.4" fill="#fbe5e0"/><rect x="367.09" width="0.97" height="10.4" fill="#fbe3df"/><rect x="368.03" width="0.97" height="10.4" fill="#eff7fd"/><rect x="368.96" width="0.97" height="10.4" fill="#f8cdc5"/><rect x="369.90" width="0.97" height="10.4" fill="#f3b1a6"/><rect x="370.84" width="0.97" height="10.4" fill="#fefbfb"/><rect x="371.77" width="0.97" height="10.4" fill="#f6bfb5"/><rect x="372.71" width="0.97" height="10.4" fill="#fbe3de"/><rect x="373.65" width="0.97" height="10.4" fill="#f2a89d"/><rect x="374.58" width="0.97" height="10.4" fill="#f7ccc3"/><rect x="375.52" width="0.97" height="10.4" fill="#fadbd4"/><rect x="376.46" width="0.97" height="10.4" fill="#f5b9ae"/><rect x="377.39" width="0.97" height="10.4" fill="#f8cfc7"/><rect x="378.33" width="0.97" height="10.4" fill="#fadbd5"/><rect x="379.27" width="0.97" height="10.4" fill="#f6bfb5"/><rect x="380.20" width="0.97" height="10.4" fill="#fadbd4"/><rect x="381.14" width="0.97" height="10.4" fill="#fef5f3"/><rect x="382.08" width="0.97" height="10.4" fill="#f09c91"/><rect x="383.02" width="0.97" height="10.4" fill="#fbe1dc"/><rect x="383.95" width="0.97" height="10.4" fill="#f9d5ce"/><rect x="384.89" width="0.97" height="10.4" fill="#f6c2b8"/><rect x="385.83" width="0.97" height="10.4" fill="#fce8e4"/><rect x="386.76" width="0.97" height="10.4" fill="#fbe3de"/></g>
<text x="391.90" y="23.44" font-size="7.6" fill="#1c1c1c" stroke="#1c1c1c">KISS</text>
<text x="391.90" y="29.74" font-size="7.6" fill="#1c1c1c" stroke="#1c1c1c">WHO2016</text>
<text x="391.90" y="38.54" font-size="7.6" fill="#1c1c1c" stroke="#1c1c1c">PRKCZ</text>
<text x="391.90" y="48.74" font-size="7.6" fill="#1c1c1c" stroke="#1c1c1c">CAMK1D</text>
<text x="391.90" y="59.24" font-size="7.6" fill="#1c1c1c" stroke="#1c1c1c">MAST4</text>
<text x="391.90" y="69.24" font-size="7.6" fill="#1c1c1c" stroke="#1c1c1c">PTK7</text>
<text x="391.90" y="79.74" font-size="7.6" fill="#1c1c1c" stroke="#1c1c1c">KIT</text>
<text x="391.90" y="90.44" font-size="7.6" fill="#1c1c1c" stroke="#1c1c1c">NTRK1</text>
<text x="391.90" y="100.44" font-size="7.6" fill="#1c1c1c" stroke="#1c1c1c">PAK6</text>
<rect x="435" y="18.8" width="5" height="65.4" fill="url(#g2)"/>
<text x="442.60" y="30.32" font-size="7.0" fill="#1c1c1c" stroke="#1c1c1c">4</text>
<text x="442.60" y="43.22" font-size="7.0" fill="#1c1c1c" stroke="#1c1c1c">2</text>
<text x="442.60" y="55.22" font-size="7.0" fill="#1c1c1c" stroke="#1c1c1c">0</text>
<text x="442.40" y="67.52" font-size="7.0" fill="#1c1c1c" stroke="#1c1c1c">−2</text>
<text x="442.40" y="78.92" font-size="7.0" fill="#1c1c1c" stroke="#1c1c1c">−4</text>
<text x="457.10" y="17.08" font-size="6.9" fill="#1c1c1c" stroke="#1c1c1c">KISS</text>
<rect x="457.3" y="21" width="5.8" height="5.8" fill="#2f6db3"/>
<text x="465.80" y="26.38" font-size="6.9" fill="#1c1c1c" stroke="#1c1c1c">low</text>
<rect x="457.3" y="30.5" width="5.8" height="5.8" fill="#e9867a"/>
<text x="465.80" y="35.88" font-size="6.9" fill="#1c1c1c" stroke="#1c1c1c">high</text>
<text x="457.10" y="49.88" font-size="6.9" fill="#1c1c1c" stroke="#1c1c1c">WHO2016</text>
<rect x="457.5" y="53.50" width="5.8" height="5.8" fill="#a6cee3"/>
<text x="466.00" y="58.88" font-size="6.9" fill="#1c1c1c" stroke="#1c1c1c">MDS_SLD</text>
<rect x="457.5" y="62.70" width="5.8" height="5.8" fill="#1f78b4"/>
<text x="466.00" y="68.08" font-size="6.9" fill="#1c1c1c" stroke="#1c1c1c">MDS_RS_SLD</text>
<rect x="457.5" y="71.80" width="5.8" height="5.8" fill="#b2df8a"/>
<text x="466.00" y="77.18" font-size="6.9" fill="#1c1c1c" stroke="#1c1c1c">MDS_RS_MLD</text>
<rect x="457.5" y="81.20" width="5.8" height="5.8" fill="#33a02c"/>
<text x="466.00" y="86.58" font-size="6.9" fill="#1c1c1c" stroke="#1c1c1c">MDS_MLD</text>
<rect x="457.5" y="90.40" width="5.8" height="5.8" fill="#fb9a99"/>
<text x="466.00" y="95.78" font-size="6.9" fill="#1c1c1c" stroke="#1c1c1c">EB1</text>
<rect x="457.5" y="99.90" width="5.8" height="5.8" fill="#e31a1c"/>
<text x="466.00" y="105.28" font-size="6.9" fill="#1c1c1c" stroke="#1c1c1c">EB2</text>
<rect x="457.5" y="108.90" width="5.8" height="5.8" fill="#d9d9d9"/>
<text x="466.00" y="114.28" font-size="6.9" fill="#1c1c1c" stroke="#1c1c1c">MDS_U</text>
<text x="46.80" y="162.00" font-size="10.0" fill="#111" stroke="#111" font-weight="bold">B</text>
<text x="168.20" y="159.80" font-size="9.0" fill="#1c1c1c" stroke="#1c1c1c" text-anchor="middle">NTUH-A</text>
<path d="M92.30 165.20V321.00H244.60" stroke="#111" stroke-width="1.15" fill="none"/>
<path d="M89.30 172.10H92.30M89.30 207.40H92.30M89.30 242.75H92.30M89.30 278.10H92.30M89.30 313.40H92.30M99.40 321.00V324.20M116.64 321.00V324.20M133.88 321.00V324.20M151.12 321.00V324.20M168.36 321.00V324.20M185.60 321.00V324.20M202.84 321.00V324.20M220.08 321.00V324.20M237.32 321.00V324.20" stroke="#1a1a1a" stroke-width="0.9" fill="none"/>
<text x="86.70" y="174.51" font-size="7.8" fill="#1c1c1c" stroke="#1c1c1c" text-anchor="end">1.00</text>
<text x="86.70" y="209.81" font-size="7.8" fill="#1c1c1c" stroke="#1c1c1c" text-anchor="end">0.75</text>
<text x="86.70" y="245.16" font-size="7.8" fill="#1c1c1c" stroke="#1c1c1c" text-anchor="end">0.50</text>
<text x="86.70" y="280.51" font-size="7.8" fill="#1c1c1c" stroke="#1c1c1c" text-anchor="end">0.25</text>
<text x="86.70" y="315.81" font-size="7.8" fill="#1c1c1c" stroke="#1c1c1c" text-anchor="end">0.00</text>
<text x="99.40" y="333.21" font-size="7.8" fill="#1c1c1c" stroke="#1c1c1c" text-anchor="middle">0</text>
<text x="116.64" y="333.21" font-size="7.8" fill="#1c1c1c" stroke="#1c1c1c" text-anchor="middle">20</text>
<text x="133.88" y="333.21" font-size="7.8" fill="#1c1c1c" stroke="#1c1c1c" text-anchor="middle">40</text>
<text x="151.12" y="333.21" font-size="7.8" fill="#1c1c1c" stroke="#1c1c1c" text-anchor="middle">60</text>
<text x="168.36" y="333.21" font-size="7.8" fill="#1c1c1c" stroke="#1c1c1c" text-anchor="middle">80</text>
<text x="185.60" y="333.21" font-size="7.8" fill="#1c1c1c" stroke="#1c1c1c" text-anchor="middle">100</text>
<text x="202.84" y="333.21" font-size="7.8" fill="#1c1c1c" stroke="#1c1c1c" text-anchor="middle">120</text>
<text x="220.08" y="333.21" font-size="7.8" fill="#1c1c1c" stroke="#1c1c1c" text-anchor="middle">140</text>
<text x="237.32" y="333.21" font-size="7.8" fill="#1c1c1c" stroke="#1c1c1c" text-anchor="middle">160</text>
<text x="128.30" y="345.50" font-size="9.0" fill="#1c1c1c" stroke="#1c1c1c" textLength="79.7" lengthAdjust="spacingAndGlyphs">Time from diagnosis (month)</text>
<text transform="translate(67.30,242.75) rotate(-90)" x="0" y="0" font-size="9.0" fill="#1c1c1c" stroke="#1c1c1c" text-anchor="middle" textLength="42.5" lengthAdjust="spacingAndGlyphs">Overall survival</text>
<path d="M99.40 172.10H99.80V174.60H100.20V177.10H100.60V179.60H101.00V182.10H101.40V184.60H101.80V187.10H102.13V189.63H102.46V192.16H102.79V194.69H103.11V197.21H103.44V199.74H103.77V202.27H104.10V204.80H104.65V207.38H105.20V209.97H105.75V212.55H106.30V215.13H106.85V217.72H107.40V220.30H108.23V223.08H109.05V225.85H109.88V228.62H110.70V231.40H111.53V234.15H112.35V236.90H113.17V239.65H114.00V242.40H114.83V245.18H115.65V247.95H116.47V250.72H117.30V253.50H118.80V256.43H120.30V259.37H121.80V262.30H123.17V265.07H124.55V267.85H125.92V270.62H127.30V273.40H130.60V276.70H133.90V280.00H140.40V283.50H142.70V290.00H147.30V294.60H149.60V300.40H165.80V303.80H216.50V303.80" stroke="#b61c40" stroke-width="1.25" fill="none"/>
<path d="M99.50 170.00v4.2M97.50 172.10h4.0M100.50 175.00v4.2M98.50 177.10h4.0M101.50 182.50v4.2M99.50 184.60h4.0M102.50 190.06v4.2M100.50 192.16h4.0M103.50 197.64v4.2M101.50 199.74h4.0M104.50 202.70v4.2M102.50 204.80h4.0M105.50 207.87v4.2M103.50 209.97h4.0M106.50 213.03v4.2M104.50 215.13h4.0M107.50 218.20v4.2M105.50 220.30h4.0M108.70 220.98v4.2M106.70 223.08h4.0M110.00 226.53v4.2M108.00 228.62h4.0M111.20 229.30v4.2M109.20 231.40h4.0M112.60 234.80v4.2M110.60 236.90h4.0M114.00 240.30v4.2M112.00 242.40h4.0M115.50 243.08v4.2M113.50 245.18h4.0M117.00 248.62v4.2M115.00 250.72h4.0M118.50 251.40v4.2M116.50 253.50h4.0M120.00 254.33v4.2M118.00 256.43h4.0M121.50 257.27v4.2M119.50 259.37h4.0M123.00 260.20v4.2M121.00 262.30h4.0M125.00 265.75v4.2M123.00 267.85h4.0M127.00 268.52v4.2M125.00 270.62h4.0M129.50 271.30v4.2M127.50 273.40h4.0M132.00 274.60v4.2M130.00 276.70h4.0M135.00 277.90v4.2M133.00 280.00h4.0M138.00 277.90v4.2M136.00 280.00h4.0M177.30 301.70v4.2M175.30 303.80h4.0M208.50 301.70v4.2M206.50 303.80h4.0M216.20 301.70v4.2M214.20 303.80h4.0" stroke="#b61c40" stroke-width="0.9" fill="none"/>
<path d="M99.40 172.10H103.00V176.50H105.00V178.75H107.00V181.00H109.30V183.50H109.90V186.35H110.50V189.20H114.00V191.00H116.80V193.30H117.95V195.60H119.10V197.90H119.95V201.05H120.80V204.20H122.60V205.60H141.40V209.20H160.10V216.20H172.80V222.60H176.00V229.80H200.80V240.40H239.00V277.10H242.20V277.10" stroke="#2e5884" stroke-width="1.25" fill="none"/>
<path d="M99.80 170.00v4.2M97.80 172.10h4.0M101.50 170.00v4.2M99.50 172.10h4.0M103.50 174.40v4.2M101.50 176.50h4.0M106.00 176.65v4.2M104.00 178.75h4.0M108.50 178.90v4.2M106.50 181.00h4.0M111.00 187.10v4.2M109.00 189.20h4.0M114.00 188.90v4.2M112.00 191.00h4.0M117.00 191.20v4.2M115.00 193.30h4.0M120.00 198.95v4.2M118.00 201.05h4.0M122.60 203.50v4.2M120.60 205.60h4.0M126.60 203.50v4.2M124.60 205.60h4.0M129.50 203.50v4.2M127.50 205.60h4.0M131.80 203.50v4.2M129.80 205.60h4.0M135.30 203.50v4.2M133.30 205.60h4.0M138.10 203.50v4.2M136.10 205.60h4.0M139.90 203.50v4.2M137.90 205.60h4.0M142.70 207.10v4.2M140.70 209.20h4.0M144.50 207.10v4.2M142.50 209.20h4.0M146.80 207.10v4.2M144.80 209.20h4.0M149.10 207.10v4.2M147.10 209.20h4.0M152.00 207.10v4.2M150.00 209.20h4.0M155.00 207.10v4.2M153.00 209.20h4.0M159.80 207.10v4.2M157.80 209.20h4.0M172.50 214.10v4.2M170.50 216.20h4.0M183.00 227.70v4.2M181.00 229.80h4.0M186.00 227.70v4.2M184.00 229.80h4.0M189.00 227.70v4.2M187.00 229.80h4.0M202.50 238.30v4.2M200.50 240.40h4.0M208.30 238.30v4.2M206.30 240.40h4.0M217.30 238.30v4.2M215.30 240.40h4.0M222.40 238.30v4.2M220.40 240.40h4.0M236.50 238.30v4.2M234.50 240.40h4.0M241.90 275.00v4.2M239.90 277.10h4.0" stroke="#2e5884" stroke-width="0.9" fill="none"/>
<text x="192.50" y="223.36" font-size="7.4" fill="#2e5884" stroke="#2e5884" textLength="62.5" lengthAdjust="spacingAndGlyphs">KISS-low, N = 109</text>
<text x="185.00" y="296.16" font-size="7.4" fill="#b61c40" stroke="#b61c40" textLength="64.6" lengthAdjust="spacingAndGlyphs">KISS-high, N = 173</text>
<text x="100.4" y="316.40" font-size="7.3" fill="#1c1c1c" stroke="#1c1c1c"><tspan font-style="italic">P</tspan> &lt; .001</text>
<text x="93.30" y="357.30" font-size="7.5" fill="#1c1c1c" stroke="#1c1c1c">Number at risk</text>
<text x="90.40" y="368.90" font-size="7.5" fill="#b61c40" stroke="#b61c40" text-anchor="end">KISS-high</text>
<text x="90.40" y="380.40" font-size="7.5" fill="#2e5884" stroke="#2e5884" text-anchor="end">KISS-low</text>
<text x="99.40" y="368.90" font-size="7.5" fill="#b61c40" stroke="#b61c40" text-anchor="middle">173</text>
<text x="99.40" y="380.40" font-size="7.5" fill="#2e5884" stroke="#2e5884" text-anchor="middle">109</text>
<text x="116.64" y="368.90" font-size="7.5" fill="#b61c40" stroke="#b61c40" text-anchor="middle">55</text>
<text x="116.64" y="380.40" font-size="7.5" fill="#2e5884" stroke="#2e5884" text-anchor="middle">61</text>
<text x="133.88" y="368.90" font-size="7.5" fill="#b61c40" stroke="#b61c40" text-anchor="middle">17</text>
<text x="133.88" y="380.40" font-size="7.5" fill="#2e5884" stroke="#2e5884" text-anchor="middle">40</text>
<text x="151.12" y="368.90" font-size="7.5" fill="#b61c40" stroke="#b61c40" text-anchor="middle">4</text>
<text x="151.12" y="380.40" font-size="7.5" fill="#2e5884" stroke="#2e5884" text-anchor="middle">17</text>
<text x="168.36" y="368.90" font-size="7.5" fill="#b61c40" stroke="#b61c40" text-anchor="middle">3</text>
<text x="168.36" y="380.40" font-size="7.5" fill="#2e5884" stroke="#2e5884" text-anchor="middle">14</text>
<text x="185.60" y="368.90" font-size="7.5" fill="#b61c40" stroke="#b61c40" text-anchor="middle">2</text>
<text x="185.60" y="380.40" font-size="7.5" fill="#2e5884" stroke="#2e5884" text-anchor="middle">11</text>
<text x="202.84" y="368.90" font-size="7.5" fill="#b61c40" stroke="#b61c40" text-anchor="middle">2</text>
<text x="202.84" y="380.40" font-size="7.5" fill="#2e5884" stroke="#2e5884" text-anchor="middle">6</text>
<text x="220.08" y="368.90" font-size="7.5" fill="#b61c40" stroke="#b61c40" text-anchor="middle">0</text>
<text x="220.08" y="380.40" font-size="7.5" fill="#2e5884" stroke="#2e5884" text-anchor="middle">4</text>
<text x="237.32" y="368.90" font-size="7.5" fill="#b61c40" stroke="#b61c40" text-anchor="middle">0</text>
<text x="237.32" y="380.40" font-size="7.5" fill="#2e5884" stroke="#2e5884" text-anchor="middle">2</text>
<text x="271.80" y="161.90" font-size="10.0" fill="#111" stroke="#111" font-weight="bold">C</text>
<text x="393.20" y="159.80" font-size="9.0" fill="#1c1c1c" stroke="#1c1c1c" text-anchor="middle">NTUH-A</text>
<path d="M317.90 165.20V321.00H468.70" stroke="#111" stroke-width="1.15" fill="none"/>
<path d="M314.90 172.10H317.90M314.90 207.40H317.90M314.90 242.75H317.90M314.90 278.10H317.90M314.90 313.40H317.90M324.20 321.00V324.20M341.40 321.00V324.20M358.60 321.00V324.20M375.80 321.00V324.20M393.00 321.00V324.20M410.20 321.00V324.20M427.40 321.00V324.20M444.60 321.00V324.20M461.80 321.00V324.20" stroke="#1a1a1a" stroke-width="0.9" fill="none"/>
<text x="312.30" y="174.51" font-size="7.8" fill="#1c1c1c" stroke="#1c1c1c" text-anchor="end">1.00</text>
<text x="312.30" y="209.81" font-size="7.8" fill="#1c1c1c" stroke="#1c1c1c" text-anchor="end">0.75</text>
<text x="312.30" y="245.16" font-size="7.8" fill="#1c1c1c" stroke="#1c1c1c" text-anchor="end">0.50</text>
<text x="312.30" y="280.51" font-size="7.8" fill="#1c1c1c" stroke="#1c1c1c" text-anchor="end">0.25</text>
<text x="312.30" y="315.81" font-size="7.8" fill="#1c1c1c" stroke="#1c1c1c" text-anchor="end">0.00</text>
<text x="324.20" y="333.41" font-size="7.8" fill="#1c1c1c" stroke="#1c1c1c" text-anchor="middle">0</text>
<text x="341.40" y="333.41" font-size="7.8" fill="#1c1c1c" stroke="#1c1c1c" text-anchor="middle">20</text>
<text x="358.60" y="333.41" font-size="7.8" fill="#1c1c1c" stroke="#1c1c1c" text-anchor="middle">40</text>
<text x="375.80" y="333.41" font-size="7.8" fill="#1c1c1c" stroke="#1c1c1c" text-anchor="middle">60</text>
<text x="393.00" y="333.41" font-size="7.8" fill="#1c1c1c" stroke="#1c1c1c" text-anchor="middle">80</text>
<text x="410.20" y="333.41" font-size="7.8" fill="#1c1c1c" stroke="#1c1c1c" text-anchor="middle">100</text>
<text x="427.40" y="333.41" font-size="7.8" fill="#1c1c1c" stroke="#1c1c1c" text-anchor="middle">120</text>
<text x="444.60" y="333.41" font-size="7.8" fill="#1c1c1c" stroke="#1c1c1c" text-anchor="middle">140</text>
<text x="461.80" y="333.41" font-size="7.8" fill="#1c1c1c" stroke="#1c1c1c" text-anchor="middle">160</text>
<text x="352.40" y="345.50" font-size="9.0" fill="#1c1c1c" stroke="#1c1c1c" textLength="80.5" lengthAdjust="spacingAndGlyphs">Time from diagnosis (month)</text>
<text transform="translate(291.30,242.75) rotate(-90)" x="0" y="0" font-size="9.0" fill="#1c1c1c" stroke="#1c1c1c" text-anchor="middle" textLength="62.6" lengthAdjust="spacingAndGlyphs">Leukemia-free survival</text>
<path d="M324.20 172.10H324.44V174.47H324.67V176.85H324.91V179.22H325.15V181.59H325.38V183.96H325.62V186.34H325.85V188.71H326.09V191.08H326.33V193.45H326.56V195.83H326.80V198.20H327.04V200.66H327.29V203.11H327.53V205.57H327.78V208.02H328.02V210.48H328.27V212.93H328.51V215.39H328.76V217.84H329.00V220.30H329.38V222.88H329.77V225.47H330.15V228.05H330.53V230.63H330.92V233.22H331.30V235.80H331.96V238.44H332.62V241.08H333.28V243.72H333.94V246.36H334.60V249.00H335.48V251.66H336.36V254.32H337.24V256.98H338.12V259.64H339.00V262.30H339.82V265.07H340.65V267.85H341.48V270.62H342.30V273.40H349.00V277.80H351.20V280.40H353.40V283.00H355.60V285.60H358.20V288.17H360.80V290.73H363.40V293.30H367.80V294.40H373.80V300.80H390.80V305.40H440.00V305.40" stroke="#b61c40" stroke-width="1.25" fill="none"/>
<path d="M324.60 172.37v4.2M322.60 174.47h4.0M325.40 181.86v4.2M323.40 183.96h4.0M326.20 188.98v4.2M324.20 191.08h4.0M327.00 196.10v4.2M325.00 198.20h4.0M327.80 205.92v4.2M325.80 208.02h4.0M328.60 213.29v4.2M326.60 215.39h4.0M329.50 220.78v4.2M327.50 222.88h4.0M330.50 225.95v4.2M328.50 228.05h4.0M331.50 233.70v4.2M329.50 235.80h4.0M332.50 236.34v4.2M330.50 238.44h4.0M333.50 241.62v4.2M331.50 243.72h4.0M334.60 246.90v4.2M332.60 249.00h4.0M336.00 249.56v4.2M334.00 251.66h4.0M337.50 254.88v4.2M335.50 256.98h4.0M339.00 260.20v4.2M337.00 262.30h4.0M341.00 265.75v4.2M339.00 267.85h4.0M343.00 271.30v4.2M341.00 273.40h4.0M345.50 271.30v4.2M343.50 273.40h4.0M348.00 271.30v4.2M346.00 273.40h4.0M350.50 275.70v4.2M348.50 277.80h4.0M353.00 278.30v4.2M351.00 280.40h4.0M356.00 283.50v4.2M354.00 285.60h4.0M359.00 286.07v4.2M357.00 288.17h4.0M362.00 288.63v4.2M360.00 290.73h4.0M365.00 291.20v4.2M363.00 293.30h4.0M401.50 303.30v4.2M399.50 305.40h4.0M440.00 303.30v4.2M438.00 305.40h4.0" stroke="#b61c40" stroke-width="0.9" fill="none"/>
<path d="M324.20 172.10H324.96V174.66H325.72V177.22H326.48V179.78H327.24V182.34H328.00V184.90H329.10V187.56H330.20V190.22H331.30V192.88H332.40V195.54H333.50V198.20H340.10V200.40H340.10V200.40H341.97V202.97H343.83V205.53H345.70V208.10H360.00V208.10H360.00V208.10H361.55V210.50H363.10V212.90H364.65V215.30H366.20V217.70H396.90V224.60H400.40V232.00H425.80V244.20H463.20V278.20H466.20V278.20" stroke="#2e5884" stroke-width="1.25" fill="none"/>
<path d="M324.60 170.00v4.2M322.60 172.10h4.0M326.00 175.12v4.2M324.00 177.22h4.0M328.00 182.80v4.2M326.00 184.90h4.0M330.00 185.46v4.2M328.00 187.56h4.0M332.00 190.78v4.2M330.00 192.88h4.0M334.50 196.10v4.2M332.50 198.20h4.0M337.00 196.10v4.2M335.00 198.20h4.0M340.00 196.10v4.2M338.00 198.20h4.0M343.00 200.87v4.2M341.00 202.97h4.0M346.00 206.00v4.2M344.00 208.10h4.0M349.00 206.00v4.2M347.00 208.10h4.0M352.00 206.00v4.2M350.00 208.10h4.0M355.00 206.00v4.2M353.00 208.10h4.0M358.00 206.00v4.2M356.00 208.10h4.0M361.00 206.00v4.2M359.00 208.10h4.0M364.00 210.80v4.2M362.00 212.90h4.0M366.50 215.60v4.2M364.50 217.70h4.0M370.00 215.60v4.2M368.00 217.70h4.0M373.00 215.60v4.2M371.00 217.70h4.0M385.00 215.60v4.2M383.00 217.70h4.0M408.00 229.90v4.2M406.00 232.00h4.0M411.00 229.90v4.2M409.00 232.00h4.0M413.00 229.90v4.2M411.00 232.00h4.0M427.00 242.10v4.2M425.00 244.20h4.0M433.00 242.10v4.2M431.00 244.20h4.0M440.00 242.10v4.2M438.00 244.20h4.0M446.00 242.10v4.2M444.00 244.20h4.0M466.00 276.10v4.2M464.00 278.20h4.0" stroke="#2e5884" stroke-width="0.9" fill="none"/>
<text x="409.60" y="224.96" font-size="7.4" fill="#2e5884" stroke="#2e5884" textLength="62.5" lengthAdjust="spacingAndGlyphs">KISS-low, N = 109</text>
<text x="399.40" y="298.86" font-size="7.4" fill="#b61c40" stroke="#b61c40" textLength="64.3" lengthAdjust="spacingAndGlyphs">KISS-high, N = 173</text>
<text x="325.5" y="315.10" font-size="7.3" fill="#1c1c1c" stroke="#1c1c1c"><tspan font-style="italic">P</tspan> &lt; .001</text>
<text x="317.70" y="357.80" font-size="7.5" fill="#1c1c1c" stroke="#1c1c1c">Number at risk</text>
<text x="316.00" y="368.70" font-size="7.5" fill="#b61c40" stroke="#b61c40" text-anchor="end">KISS-high</text>
<text x="316.00" y="379.50" font-size="7.5" fill="#2e5884" stroke="#2e5884" text-anchor="end">KISS-low</text>
<text x="324.20" y="368.70" font-size="7.5" fill="#b61c40" stroke="#b61c40" text-anchor="middle">173</text>
<text x="324.20" y="379.50" font-size="7.5" fill="#2e5884" stroke="#2e5884" text-anchor="middle">109</text>
<text x="341.40" y="368.70" font-size="7.5" fill="#b61c40" stroke="#b61c40" text-anchor="middle">35</text>
<text x="341.40" y="379.50" font-size="7.5" fill="#2e5884" stroke="#2e5884" text-anchor="middle">58</text>
<text x="358.60" y="368.70" font-size="7.5" fill="#b61c40" stroke="#b61c40" text-anchor="middle">13</text>
<text x="358.60" y="379.50" font-size="7.5" fill="#2e5884" stroke="#2e5884" text-anchor="middle">39</text>
<text x="375.80" y="368.70" font-size="7.5" fill="#b61c40" stroke="#b61c40" text-anchor="middle">3</text>
<text x="375.80" y="379.50" font-size="7.5" fill="#2e5884" stroke="#2e5884" text-anchor="middle">15</text>
<text x="393.00" y="368.70" font-size="7.5" fill="#b61c40" stroke="#b61c40" text-anchor="middle">2</text>
<text x="393.00" y="379.50" font-size="7.5" fill="#2e5884" stroke="#2e5884" text-anchor="middle">13</text>
<text x="410.20" y="368.70" font-size="7.5" fill="#b61c40" stroke="#b61c40" text-anchor="middle">1</text>
<text x="410.20" y="379.50" font-size="7.5" fill="#2e5884" stroke="#2e5884" text-anchor="middle">10</text>
<text x="427.40" y="368.70" font-size="7.5" fill="#b61c40" stroke="#b61c40" text-anchor="middle">1</text>
<text x="427.40" y="379.50" font-size="7.5" fill="#2e5884" stroke="#2e5884" text-anchor="middle">5</text>
<text x="444.60" y="368.70" font-size="7.5" fill="#b61c40" stroke="#b61c40" text-anchor="middle">0</text>
<text x="444.60" y="379.50" font-size="7.5" fill="#2e5884" stroke="#2e5884" text-anchor="middle">3</text>
<text x="461.80" y="368.70" font-size="7.5" fill="#b61c40" stroke="#b61c40" text-anchor="middle">0</text>
<text x="461.80" y="379.50" font-size="7.5" fill="#2e5884" stroke="#2e5884" text-anchor="middle">2</text>
<text x="46.90" y="406.00" font-size="10.0" fill="#111" stroke="#111" font-weight="bold">D</text>
<text x="168.20" y="404.50" font-size="9.9" fill="#1c1c1c" stroke="#1c1c1c" text-anchor="middle" textLength="51.2" lengthAdjust="spacingAndGlyphs">GSE114922</text>
<path d="M92.50 409.50V566.30H244.40" stroke="#111" stroke-width="1.15" fill="none"/>
<path d="M89.50 416.50H92.50M89.50 452.10H92.50M89.50 487.75H92.50M89.50 523.40H92.50M89.50 559.00H92.50M99.40 566.30V569.50M133.90 566.30V569.50M168.40 566.30V569.50M202.90 566.30V569.50M237.40 566.30V569.50" stroke="#1a1a1a" stroke-width="0.9" fill="none"/>
<text x="86.90" y="418.91" font-size="7.8" fill="#1c1c1c" stroke="#1c1c1c" text-anchor="end">1.00</text>
<text x="86.90" y="454.51" font-size="7.8" fill="#1c1c1c" stroke="#1c1c1c" text-anchor="end">0.75</text>
<text x="86.90" y="490.16" font-size="7.8" fill="#1c1c1c" stroke="#1c1c1c" text-anchor="end">0.50</text>
<text x="86.90" y="525.81" font-size="7.8" fill="#1c1c1c" stroke="#1c1c1c" text-anchor="end">0.25</text>
<text x="86.90" y="561.41" font-size="7.8" fill="#1c1c1c" stroke="#1c1c1c" text-anchor="end">0.00</text>
<text x="99.40" y="578.91" font-size="7.8" fill="#1c1c1c" stroke="#1c1c1c" text-anchor="middle">0</text>
<text x="133.90" y="578.91" font-size="7.8" fill="#1c1c1c" stroke="#1c1c1c" text-anchor="middle">20</text>
<text x="168.40" y="578.91" font-size="7.8" fill="#1c1c1c" stroke="#1c1c1c" text-anchor="middle">40</text>
<text x="202.90" y="578.91" font-size="7.8" fill="#1c1c1c" stroke="#1c1c1c" text-anchor="middle">60</text>
<text x="237.40" y="578.91" font-size="7.8" fill="#1c1c1c" stroke="#1c1c1c" text-anchor="middle">80</text>
<text x="129.00" y="591.20" font-size="9.0" fill="#1c1c1c" stroke="#1c1c1c" textLength="80.0" lengthAdjust="spacingAndGlyphs">Time from diagnosis (month)</text>
<text transform="translate(67.30,487.75) rotate(-90)" x="0" y="0" font-size="9.0" fill="#1c1c1c" stroke="#1c1c1c" text-anchor="middle" textLength="42.5" lengthAdjust="spacingAndGlyphs">Overall survival</text>
<path d="M99.40 416.50H104.80V416.50H107.10V419.40H108.07V421.70H109.03V424.00H110.00V426.30H118.00V429.80H121.00V429.80H121.00V429.80H122.40V432.70H123.80V435.60H124.57V437.90H125.33V440.20H126.10V442.50H130.20V447.30H139.50V451.30H142.50V456.30H153.80V461.30H153.80V461.30H155.65V464.40H157.50V467.50H159.50V471.30H161.65V473.85H163.80V476.40H176.90V482.60H192.50V491.10H217.60V513.30H244.40V513.30" stroke="#b61c40" stroke-width="1.25" fill="none"/>
<path d="M100.00 414.40v4.2M98.00 416.50h4.0M103.00 414.40v4.2M101.00 416.50h4.0M108.00 417.30v4.2M106.00 419.40h4.0M114.00 424.20v4.2M112.00 426.30h4.0M117.00 424.20v4.2M115.00 426.30h4.0M120.00 427.70v4.2M118.00 429.80h4.0M126.00 438.10v4.2M124.00 440.20h4.0M129.00 440.40v4.2M127.00 442.50h4.0M139.50 449.20v4.2M137.50 451.30h4.0M145.00 454.20v4.2M143.00 456.30h4.0M150.00 454.20v4.2M148.00 456.30h4.0M157.00 462.30v4.2M155.00 464.40h4.0M160.00 469.20v4.2M158.00 471.30h4.0M164.00 474.30v4.2M162.00 476.40h4.0M170.00 474.30v4.2M168.00 476.40h4.0M191.60 480.50v4.2M189.60 482.60h4.0M193.40 489.00v4.2M191.40 491.10h4.0M200.00 489.00v4.2M198.00 491.10h4.0M204.00 489.00v4.2M202.00 491.10h4.0M213.60 489.00v4.2M211.60 491.10h4.0M220.20 511.20v4.2M218.20 513.30h4.0" stroke="#b61c40" stroke-width="0.9" fill="none"/>
<path d="M99.40 416.50H112.90V423.50H122.90V431.30H160.50V440.00H228.80V440.00" stroke="#2e5884" stroke-width="1.25" fill="none"/>
<path d="M99.80 414.40v4.2M97.80 416.50h4.0M104.00 414.40v4.2M102.00 416.50h4.0M108.00 414.40v4.2M106.00 416.50h4.0M112.00 414.40v4.2M110.00 416.50h4.0M129.00 429.20v4.2M127.00 431.30h4.0M155.00 429.20v4.2M153.00 431.30h4.0M163.00 437.90v4.2M161.00 440.00h4.0M168.00 437.90v4.2M166.00 440.00h4.0M171.00 437.90v4.2M169.00 440.00h4.0M175.00 437.90v4.2M173.00 440.00h4.0M178.00 437.90v4.2M176.00 440.00h4.0M182.00 437.90v4.2M180.00 440.00h4.0M186.00 437.90v4.2M184.00 440.00h4.0M193.00 437.90v4.2M191.00 440.00h4.0M200.00 437.90v4.2M198.00 440.00h4.0M221.00 437.90v4.2M219.00 440.00h4.0M228.40 437.90v4.2M226.40 440.00h4.0" stroke="#2e5884" stroke-width="0.9" fill="none"/>
<text x="170.00" y="431.46" font-size="7.4" fill="#2e5884" stroke="#2e5884" textLength="58" lengthAdjust="spacingAndGlyphs">KISS-low, N = 24</text>
<text x="183.00" y="528.86" font-size="7.4" fill="#b61c40" stroke="#b61c40" textLength="60.5" lengthAdjust="spacingAndGlyphs">KISS-high, N = 53</text>
<text x="99.6" y="561.60" font-size="7.3" fill="#1c1c1c" stroke="#1c1c1c"><tspan font-style="italic">P</tspan> = .036</text>
<text x="95.40" y="603.10" font-size="7.5" fill="#1c1c1c" stroke="#1c1c1c">Number at risk</text>
<text x="91.90" y="614.40" font-size="7.5" fill="#b61c40" stroke="#b61c40" text-anchor="end">KISS-high</text>
<text x="91.90" y="625.20" font-size="7.5" fill="#2e5884" stroke="#2e5884" text-anchor="end">KISS-low</text>
<text x="99.40" y="614.40" font-size="7.5" fill="#b61c40" stroke="#b61c40" text-anchor="middle">53</text>
<text x="99.40" y="625.20" font-size="7.5" fill="#2e5884" stroke="#2e5884" text-anchor="middle">24</text>
<text x="133.90" y="614.40" font-size="7.5" fill="#b61c40" stroke="#b61c40" text-anchor="middle">25</text>
<text x="133.90" y="625.20" font-size="7.5" fill="#2e5884" stroke="#2e5884" text-anchor="middle">16</text>
<text x="168.40" y="614.40" font-size="7.5" fill="#b61c40" stroke="#b61c40" text-anchor="middle">14</text>
<text x="168.40" y="625.20" font-size="7.5" fill="#2e5884" stroke="#2e5884" text-anchor="middle">11</text>
<text x="202.90" y="614.40" font-size="7.5" fill="#b61c40" stroke="#b61c40" text-anchor="middle">6</text>
<text x="202.90" y="625.20" font-size="7.5" fill="#2e5884" stroke="#2e5884" text-anchor="middle">2</text>
<text x="237.40" y="614.40" font-size="7.5" fill="#b61c40" stroke="#b61c40" text-anchor="middle">1</text>
<text x="237.40" y="625.20" font-size="7.5" fill="#2e5884" stroke="#2e5884" text-anchor="middle">0</text>
<text x="271.90" y="406.00" font-size="10.0" fill="#111" stroke="#111" font-weight="bold">E</text>
<text x="392.30" y="404.50" font-size="9.9" fill="#1c1c1c" stroke="#1c1c1c" text-anchor="middle" textLength="44.6" lengthAdjust="spacingAndGlyphs">GSE58831</text>
<path d="M317.20 409.50V566.30H468.20" stroke="#111" stroke-width="1.15" fill="none"/>
<path d="M314.20 416.50H317.20M314.20 452.10H317.20M314.20 487.75H317.20M314.20 523.40H317.20M314.20 559.00H317.20M324.30 566.30V569.50M351.67 566.30V569.50M379.04 566.30V569.50M406.41 566.30V569.50M433.78 566.30V569.50M461.15 566.30V569.50" stroke="#1a1a1a" stroke-width="0.9" fill="none"/>
<text x="311.60" y="418.91" font-size="7.8" fill="#1c1c1c" stroke="#1c1c1c" text-anchor="end">1.00</text>
<text x="311.60" y="454.51" font-size="7.8" fill="#1c1c1c" stroke="#1c1c1c" text-anchor="end">0.75</text>
<text x="311.60" y="490.16" font-size="7.8" fill="#1c1c1c" stroke="#1c1c1c" text-anchor="end">0.50</text>
<text x="311.60" y="525.81" font-size="7.8" fill="#1c1c1c" stroke="#1c1c1c" text-anchor="end">0.25</text>
<text x="311.60" y="561.41" font-size="7.8" fill="#1c1c1c" stroke="#1c1c1c" text-anchor="end">0.00</text>
<text x="324.30" y="578.91" font-size="7.8" fill="#1c1c1c" stroke="#1c1c1c" text-anchor="middle">0</text>
<text x="351.67" y="578.91" font-size="7.8" fill="#1c1c1c" stroke="#1c1c1c" text-anchor="middle">20</text>
<text x="379.04" y="578.91" font-size="7.8" fill="#1c1c1c" stroke="#1c1c1c" text-anchor="middle">40</text>
<text x="406.41" y="578.91" font-size="7.8" fill="#1c1c1c" stroke="#1c1c1c" text-anchor="middle">60</text>
<text x="433.78" y="578.91" font-size="7.8" fill="#1c1c1c" stroke="#1c1c1c" text-anchor="middle">80</text>
<text x="461.15" y="578.91" font-size="7.8" fill="#1c1c1c" stroke="#1c1c1c" text-anchor="middle">100</text>
<text x="352.70" y="591.20" font-size="9.0" fill="#1c1c1c" stroke="#1c1c1c" textLength="80.1" lengthAdjust="spacingAndGlyphs">Time from diagnosis (month)</text>
<text transform="translate(291.30,487.75) rotate(-90)" x="0" y="0" font-size="9.0" fill="#1c1c1c" stroke="#1c1c1c" text-anchor="middle" textLength="42.5" lengthAdjust="spacingAndGlyphs">Overall survival</text>
<path d="M324.20 416.50H327.70V418.80H332.30V421.40H336.90V424.00H338.60V426.90H341.50V426.90H341.50V426.90H342.10V429.50H342.70V432.10H343.90V434.68H345.10V437.26H346.30V439.84H347.50V442.42H348.70V445.00H354.40V445.00H354.40V445.00H355.38V447.30H356.35V449.60H357.32V451.90H358.30V454.20H368.50V454.20H368.50V454.20H369.65V457.30H370.80V460.40H371.65V462.80H372.50V465.20H373.35V467.60H374.20V470.00H374.55V472.50H374.90V475.00H375.25V477.50H375.60V480.00H384.20V483.30H396.60V483.30H396.60V483.30H397.65V485.75H398.70V488.20H402.10V491.60H402.55V493.95H403.00V496.30H414.20V501.10H418.00V510.70H439.30V518.40H446.20V539.20H467.90V539.20" stroke="#b61c40" stroke-width="1.25" fill="none"/>
<path d="M325.00 414.40v4.2M323.00 416.50h4.0M328.00 416.70v4.2M326.00 418.80h4.0M331.00 416.70v4.2M329.00 418.80h4.0M334.00 419.30v4.2M332.00 421.40h4.0M337.00 421.90v4.2M335.00 424.00h4.0M340.00 424.80v4.2M338.00 426.90h4.0M344.00 432.58v4.2M342.00 434.68h4.0M347.00 437.74v4.2M345.00 439.84h4.0M350.00 442.90v4.2M348.00 445.00h4.0M356.00 445.20v4.2M354.00 447.30h4.0M362.00 452.10v4.2M360.00 454.20h4.0M365.00 452.10v4.2M363.00 454.20h4.0M368.00 452.10v4.2M366.00 454.20h4.0M372.00 460.70v4.2M370.00 462.80h4.0M380.00 477.90v4.2M378.00 480.00h4.0M389.00 481.20v4.2M387.00 483.30h4.0M399.00 486.10v4.2M397.00 488.20h4.0M402.00 486.10v4.2M400.00 488.20h4.0M420.00 508.60v4.2M418.00 510.70h4.0M425.00 508.60v4.2M423.00 510.70h4.0M431.00 508.60v4.2M429.00 510.70h4.0M437.00 508.60v4.2M435.00 510.70h4.0M441.00 516.30v4.2M439.00 518.40h4.0M444.00 516.30v4.2M442.00 518.40h4.0M467.60 537.10v4.2M465.60 539.20h4.0" stroke="#b61c40" stroke-width="0.9" fill="none"/>
<path d="M324.20 416.50H337.50V427.30H352.80V439.30H438.50V439.30" stroke="#2e5884" stroke-width="1.25" fill="none"/>
<path d="M325.00 414.40v4.2M323.00 416.50h4.0M330.00 414.40v4.2M328.00 416.50h4.0M336.00 414.40v4.2M334.00 416.50h4.0M354.50 437.20v4.2M352.50 439.30h4.0M364.00 437.20v4.2M362.00 439.30h4.0M369.00 437.20v4.2M367.00 439.30h4.0M385.60 437.20v4.2M383.60 439.30h4.0M409.60 437.20v4.2M407.60 439.30h4.0M421.70 437.20v4.2M419.70 439.30h4.0M438.30 437.20v4.2M436.30 439.30h4.0" stroke="#2e5884" stroke-width="0.9" fill="none"/>
<text x="384.20" y="431.36" font-size="7.4" fill="#2e5884" stroke="#2e5884" textLength="57" lengthAdjust="spacingAndGlyphs">KISS-low, N = 19</text>
<text x="407.30" y="552.26" font-size="7.4" fill="#b61c40" stroke="#b61c40" textLength="60.6" lengthAdjust="spacingAndGlyphs">KISS-high, N = 89</text>
<text x="324.3" y="561.80" font-size="7.3" fill="#1c1c1c" stroke="#1c1c1c"><tspan font-style="italic">P</tspan> = .035</text>
<text x="319.80" y="602.30" font-size="7.5" fill="#1c1c1c" stroke="#1c1c1c">Number at risk</text>
<text x="316.50" y="613.60" font-size="7.5" fill="#b61c40" stroke="#b61c40" text-anchor="end">KISS-high</text>
<text x="316.50" y="624.40" font-size="7.5" fill="#2e5884" stroke="#2e5884" text-anchor="end">KISS-low</text>
<text x="324.30" y="613.60" font-size="7.5" fill="#b61c40" stroke="#b61c40" text-anchor="middle">89</text>
<text x="324.30" y="624.40" font-size="7.5" fill="#2e5884" stroke="#2e5884" text-anchor="middle">19</text>
<text x="351.67" y="613.60" font-size="7.5" fill="#b61c40" stroke="#b61c40" text-anchor="middle">43</text>
<text x="351.67" y="624.40" font-size="7.5" fill="#2e5884" stroke="#2e5884" text-anchor="middle">11</text>
<text x="379.04" y="613.60" font-size="7.5" fill="#b61c40" stroke="#b61c40" text-anchor="middle">24</text>
<text x="379.04" y="624.40" font-size="7.5" fill="#2e5884" stroke="#2e5884" text-anchor="middle">7</text>
<text x="406.41" y="613.60" font-size="7.5" fill="#b61c40" stroke="#b61c40" text-anchor="middle">14</text>
<text x="406.41" y="624.40" font-size="7.5" fill="#2e5884" stroke="#2e5884" text-anchor="middle">6</text>
<text x="433.78" y="613.60" font-size="7.5" fill="#b61c40" stroke="#b61c40" text-anchor="middle">7</text>
<text x="433.78" y="624.40" font-size="7.5" fill="#2e5884" stroke="#2e5884" text-anchor="middle">4</text>
<text x="461.15" y="613.60" font-size="7.5" fill="#b61c40" stroke="#b61c40" text-anchor="middle">1</text>
<text x="461.15" y="624.40" font-size="7.5" fill="#2e5884" stroke="#2e5884" text-anchor="middle">0</text>
<rect x="0.5" y="0.5" width="519" height="633" fill="none" stroke="#4a4a4a" stroke-width="1.2"/>
</svg></body></html>
